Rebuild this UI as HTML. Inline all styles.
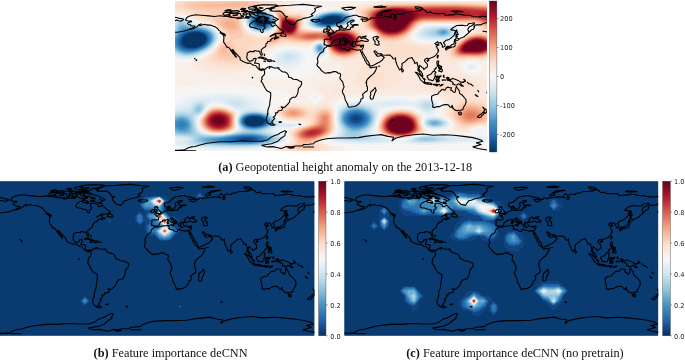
<!DOCTYPE html><html><head><meta charset="utf-8"><title>Figure</title><style>html,body{margin:0;padding:0;background:#fff}svg{display:block}text{font-family:"DejaVu Sans","Liberation Sans",sans-serif;font-size:6.6px;fill:#262626}.cap{font-family:"Liberation Serif","Times New Roman",serif;font-size:12.3px;fill:#111}</style></head><body>
<svg width="685" height="361" viewBox="0 0 685 361">
<defs>
<clipPath id="ca"><rect x="175" y="1" width="312" height="150"/></clipPath>
<clipPath id="cb"><rect x="0" y="181.2" width="314.5" height="154.6"/></clipPath>
<clipPath id="cc"><rect x="344.3" y="181.2" width="314" height="154.6"/></clipPath>
<linearGradient id="rb" x1="0" y1="0" x2="0" y2="1"><stop offset="0" stop-color="#67001f"/><stop offset="0.05" stop-color="#8a0b25"/><stop offset="0.1" stop-color="#b1182b"/><stop offset="0.15" stop-color="#c43b3c"/><stop offset="0.2" stop-color="#d6604d"/><stop offset="0.25" stop-color="#e48066"/><stop offset="0.3" stop-color="#f3a481"/><stop offset="0.35" stop-color="#f8bfa4"/><stop offset="0.4" stop-color="#fddbc7"/><stop offset="0.45" stop-color="#fae9df"/><stop offset="0.5" stop-color="#f7f6f6"/><stop offset="0.55" stop-color="#e4eef4"/><stop offset="0.6" stop-color="#d1e5f0"/><stop offset="0.65" stop-color="#b1d5e7"/><stop offset="0.7" stop-color="#90c4dd"/><stop offset="0.75" stop-color="#6bacd1"/><stop offset="0.8" stop-color="#4393c3"/><stop offset="0.85" stop-color="#327cb7"/><stop offset="0.9" stop-color="#2065ab"/><stop offset="0.95" stop-color="#124984"/><stop offset="1" stop-color="#053061"/></linearGradient>
<filter id="bl" x="-20%" y="-20%" width="140%" height="140%"><feGaussianBlur stdDeviation="1.2"/></filter>
</defs>
<g clip-path="url(#ca)"><rect x="175" y="1" width="312" height="150" fill="#fbe9df"/><rect x="175" y="1" width="312" height="150" fill="#f8f4f2"/><g fill-rule="evenodd"><path fill="#f9efe9" d="M175 1l312 0 0 126.8-1.8-.8-2.2-.4-4-.1-3.1 .5-4.1 2-2.8 3.9-4 .6-10.6-.5-3.4-.8-3.5-1.2 3.9-4 .9-2-.2-2-1.2-2-1.9-1.7-2-1.4-5.3-2.9-.7-1.6-.2-.4 2.4-6 .3-2-.3-2-1.1-2-2.4-2-4.7-2.2-4-1.1-6-.5-14 1.1-18-.4-40 1.6-6 1-6 1.4-4 1.7-1.6 1.4-.8 2-.1 2 .7 14 1.2 8-.3 2-1.2 2-1.9 1.7-7.4 4.3-1.7 2 1.1 1.3 2 1 15.8 3.7 2 2 1.4 2-77.1 0 1.9-.7 2.1-1.3 11.9-4.7 2.4-1.3 1.6-1.3 .6-.7 .3-2-2.7-6-.1-2 1.9-1.8 8.9-2.2 6.1-2-.8-2-2.2-.6-14-.9-4-.8-2-1.2-5-4.5-1.8-2-1.2-2 .2-2 1.8-2 2-1.5 6-3 4.4-1.5 1.6-1 2.8-1 .5-2-2.1-2-3.2-1.8-4-1.6-6-1.9-10-2-18-2.2-20-1-18 0-20 1.1-16 2.1 0-26.3 2 .7 4 .7 4 .2 4-.3 4-1 4-1.6 4-2.1 8-4.8 4-3.2 7-9 .9-2 .5-2-.3-2-.9-2-1.4-2-3.8-3.6-2-1.5-4-2-6-1.6-7.9-1.3-8.1-4.9-4-1.3-4-.3-4 .8zM257 8.7l-4 .9-4 1.7-2.5 1.7-1.7 2-.9 2-.4 4 .9 4 2.4 4 2.2 2.1 2 1.3 4 1.7 4 .6 4 .1 4-.6 4-1.7 2-1.3 2.3-2.2 1.7-3.5 .6-2.5 .1-2-.4-2-2.3-4.4-2-2.8-2-1.8-2-.9-2-.6-4-.4zM297 4.7l-2 1.3-.9 1 1.2 2 3.7 .5 10-.2 1-.3 1.5-2-2.1-2-4.4-1.1-4 0zM325 8.5l-8 1.5-4 1.4-2 1.6-4 4.5-2.1 3.5-.6 2-.1 2 1.3 2 3.5 1.4 6 1.2 8 .5 6-.4 24.9-4.7 3.1-1.7 1.3-2.3 .1-2-.6-2-1.1-2-1.7-2-4-3.2-4-1.8-4-.7-6-.1-6 .3zM371 32.9l-.4 .1-.6 2 1 .5 2-.4 0-.4-1.6-1.7zM423 25l-4 2.5-5.1 5.5-1.4 2-.7 2 .5 2 .7 .6 2 1 4 1.2 10 1.3 12 .8 4-.1 4-.4 4-1.3 2-1 10-6.6 4-2.4 2.5-1.1 2.1-2-.9-2-1.7-.6-8.6-1.4-15.4-.9-10-.2-8 .2zM315 42.8l-3.5 2.2-2 2-.5 .9-2 1-10-1.9-6-.5-4 0-4 .5-4 .9-2.8 1.1-3.2 1.7-3 2.3-1.6 2-3.4 6.4-3.9 5.6-.9 2-.1 2 .9 1.9 2 1.9 2 1.1 6 2.1 8 1.2 6 .5 8-.3 10-1.4 6-1.6 6-2.7 2-1.4 2-2.2 .7-1.1 .8-4 1.2-2 1.3-.7 2-1.7 1.1-1.6 .9-2 .5-4-.4-4-.5-2-.9-2-1.7-2-1-.7-2-.6-2-.1zM469 61l-2 .4-3.4 1.6-1.7 2-.4 2 .5 2 1.6 2 1.4 1 4 1.6 2 .3 4-.3 4-1.5 1.5-1.1 1.6-2 .5-2-.4-2-2-2-5.2-1.7-2-.4zM313 92.3l-2 .9-2.2 1.8-1 2 .2 2 1.8 2 3.2 1.3 2 .1 2-.4 2.1-1 1.8-2 .3-2-.8-2-1.4-1.4-2-1.1-2-.4zM209.5 107l1.5-1 2-.5 4-.3 4 .4 8 2.4 6.3 3 1.7 2 0 2-1.1 6 .8 6-.4 2-2.8 2-2.5 .8-6 1.4-6 .5-6-.1-4-.6-4-1.2-2-1.1-2-1.8-1.2-1.9-.7-2-.5-4 .5-2 1.3-2 3.7-4 2.9-3.7zM391.7 109l7.3-.8 8 0 6 1.3 4 2 5 3.5 .9 2-1 4 0 2 .7 2 2.4 3.2 2.9 2.8-2.8 2-6.5 2-11.6 3.2-6 .7-6-.2-4-.6-8-2.5-5.4-2.6-1.2-2-.1-2 .3-2 1.8-6 2.6-5.9 2-2.7 2-1.5 2-.9z"/><path fill="#fae9df" d="M175 1l119.9 0-1.9 .9-3.5 3.1-.8 2 .5 2 3.8 2.1 2 .2 8-.1 2 .3 2 .8 .8 .7-.3 2-2.5 4.5-1.4 3.5-.2 2 .8 2 2.8 1.4 2.1 .6 7.9 1.1 6 .3 8-.7 14-2.6 10-1.2 2.6-.9 1.6-2 .4-2-.1-2-1.8-4-2.7-3.5-2.6-2.5-.7-2 1.3-.8 2-.7 6-1.1 11.1-1.4 6.9-1.2 11.9-.8 85.6 0 10.5 .3 0 59.4-4 .4-12-1.1-4 .3-3.1 .7-4.2 2-2.1 2-.4 2 .6 2 1.6 2 2.6 2 3 1.5 6 1.5 10 .6 2 .5 4 2.1 0 47.1-6-.5-6 .8-1.5 .4-3.7 2-.8 .9-2 1.5-2 .6-4 .2-6.7-1.2-1.4-2 .8-4-.5-2-2.2-3-6.6-5-.9-2 2.7-8 .2-2-.5-2-2-2-2.9-1.6-4-1.7-4-1.2-4-.9-4-.4-20-.8-24 1.3-18 .2-6 .3-10 1.7-12 2.5-4 1.3-1.8 1.3 3.8 6.5 .9 3.5 .8 10 .9 8-.4 2-1.3 2-.9 .8-2 1.5-6.8 3.7-2.2 2 1 2 11.1 4 .9 2-2 2-54.9 0 .1-2 3-2 7.8-3.9 2-2.1 .1-2-1.8-4-.5-2 .5-2 2.6-2 7.6-2 5.8-2 .5-2-.8-.6-2-.6-15.4-.8-4.6-1.3-3.8-2.7-3.6-4-.6-2 .9-2 2.6-2 2.5-1.3 6-1.8 6-.7 6 0 4 .4 7.2 1.4 2.8 0 4-.9 7-3.1 .8-2-.7-2-3.1-4.4-2-1.6-1.7-2 1.4-2 2.3-1.3 4-1.5 10.7-3.2 3.7-2 1.8-2 1-2 2.1-6 .3-2-1.3-2-5-2-3.3-.9-4-1.9-2-2.4-1.5-8.8-1.5-4-1-1.4-2-1.5-2-.7-2 0-2 .3-3.3 1.3-4.7 3-2 .6-2 0-12-1.3-6 0-6 .6-4 1.3-4.2 1.8-3.6 2-2.4 2-5.8 7.9-6 5.2-6 3.7-6 2-6 1-6 .3-12-.2-12-1.4-6-1.3-3.9-1.2-3.3-2 .1-2 2.1-2 13-8.8 4-3.3 7.8-9.9 1.1-2 .4-2-.3-2-2.3-4-1.8-2-2.9-2.4-4-2.6-6-2.2-6-.9-4-1.2-1.6-.7-4.4-3.1-4-1.8-4-.7-6 .3zM255 8.6l-4 1.1-2.9 1.3-2.7 2-1.5 2-.7 2-.3 4 .9 4 2.1 4 3.1 3 2 1.1 4 1.6 4 .8 4 .1 4-.8 2-.7 4-2.3 2-1.8 1.8-3 1.1-4 0-2-.4-2-.9-2-1.6-3-2-2.8-2-1.9-2-1-2-.5-6-.1zM369 32.5l-1.1 .5-.2 2 1.3 1.3 2 .7 2-.3 1.4-1.7-.9-2-.5-.3-2-.4zM423 24.4l-2 .8-2.5 1.8-3.8 4-3.3 4-1.2 2-.3 2 1.6 2 3.5 1.3 10 1.7 16 1.4 6-.1 4-1.1 2-1 14-9 4-1.8 4.2-1.4 1.7-2-.9-2-1-.8-2-1.2-2-.2-34-1.4-8 .1zM210.6 107l2.4-.9 2-.2 6 .3 8 2.3 4 1.8 2 1.3 1.2 1.4 .3 2-1 6 .7 6-.6 2-3 2-3.6 1.1-4.4 .9-5.6 .5-6-.2-4-.6-4-1.4-2-1.2-2-2.2-1.4-2.9-.5-4 .6-2 1.3-2 6-7.1 2-2zM396.6 109l8.4-.2 6 .8 4 1.6 4 2.5 1.7 1.3 1.2 2-.5 4 .1 2 .7 2 2.7 4 1 2-2.5 2-5.8 2-10.6 2.9-6 .7-6-.2-4-.7-8.5-2.7-3.7-2-1.5-2-.2-2 .1-2 1.8-6.2 3-5.8 1-1.4 2-1.7 2-1 4-1.2z"/><path fill="#fbe4d6" d="M175 1l108.1 0 .9 2-.3 4 .8 2 2.1 2 2.4 .9 4 .9 8-.5 2 .2 2 .8 1 1.7-.5 2-2.5 5.7-.3 2.3 .4 2 1.9 1.4 2 .7 6 .9 10 .6 6-.4 18-3 4-.2 8 .4 .7-.4 .9-2 .4-4-1.2-4-3.5-6-.4-2 1.1-1 4-1.4 14-2.7 12-1.5 8-.4 56-.5 20 .3 16 .7 0 56.3-6 1-12-.7-14 2.4-12-1.6-14 3.6-16 2.3-5.9 1.2-3.5 2-.6 1.2-.3 .8 .1 2 .6 4-.3 2-1.2 2-2.5 2-3.8 2-6.6 2.3-6 1.2-6 .5-8-.2-8-1.1-3.3-.7-2.7-2-.4-4 .5-4 .6-2 2.2-4 6.8-8 .7-2-.6-2-1.8-.5-2 .2-8 1.8-8 .4-6-.5-6-1.9-2-1.2-1.6-2.3-2.2-8-.9-2-1.5-2-1.8-1.2-2-.6-4 .3-8 3.2-2 .4-20-1.2-4 .2-4 .9-10 4-4 2-2.3 2-4.8 6-5.2 4-5.7 2.8-6 1.8-6 .9-8 .3-8-.4-6-.9-6-1.5-2.5-1-2-2 .4-2 1.7-2 8.4-6.9 8.8-11.1 1.1-2 .5-2-.4-2-.8-2-1.5-2-3.7-3.7-4-3-4-2.1-6-1.8-6.5-1.4-7.5-4.7-4-1.5-4-.8-6-.3zM253 8.5l-4 1.3-4 2.4-.8 .8-1.2 1.9-.7 2.1-.1 4 .9 4 1.9 3.9 2 2.4 4 2.8 4 1.5 4 .8 4 .1 2-.2 4-1.6 4-2.4 2-1.7 2.1-3.6 1-4 .1-2-.4-2-.8-2-4-6.7-2-1.9-2-.9-2-.4-8 .2zM367 32l-1.5 1 .3 2 1.2 1.8 2 2 2 .9 1.1-.7 .9-.2 2-2.3 .4-1.5-.4-.8-.6-1.2-1.4-.8-2-.5-2-.1zM431 23l-4 .2-4 .7-2 .6-2 1.3-5.1 5.2-5.2 6-1.1 2-.1 2 1.5 1.3 1.5 .7 4.5 1.2 26 3.7 4 .1 2-.5 4-1.9 14-9.5 4-2.1 9.6-3 .6-2-1.2-2-2.1-2-2.9-.8-26-1.1zM432.1 75l4.9-.8 6-.2 6 .3 6 .9 16 4.3 3.9 1.5 3.2 2 1.9 2 .8 2 0 2-1.4 4-.1 2 1.6 2 6.1 3.9 0 24.1-6 .1-6 .9-3.6 1-6.4 3.1-2 .3-4-.4-2.1-1-1.2-2-1.2-4-1.4-2-6.3-6-.7-2 .5-2 .9-2 4.2-8-.4-2-3.4-2-24.7-8-3.1-2-1.7-2-.6-2 .7-2 2.4-2 6.1-2.7zM336.2 89l2.8-.2 3.8 .2 .3 2-4.1 1.2-4 .5-2-.7-1.2-1zM289.7 105l5.3-.4 4 .4 4 .6 8 2.1 2 0 8-2.5 4-.6 4 1.1 2 1.6 2 3.6 .5 2.1 1.3 14 .1 2-.6 2-1.3 2-2.5 2-7.6 4-2.6 2 0 2 2.7 1.6 5.3 2.4 .4 2-3.6 2-40.3 0-1.8-1.4-.5-.6 1.7-2 6.8-4 1.3-2-.1-2-1.8-4-.2-2 .9-2 2.9-2 12.7-4 1.3-2-1-1.8-2-.6-12 .1-6-.6-4-1.4-2-1.3-2.7-2.4-1.4-2-.1-2 1.5-2 4.7-2.6 4-1zM212.3 107l4.7-.6 6 .7 4 1.2 4 1.6 2.1 1.1 1.9 1.5 .4 .5 .5 2-.7 6 .4 6-.7 2-3.3 2-4.6 1.3-4.2 .7-5.8 .3-4-.2-4-.8-3.8-1.3-2.7-2-1.5-2-1.3-4 0-2 .5-2 1.3-2 5.5-6.5 2-1.9 2-1.2zM388.9 111l6.1-1.3 8-.4 6 .5 6 2.2 4.5 3 1.4 2 .1 6 .7 2 2.4 4 .3 2-2.4 2-5.4 2-9.6 2.5-6 .8-4 0-4-.6-8-2.1-4-1.9-1.2-.7-1.6-2-.5-2 .5-4 1.2-4 1.6-3.4 2-2.8 2-1.9 2-1.2z"/><path fill="#fcdecd" d="M175 3l0-.9 3-1.1 95.6 0 3.6 2 4.7 6 2.1 2 2.9 2 6.1 .9 8-.5 2 .4 1.5 1.2 0 2-2.1 6-.3 2 .2 2 .7 1.1 1.3 .9 2.7 .6 8 .9 10 .3 6-.6 12-2.2 6-.5 4 .3 6 2 2 1.2 1.9 2 3.3 6 .8 4-.2 4-.6 2-1.3 2-1.9 2-4 2.9-6 2.5-6 1-4 .1-6-1-2-.5-4-2.3-2-3.3-1.5-5.4-.9-2-1.6-2.2-2-1.3-2-.6-4 .3-8 2.7-2 .3-18-1.4-6-.2-2 .4-10 3.8-8 1.1-2 .8-2.6 2.3-4.1 6-2.1 2-3.2 2.2-6 2.6-6 1.4-8 .7-8-.4-6-1-4-1.2-2-1.2-1.1-1.1 .3-2 1.4-2 3.4-3.3 6-8.2 5.3-6.5 .4-2-.3-2-1.1-2-3.4-4-2.9-2.7-6-4.3-4-1.9-10-3-6-3.7-4-1.6-12-2.7zM259 6.7l-8 1.7-6 2.6-2.3 2-1.1 2-.3 2 .2 4 .9 4 1.6 4 3 3.6 2 1.6 4 2 2 .6 4 .9 4 .2 4-1.3 2-1.1 6.2-4.5 1.4-2 .8-2 1-4 .1-2-1.2-4-2.3-4.4-2-3.4-2-1.9-2-.9-2-.4-4 .1zM395.8 3l53.2-.8 16 .3 22 .9 0 54.4-6 1-12-.3-12 1.2-2-.2-4-1.2-2.1-1.3-1.7-2-.4-2 .5-2 1.6-2 4.6-4 9.5-7.1 4-2.3 4-1.7 10.9-2.9-.7-2-3.5-4-2.7-1.2-2-.5-4-.3-38-.4-6 .3-4 1.1-2.1 1-1.9 1.7-13.5 14.3-.9 2 2.4 1.7 2 .6 20 3.7 4.3 2 .3 2-2.8 2-5.8 1.8-6 1-6 .5-8 .3-8-.4-4-.7-4-1.5-1.7-1-1.7-2-.4-2 .8-2 1.3-2-.2-2-3.2-2-2.9-1.3-2-1.6-.8-1.1-.1-4-.9-2-2.2-1.3-2-.7-6-.8-1.4-1.2-.7-2-.7-6-.5-2-2.8-6-.6-2 1.2-2 1.5-.7 8-2.2 14-2.4zM372.9 73l4.1-.8 2 .2 2.3 .6 2.6 2 .7 2-.8 2-2.8 1.8-2 .6-4 .2-2-.3-2-.8-1.8-1.5-.4-2 1.1-2zM438.3 81l4.7-1 6-.4 6 .4 6 1 5.9 2 3 2 1.3 2-.2 2-1.5 2-2.5 1.8-2 .9-2 .5-4 .2-4-.3-10-1.6-5.2-1.5-4.5-2-2.3-2-.4-2 1.5-2zM462.6 99l2.4-1 2-.2 6 .7 6 1.7 4 1.6 4 2.3 0 19.7-12 1.5-10 3.1-2 .1-2-.2-2.6-1.3-1.4-1.7-2.6-4.3-3.9-4-1.5-2-.4-2 .5-2 1.1-2 2.8-3.6 4-3.5 4-2.4zM215.4 107l5.6 .2 4 .9 6 2.3 2 1.2 1.7 1.4 .7 2-.5 6 .2 6-.9 2-3.5 2-3.7 1-6 .9-4 .1-4-.2-4-.8-2.9-1-3.1-2.2-1.4-1.8-1.4-4 0-2 .5-2 1.3-2 7-7.8 2-1.3zM284.9 107l6.1-1.2 6 0 6 1.1 8 3 2 .1 8-3 4-.5 2 .3 2 .8 2 1.7 1 1.7 1.2 4 .9 14-.6 2-1.4 2-1.1 .9-2 1.4-7.3 3.7-3 2-.8 2 1.1 1.1 4.6 2.9-.1 2-5.5 2-26.9 0-2.1-.7-2.5-1.3 .7-2 5.5-4 1-2-.4-2-1.8-4 0-2 1.1-2 3.1-2 12.3-4 1.9-2 .4-2-.5-2-.8-.5-2-.1-8 1.4-6 .2-6-.7-4-1.6-3.5-2.7-1.2-2 .2-2 2.5-2.4zM391 111l4-.8 4-.4 8 .3 6 1.6 4 2.2 1.4 1.1 1.7 2 .4 2 .1 4 .6 2 2 4 0 2-2.3 2-5.2 2-8.7 2.2-6 .8-6-.3-6-1.2-4.5-1.5-3.8-2-1.7-2-.6-2 0-2 .8-4 1.7-4 2.1-3.3 2-2 2-1.2z"/><path fill="#fcd7c2" d="M180.1 3l7-2 76.8 0 5.5 2-4.8 2-7.6 1.2-8 2.1-6.4 2.7-1.9 2-.6 2-.1 2 .6 4 1.5 6 1.9 4 3 3.7 2 1.6 4.9 2.7 2.1 2-1.8 2-3.1 2-1.8 2-.4 2 .3 4-.4 2-1.2 2-2.2 2-3.8 2-4.6 1.3-4 .7-6 .3-6-.5-4-.9-2.3-.9-2.1-2 .2-2 6-10 7.4-8 .4-2-.5-2-1.3-2-3.7-4-6.1-5.5-4-3.1-4-2.6-10.6-4.8-12.9-4-4.9-2-1-2zM440.3 3l24.7 .2 22 .8 0 26.4-2-.1-2-1.4-4-4-4-2-4-.3-34-.4-12 .3-4 .9-3 1.6-11 11.2-2 1.7-4 2.5-4 1.4-2 .4-4 .2-4-.4-6-1.7-2-1.1-1.7-2.2-.5-2-1.1-2-.7-.6-2-1.2-6.9-2.2-1.5-2-1.7-8-2.6-6 .1-2 .6-.7 1.9-1.3 2.1-.8 10-2.5 10-1.6 10-.6zM271.7 5l1.3-.2 2 .8 4 2.5 6 4.9 2 .9 4 .9 4 0 4-.6 2 .1 1.7 .7 .9 2-2.1 8 .1 2 1.4 2.2 2 .6 4 .5 14 .9 6-.5 14-2.4 6-.3 4 .6 4 1.6 4 3 1.5 1.8 2 4 .7 4-.2 2-.4 2-.8 2-1.4 2-2 2-1.4 1.1-4 2.3-6 1.8-6 .3-6-.9-4-1.6-2-1.5-2-3.6-2.1-5.9-1.4-2-2.5-1.8-2-.6-4 .3-6 1.8-4 .6-24-2-2 .5-6 2.7-4 1.2-2 0-2.6-.7-2-2-.4-2 1-.9 .5-1.1 7.5-5.6 2.7-2.4 1.3-2 1.7-6 0-2-1.1-4-2.9-6-1.7-5zM479.4 33l3.6-.5 2 .1 2 .7 0 23.5-6 1.4-12-.3-8 .7-4 0-4-1.1-3-2.5-.6-2 .3-2 1.2-2 3.8-4 6.3-5.1 6-3.7 4-1.7 4-1zM447.9 87l1.1-.8 2-.7 2 0 2 .4 2.3 1.1-2.3 1.1-2 .2-2-.2zM460.6 103l2.4-1 4-.8 4-.1 4 .4 6 1.7 3.5 1.8 2.5 1.7 0 15.8-2 .7-10 1.5-10 2.2-2 0-2-.4-2-1.3-6.8-8.2-1.2-2-.1-2 .6-2 1.2-2 1.8-2 2.5-2zM288.8 107l6.2-.4 6 .9 4.3 1.5 3.3 2 .4 .6 2 1.4 2-.3 6-3.5 4-1.2 2-.2 2 .4 2 .9 2 1.9 1 2 .8 4 .6 10-.4 3-.3 1-1.5 2-2.6 2-11.5 6-1.5 2 1.4 2 2.5 2-.8 2-5.7 1.5-5.1 .5-7.4 0-3.5-.3-4-.8-2.5-.9-.4-2 4.5-4 .5-2-2.6-6 .1-2 1.4-2 3.2-2 12.1-4 2.2-2 .9-2 .3-2-.6-2-1.1-1.8-2 .3-6 2.5-6 1.1-4 .2-4-.4-4-1.1-1.6-.8-2.6-2-1.1-2 .4-2 2.9-2.3 2-.8zM210.1 109l2.9-1.2 2-.3 6 .2 6 1.5 4 1.7 2 1.3 .9 .8 1 2-.4 6 .1 6-1.1 2-3.8 2-2.7 .7-6 1-4 .1-4-.3-4-.8-2-.7-3.2-2-1.6-2-1-2-.5-2 0-2 .5-2 1.3-2 4.5-5.4 2-1.9zM393.3 111l3.7-.6 4-.2 6 .4 6 1.8 4 2.3 2.2 2.3 .7 2 .3 4 2.3 6-.2 2-2.4 2-5.1 2-5.8 1.6-8 1.1-6-.3-6-1.2-3.5-1.2-4-2-1.8-2-.6-2-.1-2 .7-4 1.7-4 1.6-2.4 1.5-1.6 2.5-1.8 2-1z"/><path fill="#fbccb4" d="M187 3l6-1.3 6.8-.7 55.8 0 5.5 2-2.8 2-11.3 3-8.3 3-1.5 2 1.8 5.5 4.1 16.5-1 2-1.1 .6-6.4 1.4-1.6 1.1-.3 .9 3.4 8 3 4 .9 2-.7 2-3.2 2-1.1 .4-4 .8-4 .2-6-.7-2-.7-2-1.8-.3-2.2 .3-2 1.6-4 2.4-3.4 4-3.3 7.3-3.3-1.3-.5-.5-1.5-1.8-2-14.4-14-1.4-2-.5-2 .4-2-1.2-2-16.6-2.9-4.6-1.1-5.4-2-1.2-2zM383.3 5l5.7-.7 6-.3 48-.6 24 .3 20 1 0 24.2-2-.2-2-1.1-2.8-2.6-3-2-4.2-.8-40-.3-8 .2-4.4 .9-3.5 2-8.1 8.6-6 4.5-4 1.7-4 .8-6 .1-4-.5-4-1.3-2-1.2-2.7-4.7-1.3-1-2-1.2-5.1-1.8-2-2-1.4-6-2.7-8 .7-2 3.4-2 9.1-2.6zM276.2 9l.8-.4 2 .8 6 4.3 2.8 1.3 5.2 .5 6-.4 2 .3 1.5 1.6-.1 2-1.4 5.2-.1 2.8 .6 2 1.5 1 4 .6 16 .9 6-.5 12-2.2 6-.4 4 .4 4 1.3 4.4 2.9 1.8 2 1.3 2 1.3 4 .2 2-.2 2-.6 2-.9 2-1.5 2-2.1 2-3.7 2.3-2 .9-4 1-6 .5-4-.5-4-1.1-2-1.1-2-1.5-2-3.7-1.8-4.8-1.3-2-2.9-2.1-2-.5-4 .2-6 1.7-4 .3-6-.3-16-2.1-2 0-2 .5-6 2.9-2 .6-2 .3-2-.4-1.4-1.1-.5-2 .6-2 1.7-2 6.8-6 1.2-2 1.1-4 .5-4-.4-2-3-8zM471.4 35l3.6-1 6-.5 4 .3 2 .6 0 21.8-4 1-4 .5-10-.4-10 .6-4-.7-2-1.1-1.2-1.1-.8-2 .2-2 .9-2 1.5-2 4.3-4 5.1-3.9 4-2.4zM467.9 103l5.1 0 6 1.2 4 1.8 3.8 3 .2 12-2 1-3.3 1-14.7 2.7-4-.1-2-.8-2-1.5-5.2-6.3-.9-2 0-2 .8-2 1.4-2 3.9-3.2 4-1.8zM211 109l4-1.1 6 .2 4 .9 4 1.5 4.2 2.5 1.1 2 0 10-.2 2-1.3 2-3.8 1.9-2 .5-6 1-4 .1-4-.3-4-.9-2-.8-2.5-1.5-1.7-2-1-2-.6-2 0-2 .5-2 1.3-2 4-4.9 2-1.9zM284.6 109l2.4-.8 4-.7 4-.1 4 .5 3.7 1.1 2.3 1.4 1 .6 1.1 2-.9 2-3.2 1.9-2 .7-6 .9-6-.4-3.8-1.1-2.2-1.4-.8-.6-1.1-2 .6-2zM318.3 111l2.7-1.3 4-.6 2 .3 2 1 2 2.3 1.2 4.3 .5 10-.2 2-.6 2-1.6 2-2.7 2-12.2 6-2.2 2 .5 2 1.7 2-2.1 2-4.3 .7-4 .3-6-.3-4-.7-1.8-2 3.5-4-.1-2-2.4-4-.7-2 .2-2 1.5-2 3.3-2 12-4 2.5-2 1-2 .6-6 1.2-2zM396.3 111l6.7-.3 6 .8 4 1.5 3.5 2 2 2 .8 2 .5 4 2 6-.4 2-2.4 2-5.1 2-6.9 1.7-6 .7-4-.1-6-.9-4.6-1.4-4.1-2-1.9-2-.7-2-.2-2 .7-4 1.7-4 3.1-3.7 2-1.5 4-1.8z"/><path fill="#f9c4a9" d="M195.7 3l9.3-.8 36-1.1 8 .5 6.2 1.4-1.5 2-6.7 2-8 1.6-8 .7-16 .3-10-.3-8-1-5.1-1.3-1.6-2zM387.5 5l7.5-.5 16 0 36-.6 20 .3 20 1 0 22.8-2-.4-2-1.1-4.4-3.5-3.6-1.1-2-.2-42-.2-6 .2-5.7 1.3-2.3 1.5-8 8.3-4 3.2-4 2.1-4 1.2-4 .6-4-.1-4-.6-4-1.2-2-1.6-2.2-3.4-1.8-1.5-2-1.1-3.6-1.4-2.3-2-.8-2-1.3-5.7-1.5-4.3-.2-2 1.2-2 .5-.3 3.3-1.7 2.7-.9 8-2zM276.5 11l.5-.8 2 .2 6 4 2 .9 6 .8 6-.2 2 .7 .3 .4 .3 2-.9 4-.3 4 .6 2.6 2 1.2 20 1 6-.5 14-2.4 6 .1 4 .9 5.2 3.1 2 2 1.3 2 .8 2 .5 2-.1 4-.5 2-2.6 4-2.4 2-2.2 1.4-4 1.7-2 .5-6 .4-6-.9-4-1.8-2-1.7-1-1.6-2.5-6-1.3-2-2.5-2-2.7-.9-4 .2-6 1.5-4 .3-6-.5-16-2.4-2 0-2 .6-4 2.1-4 1.5-2 0-1-.4-1.3-2 .4-2 1.3-2 4.6-4.1 2-2.3 .7-1.6 1.3-4.9 .2-3.1-.2-1.3-2.4-6.7zM219.4 17l3.6-1.3 4-.5 4 0 2 .3 2 .8 2 1.9 2 4.8 .8 6-.4 2-.4 .8-2 1.3-2 .4-2 0-4-1.3-4-2.7-5-4.5-1.7-2-1.2-2 0-2zM473 35l4-.8 4-.2 2 .2 4 1.1 0 20.3-4 1.1-4 .4-10-.3-8 .5-4-.4-2-.7-1.7-1.2-1.1-2 0-2 .9-2 3.3-4 4.7-4 3.9-2.8 4-2zM223.4 45l1.6-.8 2-.4 2 .7 1.8 2.5 .4 2-.1 4-1.1 2-1 .7-2 .7-2 .2-2-.3-2-.9-1.6-2.4 0-2 .6-2 1.1-2zM465.1 105l3.9-.7 6 .3 4 1.1 4 2.2 2 1.7 1.2 1.4 .8 1.5 0 5.7-.4 .8-2.1 2-1.5 .6-4.9 1.4-7.1 1.3-4 .5-2-.1-2-.4-2-1-2.5-2.3-3.2-4-.6-2 .1-2 1-2 1.7-2 1.5-1.2 2-1.3zM212.4 109l4.6-.7 6 .6 6 2 3.4 2.1 1.4 2 .2 2-.1 8-.4 2-1.5 2-5 2.2-6 .9-4 .1-4-.3-4-.9-4-2.2-1.6-1.8-1.1-2-.6-2 0-2 .5-2 1.2-2 3.6-4.3 2-2 2-1.2zM287 109l2-.5 4-.4 6 .6 2 .7 2.9 1.6 1.1 2-1 2-3 1.6-2 .7-4 .5-6-.4-2-.5-3.4-1.9-1.1-2 .8-2zM320.8 111l2.2-.7 2-.2 2 .4 2 1.1 2 3 .7 4.4 .2 8-.1 2-.7 2-1.6 2-2.8 2-13 6-3.4 2-.5 2 1 2-1.8 .9-2 .5-4 .3-4-.8-1.8-.9 2.1-4-1-2-3.1-4-.8-2 .3-2 1.7-2 3.4-2 12-4 2.5-2 1.1-2 1-6 1.4-2zM389.9 113l5.1-1.4 4-.4 4 0 6 .8 4 1.5 2 1.1 2.7 2.4 1 2 .7 4 1.7 6-.5 2-2.4 2-5.1 2-6.1 1.5-6 .6-6-.3-4-.7-4-1.2-3.9-1.9-2-2-.8-2-.3-2 .7-4 1.8-4 1.5-2 3-2.6z"/><path fill="#f7b99c" d="M228.7 3l10.3-.5 6 .1 3 .4 .5 2-7.5 1.6-6 .4-14-.5-14 .4-4-.8-2.5-1.1 6.5-.6 14-.3zM394.2 5l17 0 37.8-.7 18 .4 20 1 0 21.3-2-.4-6-4-2-.7-4-.7-48 .1-4 .7-2 .7-2 1.2-8 8.3-4 3-4 2.1-4 1.2-4 .5-6-.2-4-.8-2.1-1-1.9-1.7-1.7-2.3-2.3-1.9-4.4-2.1-2.5-2-.9-2-2.6-10 .1-2 1.6-2 .7-.4 3.4-1.6 4.6-1.4 8-1.7zM277.1 13l1.9-1.7 2 .9 4 2.8 2 .8 4 .7 6 .1 2.5 .4 1.4 2-.9 6 .1 4 .9 1.8 2 .6 18 .7 4-.1 14-2.3 6-.6 4 .3 4 1.2 4.1 2.4 2.1 2 1.4 2 .9 2 .6 4-.2 2-.7 2-1 2-1.7 2-3.5 2.7-6 2.3-6 .5-4-.5-2-.5-4-1.9-2.5-2.6-2.7-6-1.2-2-2.3-2-1.3-.7-2-.5-4 .2-6 1.3-4 .2-6-.6-16-2.5-2-.1-2 .6-6 3.1-2 .4-2-.4-.9-1 0-2 1.2-2 5.7-5.6 1.1-2.4 .9-3.6 .5-4.4-.4-2zM222.8 19l2.2-.7 4-.5 4 .5 2 1 1.5 1.7 .9 2 .4 2 0 2-.7 2-2.1 1.2-2 .3-2-.1-3.8-1.4-2.2-1.4-2.9-2.6-1.4-2-.2-2zM475 35l6-.4 6 1.2 0 19.2-4 1.3-4 .4-10-.2-8 .2-4-.5-2.4-1.2-1.3-2-.1-2 .7-2 3.3-4 4.5-4 5.3-3.4 4-1.7zM223.6 47l1.4-.5 2 .5 .6 2-.7 2-1.9 1.2-2-.2-.9-1-.1-2 1-1.6zM463.4 107l3.6-1.1 6-.2 4 .8 4 1.8 3.2 2.7 1.1 2 .5 2-.2 2-1 2-2.5 2-7.5 2-7.6 .8-2-.2-2-.6-2-1.2-2.8-2.8-1.3-2-.5-2 .3-2 1.1-2 2-2zM214.2 109l4.8-.3 4 .6 5.1 1.7 3.6 2 1.5 2 .4 2-.2 8-.4 2-1.7 2-2.3 1.1-4 1.2-6 .7-4-.2-4-.6-2-.6-3-1.6-2-2-1.2-2-.6-2 0-2 .5-2 2.7-4 3.6-3.7 2-1.3zM290.4 109l4.6-.2 4 .8 3 1.4 1.2 2-1.2 2-1 .5-2 .8-4 .8-4-.1-2-.4-3.8-1.6-1.3-2 1-2 2.1-1.1zM319.7 113l3.3-1.6 2-.2 2 .4 2.1 1.4 1.2 2 .8 4 .1 8-.2 2-.8 2-1.6 2-3.6 2.4-6 2.8-10 4-4 .7-2-.2-2-.9-2-1.6-2.9-3.2-.8-2 .4-2 1.8-2 3.5-2 12.1-4 2.5-2 1-2 .7-4 .7-2zM391.2 113l5.8-1.3 6-.2 6 1 4 1.5 1.6 1 2.4 2 1.2 2 2.3 10-.7 2-2.4 2-4.4 1.7-4 1.1-6 1-6 0-4-.5-4.8-1.3-4.3-2-2.1-2-1-2-.3-2 .6-4 1.9-4 2-2.4 4-2.8z"/><path fill="#f6af8e" d="M426.9 5l28.1-.2 32 1.3 0 20.1-2-.4-6-3.7-2-.8-4-.5-44 0-6 .4-4 1-2 1-2.1 1.8-5.9 6.5-6 4.3-6 2.1-6 .6-6-.6-4-1.5-2-1.9-1.2-1.5-2.3-2-3.9-2-2.6-2-1-2-2.3-10 .3-2 1.9-2 5.1-2.3 8-2 8-1.1zM278.1 13l.9-.8 2 .7 4 2.5 4 1.3 8 .6 2 .5 1 1.2 .1 2-.7 8 .8 2 .8 .6 2 .4 20 .5 6-.7 12-2.1 4-.3 4 .4 4 1.3 4 2.6 2.9 3.3 .8 2 .7 4-.9 4-1.2 2-1.7 2-4.6 3-6 1.8-4 .2-4-.5-2-.6-2-.7-2-1.2-2-2-4.1-8-2-2-1.9-1-2-.5-4 .2-6 1.2-4 .1-4-.4-20-3-2 .4-6 3.2-2 .3-1.2-.5-.6-2 1-2 4.1-4 1.4-2 1.6-6 .4-4-.3-2-1.2-4zM226.2 21l2.8-.5 2 0 2 .6 2.1 1.9 .3 2-.4 1.2-.7 .8-1.3 .6-2 .1-2-.3-2-1-1.8-1.4-.9-2 .7-1.1zM469.2 37l3.8-1.3 6-.7 4 .3 4 1.1 0 18.2-4 1.2-4 .5-10-.2-8 .2-4-.8-2-1.4-.8-1.1-.2-2 .7-2 1.3-2 1.8-2 4.5-4 4.7-3zM468.4 107l2.6-.2 4 .4 4 1.5 2 1.3 1.1 1 1.4 2 .5 2-.2 2-1.1 2-3.2 2-8.5 1.8-4 .1-2-.4-3-1.5-2.1-2-1.3-2-.5-2 .4-2 1.3-2 2.6-2 2.6-1.2zM210.1 111l2.9-1.3 2-.4 4-.1 6 1.1 4 1.6 1.9 1.1 1.8 2 .5 2-.2 8-.6 2-1.9 2-1.5 .7-3.8 1.3-4.2 .6-4 .1-4-.4-4-1.1-2.3-1.2-2.1-2-1.2-2-.7-2 0-2 .5-2 1.1-2 2.7-3.3zM286.8 111l4.2-1.3 4-.1 2 .4 3 1 1.4 2-1.5 2-.9 .4-4 .9-4-.1-4.1-1.2-1.5-2zM321.7 113l1.3-.5 2-.3 2 .5 2 1.7 1 2.6 .4 10-.2 2-.8 2-1.6 2-2.9 2-3.9 1.9-10 3.6-4 .9-2 0-4-1.1-2-1.4-1.9-1.9-.9-2 .4-2 .4-.4 1.5-1.6 3.7-2 10.8-3.5 2-1 1.8-1.5 1-2 .8-4 .8-2zM392.6 113l6.4-1.1 6 .2 6 1.5 4 2.2 2 2.1 1.2 3.1 1.5 6 .2 2-.8 2-2.5 2-3.6 1.5-4 1.1-6 .9-6 .1-4-.6-4-1-4.4-2-2.2-2-1-2-.3-2 0-2 1.3-4 2.6-3.7 2-1.7 2-1.3z"/><path fill="#f3a481" d="M381.6 7l5.4-.9 6-.4 20 .1 30-.7 22 .4 22 1.1 0 18.7-2-.4-4-2.3-3.5-1.6-4.5-.7-20 .3-24-.2-6 .4-4 1-2.5 1.2-2.2 2-5.4 6-3.9 3-4 2.1-6 1.6-4 .2-4-.3-4-.9-2-1-5-4.7-3.5-2-2.7-2-1-2-1.8-8-.3-2 .6-2 2.1-2 5.6-2.4zM278.6 15l.4-1.9 2 .5 4 2.2 2 .8 2 .5 8 .8 2 1 .5 2.1-.5 6 0 3.3 .2 .7 1.8 1.4 24 .3 14-2.5 4-.4 4 .1 4 .9 4.3 2.2 2.3 2 1.5 2 1 2 .5 2-.1 4-.7 2-1.3 2-1.5 1.7-4 2.7-4 1.4-6 .7-6-1.1-4-2-2-2.1-4-7.7-2-1.9-2-1-4-.5-8 1.2-4 .1-24-3.7-2 .4-4 2.4-2 .8-2-.2-.7-1.2 .7-2 4-4 1.2-2 .8-3.1 .9-6.9-.2-2zM470.2 37l4.8-1.3 4-.3 4 .3 4 1.3 0 17.1-4 1.3-4 .5-18-.1-2-.3-2-.7-1.9-1.8-.4-2 .6-2 3.1-4 2.6-2.4 4-3zM465.5 109l3.5-.9 2-.1 4 .5 2 .7 2.9 1.8 1.7 2 .6 2-.2 2-1.4 2-4 2-3.6 .7-4 .3-2-.2-2.7-.8-2.7-2-1.3-2-.4-2 .5-2 1.6-2zM210.8 111l2.2-.9 2-.4 6 .1 4.9 1.2 4.2 2 2 2 .6 2-.2 8-.6 2-2.9 2.4-4 1.3-4 .6-4 .1-4-.4-4-1.2-2-1.2-1.8-1.6-1.3-2-.6-2-.1-2 .5-2 1.1-2 3.4-4zM289 111l4-.6 4 .4 .5 .2 2.1 2-2.6 2.1-2 .4-4-.1-2-.5-1.9-1.9zM394.2 113l4.8-.7 6 .2 6 1.6 4 2.3 2.1 2.6 2.1 8 .1 2-.8 2-2.6 2-2.9 1.2-4 1.2-6 .9-6 0-4-.5-4-1.1-3.7-1.7-2.3-2-1.1-2-.4-2 .1-2 1.3-4 2.1-3.1 2-1.8 4-2.2zM321 115l2-1.3 2-.4 2 .6 1.2 1.1 1 2 .3 2-.1 10-.8 2-1.6 2-3 2-5 2.3-6 2.1-4 .9-4 .2-2-.4-2-.8-2-1.4-.9-.9-1-2 .4-2 2-2 3.9-2 12.3-4 2.4-2 .9-2 .9-4z"/><path fill="#ee9677" d="M383.7 7l5.3-.7 6-.4 18 .2 32-.6 20 .4 22 1.2 0 17.5-2-.4-6-3.2-2-.6-4-.5-20 .3-24-.1-6 .3-4 .9-3.2 1.7-7.5 8-3.3 2.5-4 2.1-4 1.2-4 .5-6-.3-4-.9-2-1.1-4.5-4-5.9-4-1.1-2-1.7-8-.1-2 .7-2 2.3-2 6.3-2.6zM279.1 15l1.9-.8 5.8 2.8 8.2 1.1 2.9 .9 1.1 2-.5 10 .5 1.4 2 .9 10-.4 12 .2 4-.3 10-2 6-.7 4 .1 4 1.1 4 2.1 1.9 1.6 1.6 2 1 2 .5 2-.2 4-.7 2-1.3 2-2 2-2.8 1.9-4 1.5-6 .6-4-.5-2-.6-4-2.1-2-2.2-2.2-4.6-1.8-2.8-2-1.9-2-1-4-.4-8 1.1-4 0-6-.9-6-1.5-6-.5-6-.9-2 .2-4 2.3-2 .7-1.1-.4 .2-2 3.6-4 1.3-3.5 1.2-8.5zM471.2 37l3.8-1 4-.3 4 .4 4 1.3 0 16.3-4 1.2-4 .6-16-.1-4-.4-2-.9-1.1-1.1-.5-2 .5-2 3.1-4 6-5.1 4-2.1zM211.9 111l3.1-.9 6 .1 4 .9 4.3 1.9 2.2 2 .7 2 .1 6-.2 2-.8 2-2.3 2-2 .8-4 1-4 .4-6-.5-4-1.4-2-1.2-2-2.2-1.2-2.9-.2-2 .6-2 2.8-4.3 2-2zM464.6 111l2.4-1.1 2-.4 4 0 2 .4 2.4 1.1 2.2 2 .7 2-.3 2-1.7 2-3.3 1.4-4 .7-4-.4-3.3-1.7-1.6-2-.4-2 .7-2zM289.3 113l1.7-1.1 2-.5 2 .3 2.3 1.3-2.3 1.3-2 .2-2-.5zM396.2 113l4.8-.4 6 .7 4 1.3 3.9 2.4 1.6 2 .5 1.2 1.8 6.8 0 2-1 2-2.6 2-4.2 1.6-4 1-6 .6-6-.3-4-.9-4-1.5-2-1.2-1.4-1.3-.6-1-.5-1-.5-2 .1-2 1.2-4 1.7-2.5 2-1.9 2-1.3 4-1.6zM323 115l2-.4 2 .8 1 1.6 .5 2 0 10-.7 2-1.7 2-3 2-4.1 1.8-4 1.5-6 1.4-4 0-2-.4-2-.9-1.9-1.4-1.1-2 .5-2 2-2 4.1-2 12.5-4 2.4-2 .8-2 1-4z"/><path fill="#e8896c" d="M385.9 7l9.1-.8 20 .3 32-.6 20 .4 20 1.2 0 16.3-2-.3-6-3-4-.9-24 .3-22-.2-6 .3-4 .9-4 2.1-6 6.7-2 1.8-4 2.6-4 1.7-4 .8-4 .3-4-.3-4-1-2-1.1-4-3.5-5.7-4-1.1-2-1.6-8 0-2 .9-2 2.4-2 3.1-1.4 4-1.3zM280.7 15l.3-.1 6 2.4 8 1.3 2 .6 1.4 1.8 .1 4-.6 6 .4 2 .7 1 2 .2 10-.9 12 .3 6-.9 8.3-1.7 5.7-.6 4 .2 4 1.1 2.6 1.3 2.6 2 1.7 2 1 2 .5 2 .1 2-.3 2-.7 2-1.4 2-2.1 2-4 2.3-4 1.1-6 0-4-.9-4-2.3-2-2.3-3-5.9-1-1.3-2-1.8-4-1.5-2 0-8 1.2-4-.1-3.4-.5-6.6-2-8-.4-6-1-2 0-2 .6-2 1.2-1.4-.4 2.9-4 .5-1.6 1.3-8.4 .1-2-.4-4zM472.3 37l4.7-.9 4 .1 2 .3 4 1.4 0 15.3-4 1.4-6 .6-16-.3-2-.4-2.3-1.5-.7-2 .5-2 1.2-2 1.8-2 5.5-4.7 4-2.2zM213 111l4-.7 6 .6 5.5 2.1 2.4 2 .8 2 .2 4-.3 4-.9 2-1.7 1.4-2 1-4 1.1-4 .4-4-.2-4-1-2-.8-2.5-1.9-1.5-2-.7-2-.2-2 .5-2 2.4-3.7 2-2.1 2-1.4zM468.5 111l2.5-.3 2 .2 2 .7 2 1.2 1.2 2.2-.4 2-2.5 2-2.3 .6-4 .1-2.5-.7-2.2-2-.4-2 1.1-2.2 2-1.2zM400.5 113l4.5 .3 4 .9 4 1.9 2 1.6 1 1.3 .8 2 1.5 6 0 2-1.1 2-2.7 2-3.5 1.3-4 1-6 .7-6-.4-4-.9-4.4-1.7-2.4-2-1.2-2-.5-2 0-2 1.3-4 1.4-2 2-2 3.8-2.2 4-1.2zM323.2 117l1.8-.7 1.2 .7 .8 1.1 .2 .9-.1 4 .5 6-.7 2-1.7 2-3 2-3.2 1.4-4 1.4-4 1-4 .4-2-.2-2-.5-2.8-1.5-1.3-2 .5-2 1.6-1.5 4.9-2.5 7.1-2 5.6-2 2.4-2 1-2 .3-2z"/><path fill="#e27b62" d="M388.6 7l8.4-.5 18 .4 20-.5 16-.1 18 .5 18 1.2 0 15.1-2-.3-6-2.8-4-.8-24 .3-22-.1-6 .2-4 .9-4 2-2 1.9-3.8 4.6-2.2 2-4 2.6-2 1-6 1.6-4 .2-4-.3-4-1.1-2-1-3.5-3-5.5-4-1.1-2-1.6-8 .1-2 1-2 2.7-2 3.9-1.7 4-1.1zM280.5 17l.5-1.2 2 .4 4 1.4 8 1.4 2 .9 .8 1.1 .4 2 0 2-1.6 10-3.6 1.1-4 .1-8-1.4-1.7-1.8 1.2-10zM339 31l6-.3 4 .7 4 1.7 2.6 1.9 1.4 1.6 1.3 2.4 .6 2 .1 2-.3 2-.8 2-1.4 2-1.5 1.4-4 2.4-4 1.2-4 .2-4-.5-4-1.6-2-1.4-2-2.5-2.6-5.2-1.4-1.8-2-1.7-2-1-2-.5-2-.1-6 1.1-4 .1-4-.6-4.5-1.5 1.1-2 3.4-.6 6-.6 12 .3zM473.7 37l3.3-.5 4 0 4 1 2 .8 0 14.5-4 1.4-6 .7-16-.4-2-.6-1.5-.9-.9-2 .5-2 1.1-2 1.7-2 3.1-2.8 4-2.7 4-1.8zM214.8 111l4.2-.3 4 .6 4.6 1.7 2.6 2 1.1 2 .2 4-.4 4-1.1 2-3 2-4 1.1-4 .4-4-.2-4-1-2-.9-1.9-1.4-1.5-2-.8-2-.2-2 .5-2 1.1-2 2.8-3.2 2-1.5zM468.5 113l2.5-.4 2.4 .4 2 2-.6 2-1.8 .8-2 .4-2-.3-1.8-.9-.6-2zM391.5 115l5.5-1.4 6-.2 6 1.2 4 2 2.5 2.4 .9 2 1.1 4 .4 2-.2 2-1.1 2-2.8 2-2.8 1-4 1.1-4 .6-4 .1-4-.4-4-.9-3.7-1.5-2.5-2-1.3-2-.5-2 0-2 .4-2 1.6-3.1 2-2.2 2-1.5zM320.7 125l2.3-1.4 2 .1 1.4 3.3 .2 2-.6 2-1.7 2-3.1 2-4.2 1.7-4 1.2-6 .7-4-.8-1.6-.8-1.6-2 .5-2 2.7-2.2 4.2-1.8 7.5-2z"/><path fill="#dc6e57" d="M392.4 7l6.6-.1 16 .4 22-.6 16 0 12 .4 22 1.4 0 14-2-.3-6-2.6-6-1-18 .5-26-.1-6 .3-4 .8-4 1.9-2 1.7-4 4.8-2 1.9-2 1.5-4 2.2-4 1.3-4 .6-4-.1-4-.6-2-.7-2-1.1-8.3-6.5-1.2-2-.5-2-1-6 .2-2 1.2-2 1.6-1.3 4-1.9 8-2.1zM280.9 17l2.1-.3 4 1.2 8 1.6 2 1.2 .8 2.3-.2 4-1.4 6-1.2 1.6-2 .8-4 .3-6-1.2-2-.7-.8-.8-.2-4 .8-6zM342.4 31l4.6 .3 2 .5 3 1.2 3 2.1 1.7 1.9 1.1 2 .6 2 .1 2-.4 2-.8 2-1.5 2-2.3 2-4.5 2.1-4 .7-4-.2-4-1-2-1-3-2.6-3.3-6-1.7-2.3-4-2.8-2-.4-2-.1-6 .9-4 .1-5.8-1.4 2-2 1.8-.3 6-.4 10 .3 14-3zM475.4 37l5.6-.1 4 .9 2 .9 0 13.6-4 1.6-6 .7-14-.3-2-.2-2.6-1.1-1.2-2 .4-2 1.1-2 2.3-2.5 2-1.9 4-2.8 4-1.8zM210.7 113l2.3-1.1 2-.5 4-.2 6 1.2 2 .8 2 1.3 1.7 2.5 .4 2-.1 4-.5 2-1.2 2-2.3 1.5-2 .8-6 .9-6-.6-2-.6-3.1-2-1.7-2-.8-2-.2-2 .4-2 1.1-2 2.3-2.7zM392.6 115l4.4-1.1 6-.2 6 1.3 3.9 2 2.1 2.1 .9 1.9 1.2 4 .3 2-.2 2-1.2 2-2.9 2-4.1 1.4-4 .8-4 .3-4-.1-4-.7-4-1.3-2-1.1-1.7-1.3-1.3-2-.6-2 0-2 .5-2 .9-2 2.2-2.8 2-1.5zM316.8 127l4.2-1.1 2-.1 2 1.4 .5 1.8-.5 2-1.6 2-3.2 2-5.2 1.9-4 .9-4 .2-2-.3-2.2-.7-2-2 .4-2 2.5-2 4.9-2z"/><path fill="#d6604d" d="M380.6 9l6.4-1.3 8-.5 22 .6 28-.8 18 .5 24 1.5 0 12.8-2-.2-8-3.1-4-.4-20 .6-24-.2-6 .3-4 .9-4 1.8-2 1.6-6 6.8-2 1.5-4 2.3-6 1.6-6 .2-4-.7-2-.7-2-1.2-7.7-5.9-1.2-2-1.2-6-.2-2 .3-2 1.2-2 2.8-1.9zM281.2 19l1.8-1.9 10 2.2 2 .6 1.7 1.1 .7 2-.1 4-1 4-1.3 2.5-2 1.3-4 .5-6-1.3-1.9-1-.8-2 0-2zM331.8 33l7.2-1.5 6-.1 4 .7 4 1.9 3.2 3 1.1 2 .6 2 .1 2-.4 2-.9 2-1.5 2-2.2 1.8-2 1.1-4 1.2-2 .3-4-.2-4-1-2-1-2.5-2.2-3.5-6.1-2-2.7-2-1.8-2-1.1-1.8-.3 2.2-2zM309.3 35l7.5 0 1.8 2-7.6 .7-4.9-.7zM469.4 39l3.6-1.3 6-.6 4 .5 4 1.6 0 12.7-4 1.6-6 .8-14-.3-2-.3-1.7-.7-1.5-2 .3-2 1.1-2 3.9-4 3.9-2.8zM211.5 113l3.5-1.2 2-.2 4 .2 4.6 1.2 3.3 2 1.3 2 .5 4-.7 4-1 1.6-2 1.4-2 1-6 .8-6-.6-2-.8-2.4-1.4-1.8-2-.9-2-.2-2 .4-2 1.1-2 1.8-2.2zM393.7 115l5.3-1 4 .1 4.8 .9 4.4 2 2.2 2 .6 1 1.6 5 .4 2-.3 2-1.3 2-3 2-3.4 1.1-4 .9-4 .3-4-.1-4-.7-4-1.4-2-1.2-1.1-.9-1.4-2-.6-2 0-2 .4-2 .9-2 1.8-2.2 2.2-1.8zM310.2 129l10.8-2 2 .5 1.2 1.5-.2 2-1.6 2-3.2 2-6.2 2-4 .5-4-.4-2-1-1.1-1.1 .3-2 2.6-2z"/><path fill="#cf5246" d="M382 9l5-1 8-.6 22 .8 30-.6 18 .5 22 1.5 0 11.6-2-.3-6-2.4-4-.8-22 .5-24-.2-6 .3-4 .9-4 1.8-2.5 2-5.5 6.3-2.1 1.7-3.9 2.2-2 .8-4 .9-6 .2-4-.7-2-.7-2-1.2-7-5.5-1.3-2-.6-2-.8-6 .4-2 1.3-1.9 3.1-2.1zM281.7 19l1.3-1.3 10 1.9 2 .7 1.1 .7 1 2-.1 4-1.1 4-1.3 2-1.6 1.2-2 .6-2 .1-4-.7-3-1.2-1-1.3-.4-2.7zM333 33l6-1.2 6-.1 4 .8 4 2 2.6 2.5 1.2 2 .6 2 .1 2-.4 2-.9 2-1.6 2-1.6 1.3-2 1.2-4 1.2-4 .3-2-.1-4-1.1-2-1.1-2-1.7-1.4-2-2.6-4.7-2-2.6-2-2.1-1.3-.6 2.2-2zM470.2 39l4.8-1.4 4-.2 4 .5 4 1.7 0 11.9-4 1.7-4 .7-14-.1-4.6-.8-2-2 .2-2 1.1-2 1.7-2 3.6-3.1zM212.5 113l4.5-1 4 .2 4 1 3.1 1.8 1.5 2 .5 2-.1 4-1 2.7-1.2 1.3-2.8 1.5-4 .9-4 .1-3.2-.5-4.4-2-1.9-2-1-2-.2-2 .4-2 2.3-3.5 2-1.7zM395 115l4-.6 6 .3 4 1.1 2 .9 2 1.5 2 2.8 1.2 4 .3 2-.3 2-1.4 2-3.2 2-2.6 .9-4 .9-4 .3-4-.2-4-.7-3.6-1.2-2.9-2-1.5-2-.6-2-.1-2 .5-2 .9-2 1.6-2 2.7-2zM312.2 129l4.8-.8 4-.1 1.6 .9 .3 2-1.5 2-3.5 2-4.9 1.5-4 .5-2-.1-2-.6-2-1.3 .3-2 2.7-2z"/><path fill="#c84440" d="M383.3 9l5.7-.9 6-.4 22 1 32-.6 18 .6 20 1.5 0 10.3-2-.2-6-2.4-4-.7-22 .5-24-.1-6 .2-4 1-4 1.8-3.1 2.4-5.1 6-2.6 2-3.2 1.8-2 .8-4 .9-6 .2-4-.7-4-1.9-6.4-5.1-1.3-2-.6-2-.7-6 .4-2 .6-.8 .9-1.2 3.2-2zM282.2 19l.8-.8 2 .1 8 1.6 2.4 1.1 1.3 2 0 4-1.2 4-1.6 2-.9 .7-2 .7-4-.1-4.1-1.3-1.7-2-.3-4zM334.2 33l6.8-1.1 4 .1 4 .9 4 2 2.1 2.1 1.2 2 .6 2 .1 2-.4 2-1 2-1.7 2-2.9 2-4 1.4-2 .2-4-.1-4-1.2-2-1.1-2-1.8-4-6.7-3.8-4.7 2.3-2zM471 39l4-1.1 4-.2 4 .6 4 1.8 0 10.9-4 1.8-4 .8-14-.1-4-.7-2-1.8 .1-2 1-2 1.7-2 3.2-2.8 2-1.3zM213.8 113l3.2-.6 4 .2 4 1.2 2.3 1.2 1.7 2 .6 2 .1 2-.2 2-.7 2-1.8 2-4 1.6-2 .4-4 .1-4-.8-2.7-1.3-1.3-1.1-.8-.9-1.1-2-.3-2 .4-2 1.1-2 1.9-2zM396.7 115l4.3-.4 4 .4 4 1.2 2 1 2 1.5 2 3.4 1 4.9-.3 2-1.5 2-3.2 2-2 .6-4 .9-4 .4-4-.2-4-.8-2.8-.9-3.2-2-1.5-2-.7-2 .2-3.1 1.2-2.9 1.7-2 2.8-2 2.3-1zM315 129l4.9 0 1.1 .7 .6 1.3-1.4 2-3.6 2-1.6 .5-6 .8-2-.2-2.6-1.1 .1-2 2.9-2z"/><path fill="#c13639" d="M384.8 9l6.2-.8 6-.2 22 1.3 18-.6 16 0 10.3 .3 11.7 1.1 12 .7 0 9-2-.1-6-2.4-4-1-20 .9-26-.1-6 .2-4 .9-5.4 2.8-2.3 2-5.2 6-2.6 2-2.5 1.4-2 .8-4 .9-6 .2-4-.7-2-.8-5.5-3.8-2.3-2-1.3-2-1-4-.3-4 .5-2 1.6-2 4.3-2.4zM282.7 19l.3-.3 2-.1 8 1.6 2 .9 1.3 1.9 .3 2-.2 2-.5 2-.9 2-2 2.2-2 .8-4 0-4-1.5-1.4-1.5-.4-2 0-2 .8-6zM335.4 33l5.6-.8 4 .1 4 .9 3.4 1.8 2.2 2 1.2 2 .6 2 .1 2-.4 2-1 2-1.8 2-2.3 1.6-2 .9-4 .8-4-.2-2-.4-4-2-2.6-2.7-2.2-4-3.9-6 2.5-2zM471.9 39l5.1-1 4 .2 3 .8 3 1.5 0 10-4 2-2.2 .5-3.8 .4-14-.5-2-.7-1.4-1.2 0-2 1-2 1.7-2 4.7-3.7zM215.8 113l3.2-.2 4 .7 3.4 1.5 1.9 2 .8 2-.1 3.7-.9 2.3-1.1 1.2-2 1.3-2 .7-4 .5-2 0-2-.3-3.8-1.4-2.3-2-1.1-2-.4-2 .4-2 1.1-2 2.1-2.1 2-1.1zM400.1 115l2.9 .1 4 .8 2.9 1.1 3.1 2.4 1.1 1.6 .8 2 .7 4-.4 2-1.6 2-3.5 2-3.1 .9-4 .6-4 .1-4-.5-4-1.1-2-1.1-2-1.6-1-1.3-.7-2-.1-2 .5-2 1.3-2.4 2-2 4-2.3 4-1zM309 131l4-.9 4-.4 2 .5 1 .8-1 2-4.2 2-5.8 .6-2.8-.6-.4-2z"/><path fill="#ba2832" d="M386.4 9l6.6-.7 6 0 22 1.8 18-.7 12 0 12 .6 14 1.2 8 .2 2 .3 0 7.5-2-.1-6-2.8-2-.7-2-.3-24 1.2-22-.4-6 .5-4 1-2 .9-4 2.5-2.3 2-5.2 6-4.5 2.9-2.8 1.1-3.2 .8-6 .1-4-.7-2-.8-5-3.4-2.2-2-1.3-2-1.3-6 0-2 .6-2 1.7-2 3.5-2 4-1.3zM284.1 19l2.9 .2 6 1.3 2 1.2 .9 1.3 .4 2-.7 4-1 2-1.6 1.7-2 .9-2 .2-2-.2-2-.5-2-1.1-.9-1-.6-2-.1-2 .5-4 .4-2 .7-1.8zM336.8 33l4.2-.6 4 .2 4 1 2.8 1.4 2.3 2 1.2 2 .6 2 .1 2-.4 2-1 2-1.9 2-1.7 1.1-2 1-4 .8-4-.1-2-.5-4-2-2.2-2.3-4.7-8-.7-2 2.5-2zM472.9 39l4.1-.7 4 .2 2 .5 4 2 0 9-2 1.3-2 .8-6 1-12-.3-2-.3-2-.8-.7-.7-.3-2 1-2 1.7-2 4.3-3.4 2-1.1zM211.8 115l3.2-1.3 4-.4 4 .7 2.4 1 2.2 2 .9 2 .1 2-.3 2-.9 2-2.4 2-2 .7-4 .6-4-.4-2-.6-2-1.2-2-2.1-.6-1-.3-2 .3-2 .6-1.1 .6-.9zM392.3 117l4.7-1.4 4-.3 4 .4 4.1 1.3 3 2 1.5 2 1.4 4 .1 2-.5 2-1.6 2-2 1.2-2 .9-4 .9-4 .4-4-.2-4-.8-2-.7-2.8-1.7-1.7-2-.7-2-.1-2 .5-2 1-2 1.9-2zM311.5 131l3.5-.4 2.7 .4-.4 2-4.3 1.6-2 .4-2-.3-1.5-1.7z"/><path fill="#b41c2d" d="M388.2 9l6.8-.5 6 .1 16 2 6 .4 20-.5 16 .3 3.5 .2 7.8 2-9.3 2.1-14 .3-20-.3-4 .4-2 .5-4 1.8-4 2.6-2.9 2.6-3.2 4-1.9 1.9-3.1 2.1-4.9 2-6 .7-4-.4-2-.5-3.6-1.8-2.8-2-2.2-2-1.3-2-1.3-6 0-2 .6-2 1.8-2 4.8-2.4zM479 13l4-.6 4 .2 0 5.6-2-.1-2.9-1.1-1.1-1-1.9-1zM282.5 21l.5-1.1 2-.7 8 1.6 2 1.4 .6 .8 .4 2-.2 2-.8 2.6-2 2.6-2 1-2 .3-4-.8-2-1.1-1.2-2.6-.2-2zM338.4 33l4.6-.3 4 .6 4 1.6 2.5 2.1 1.3 2 .7 2 .1 2-.6 2.2-2 2.9-2 1.6-2 .9-4 1-4-.2-2-.5-4-2.1-1.7-1.8-1.2-2-3.4-6-.5-2 2.8-2zM474.3 39l2.7-.4 4 .3 2 .5 3.3 1.6 .7 .6 0 7.9-2 1.4-2 .9-2 .5-4 .5-12-.3-2-.4-2.1-1.1-.4-2 1-2 1.7-2 2.3-2 3.5-2.2zM212.7 115l2.3-.8 4-.4 4 .7 2 .9 1.9 1.6 .9 2 .2 2-.4 2-1 2-3 2-4.6 .8-2-.1-3.3-.7-2.7-1.6-1.9-2.4-.4-2 .3-1.8 1.3-2.2zM393.2 117l3.8-1 4-.4 4 .5 4 1.3 2.5 1.6 1.6 2 1.4 4 .2 2-.6 2-1.7 2-1.4 .8-2.6 1.2-3.4 .8-4 .3-4-.2-4-.8-2-.8-2.2-1.3-1.7-2-.8-2-.1-2 .4-2 1.1-2 2-2zM310.4 133l2.6-.5 1.4 .5-1.4 .3z"/><path fill="#a81529" d="M390.6 9l4.4-.2 6.9 .2 13.1 2 5.8 2-.3 2-1.5 .7-7.3 5.3-2.1 2-4.6 5.3-3.9 2.7-2.1 .9-4 1.1-4 .3-4-.4-4-1.4-3.8-2.5-2.2-2-1.3-2-.7-2-.6-4 0-2 .7-2 1.9-2 2-1.2 2-.8 4-1.2zM482.3 15l.7-.6 2-.6 2 .4 0 3-2.5-.2zM282.8 21l.2-.5 2-1 2 .2 5.7 1.3 2.3 1.7 .7 2.3-.1 2-.6 2-2 2.8-2 1-2 .4-2-.2-2-.6-2-1.3-.9-2.1-.2-2zM342.4 33l4.6 .6 3.4 1.4 2.6 2 1.3 2 .7 2 .1 2-.5 2-1.1 2-2.5 2.2-4 1.7-2 .3-4-.2-2-.5-3-1.5-3-3.1-3.7-6.9-.2-2 2.9-2 5-1.4zM476.4 39l3.1 0 3.5 .8 2.6 1.2 1.4 1.2 0 6.8-3 2-5 1.3-12 0-4-.6-1.3-.7-.7-2 .9-2 3.1-3.2 2-1.5 4-2zM214.1 115l2.9-.6 4 .1 2 .5 3 2 1.2 2 .1 2-.3 2-1.4 2-2.6 1.5-2 .6-2 .2-4-.5-3.5-1.8-1.5-2-.6-2 .4-2 1.2-2zM394.3 117l2.7-.7 4-.3 4 .4 4 1.4 2 1.3 1.6 1.9 1 2 .5 2 .1 2-.6 2-1.8 2-2.8 1.4-2 .7-4 .7-4 0-4-.5-2-.5-3.5-1.8-1.9-2-.8-2-.2-2 .5-2 1.2-2 2.1-2z"/><path fill="#991027" d="M381.9 11l5.1-1.3 4-.5 6-.2 6 .4 10 1.9 4.1 1.7 .9 2-1.8 2-5.2 4-5.3 6-2.7 2.4-2.8 1.6-3.2 1.1-4 .7-4 0-4-.9-2-.8-3.2-2.1-2.2-2-1.3-2-.7-2-.7-4 .1-2 .7-2 2-2zM283.1 21l1.9-1.1 4 .4 4 1.2 1.8 1.5 .6 2-.1 2-.7 2-1.6 2.3-2 1.2-2 .3-2-.1-2-.7-1.5-1-1.1-2-.3-2 .5-4zM332.9 35l4.1-1.1 4-.6 4 .2 4 1.2 3.4 2.3 1.5 2 .6 2 .1 2-.5 2-1.2 2-1.9 1.7-4 1.8-2 .3-4-.2-4-1.4-2-1.5-2-2.6-3.2-6.1 .1-2zM470 41l3-1.1 4-.6 4 .3 2 .5 2 1 2 1.8 0 5.2-.7 .9-3.2 2-4.1 1-12 0-2-.2-2.6-.8-.9-2 .8-2 1.8-2 2.4-2zM216.3 115l2.7-.2 2 .3 2 .7 2.1 1.2 1.2 2 .3 2-.5 2-1.6 2-3.5 1.4-4 .2-4-1.4-2-2-.7-2.2 .3-2 .4-.6 2-2.1zM395.5 117l3.5-.6 4 0 4 1 3.2 1.6 1.9 2 1 2 .5 2 .1 2-.7 2-1.9 2-2.1 1-2.7 1-3.3 .5-4 .1-4-.5-4.9-2.1-1.9-2-.9-2-.2-2 .5-2 1.2-2 2.2-2z"/><path fill="#8a0b25" d="M382.9 11l4.1-1 6-.6 4-.1 6 .4 7 1.3 3 1.1 1.9 .9 1.3 2-1.2 2-6 5.4-3.9 4.6-2.3 2-3.6 2-2.2 .7-4 .7-4 0-4-.9-4.5-2.5-2.3-2-1.4-2-.6-2-.7-4 .1-2 .8-2 2.1-2zM283.7 21l1.3-.8 4 .3 4 1.3 1.4 1.2 .7 2-.1 2-.7 2-1.3 1.9-2 1.2-2 .4-2-.1-2-.7-1-.7-1.3-2-.3-2 .4-4zM333.9 35l5.1-1.2 4-.2 4 .7 2 .7 2.9 2 1.5 2 .7 2 0 2-.5 2-1.3 2-1.3 1.2-2 1.2-2 .7-4 .4-2-.3-3.5-1.2-2.5-1.9-1.6-2.1-3-6 .3-2zM470.8 41l2.2-.7 4-.7 4 .4 2 .5 2 1.1 1.5 1.4 .5 1.1 0 3.1-1.3 1.8-2.7 1.6-4 1-10 .2-4-.3-1.7-.5-1.2-2 .7-2 1.7-2 2.5-2zM213.2 117l1.8-.9 2-.5 2-.1 4 1 .8 .5 1.6 2 .3 2-.6 2-2 2-2.1 .7-4 .1-2.7-.8-2.3-2-.8-2 .4-2zM396.9 117l2.1-.3 4 .1 4 1 2.4 1.2 2.1 2 1.1 2 .6 2 0 2-.7 2-2.1 2-1.4 .7-4 1.3-2 .3-4 0-2.9-.3-5.3-2-2.1-2-.9-2-.2-2 .6-2 1.2-2 2.4-2z"/><path fill="#7c0722" d="M384 11l5-1 4-.4 4 0 6 .5 5.2 .9 2.8 1 2.2 1 1.5 2-.6 2-6.3 6-3.4 4-2.4 2-5 2.3-4 .7-4 0-4-.9-3.9-2.1-2.3-2-1.3-2-.7-2-.8-4 .1-2 .9-2 2.2-2zM284.2 21l.8-.5 4 .3 2 .5 2 .9 1 .8 .8 2-.1 2-.7 2-1 1.4-2 1.4-2 .4-2-.1-2.5-1.1-1.5-1.9-.4-2.1 .4-4zM334.9 35l4.1-.9 4-.2 4 .7 2 .9 2.3 1.5 1.6 2 .7 2 0 2-.5 2-2.1 2.6-2 1.4-2 .7-4 .4-2-.2-2.6-.9-3.4-2.5-2-3-2-4.5 .4-2zM471.7 41l5.3-1 4 .3 2 .6 2.8 2.1 1 2-.3 2-1.5 2-4 1.9-2 .4-4 .3-8-.2-2.5-.4-1.5-1.2-.4-.8 .7-2 1.7-2 2.6-2zM214.8 117l2.2-.6 2-.1 3.2 .7 2.1 2 .4 2-.9 2-.8 .7-2.9 1.3-3.1 0-2-.8-1.8-1.2-.9-2 .4-2zM400.8 117l2.2 .1 4 1.1 2 1 2 1.8 1.1 2 .6 2 0 2-.8 2-2.9 2.3-6 1.7-6-.2-5.4-1.8-2.3-2-1-2-.1-2 .8-2.5 1-1.5 3-2.2 4-1.4z"/><path fill="#6d0220" d="M385.1 11l7.9-1.1 4 0 6 .5 4 .8 4 1.5 .7 .3 1.8 2-.4 2-1.7 2-4.2 4-3.5 4-2.5 2-4.2 1.9-2 .5-6 .2-2.8-.6-3.2-1.4-3.5-2.6-1.4-2-1.2-4-.2-4 1-2 2.3-2zM284.7 21l2.3-.3 2 .3 2 .6 2.6 1.4 .9 2-.1 2-.8 2-1.9 2-2.7 .9-2-.2-2-.7-1.7-2-.4-2 .1-2.4 .3-1.6zM336.1 35l2.9-.6 4-.2 4 .8 2 .9 2 1.4 1.3 1.7 .7 1.8 .1 2.2-.6 2-1.4 2-2.1 1.4-2 .9-2 .3-4-.1-2-.7-2-1.1-2.6-2.7-2.1-4-.7-2 .6-2zM472.7 41l4.3-.7 2 .1 3 .6 3.2 2 .9 2-.2 2-1.7 2-1.2 .7-4 1.3-2 .2-10.9-.2-1.1-.3-1.9-1.7 .7-2 1.7-2 3.5-2.4zM214.3 119l2.7-1.6 2-.2 2 .6 1.9 1.2 .3 2-1.4 2-.8 .4-2 .4-2-.2-2-.9-1.1-1.7zM393.4 119l3.6-1.2 4-.4 4 .6 2.8 1 2.5 2 1.3 2 .5 2 0 2-.8 2-2.4 2-5.9 1.6-4 .1-2-.2-4.6-1.5-2.4-2-1.1-2-.2-2 .5-2 1.4-2z"/><path fill="#f3f5f6" d="M258.2 9l4.8-.3 6 .9 2 1.1 2 1.8 3 4.5 1 2 .4 2-.6 4-2 4-1.8 1.7-2 1.3-4 1.7-2 .4-4 .2-4-.4-6-2.1-3.5-2.8-1.5-2-1.6-4-.3-2 0-2 .5-2 1-2 1.9-2 3.3-2 4.2-1.5zM330.1 9l4.9-.7 4-.1 4 .4 6 1.3 4 2.3 2.8 2.8 1.1 2 .5 2-.4 2-2 2.4-3.7 1.6-16.3 3.5-8 1.2-6 .1-8-.9-6-1.8-1.9-2.1-.1-2 .6-2 1.4-2.4 2-2.4 2-1.6 2-1.3 4-1.7 6-1.6zM175 17l0-.4 4-1.1 4 .2 4 1.5 5.9 3.8 2.1 .8 10 1.6 2 .5 4 1.6 5 3.5 2 2 1.4 2 .9 2 .2 2-.3 2-.9 2-4.3 5.8-4 4.1-4 2.7-10 5.1-6 1.9-6 .5-6-.7-4-1.5zM425.4 25l5.6-.5 8-.1 13.9 .6 12.9 2 3 2-.8 2-8 6-5 3-2 .9-4 1.2-8 .5-12-.5-10-1.6-4-1.5-1.5-2 .3-2 1.1-2 3.5-4 2.3-2 2.3-1.2zM315.2 43l3.8-1.1 2 0 2 .7 2 1.8 1.3 2.6 .5 2 .2 4-.5 2-1.5 2.6-2 1.2-2 .7-2 .2-2-.3-6-1.8-.7 1.4-1.1 6-.9 2-1.8 2-1.5 1.1-4 1.8-6 1.5-4 .5-6 .2-6-.5-4-.8-4.6-1.8-2.3-2-.7-2 .3-2 2.5-8 1-2 1.6-2 2.6-2 3.6-1.7 4-1 4-.5 4-.1 4 .4 4.5 .9 5 2 2.5 1.5 2 .3 1-3.8 1-2 1.4-2zM466.5 63l2.5-.8 2-.2 2 .1 3.2 .9 2.3 2 .5 2-.5 2-2.1 2-3.4 1.2-4-.2-2-.8-2.5-2.2-.7-2 .6-2zM197.9 91l7.1-.8 10-.6 18 .2 8 .6 10 1.3 12 2.9 6.1 2.4 3.2 2 .7 .9 .7 1.1-.3 2-2.9 4-.6 2 1 2 10.1 9.7 2 .8 2 .4 15 1.1 1 .4 1.5 1.6-7.5 2.2-9.6 1.8-1.3 2 3.9 6 .8 2-.6 2-2.6 2-8.6 3.3-6 1.8-8 1.8-11.2 1.1-57 0-9.8-.7-10-1.5 0-52.3 10-3.2 6-1.3zM213 104.8l-2 .5-2 1.1-2 2.1-4 5.3-3.2 3.2-1.3 2-.5 2 .6 4 .7 2 1.7 2.7 2 1.6 4 1.6 4 .7 6 .4 6-.3 6-1 5.5-1.7 2.5-2 .2-2-.9-4-.1-2 1.6-8-1.3-2-5.5-2.8-8-2.8-6-.9zM311.6 95l1.4-1 2-.4 2 .3 1.6 1.1 1.1 2-.6 2-2.1 1.5-2 .3-2-.4-1.8-1.4-.7-2zM421.3 97l5.7-.4 6 .9 4 1.7 2.4 1.8 1.4 2 .5 2-.2 2-.6 2-2.3 4 .6 2 6.2 2.7 4 2.5 .9 .8 1.1 2 0 2-2 2.5-2 1.2-4 1.7-3.9 .6 4.1 2 15.8 1.4 8 .3 4-.6 2.6-1.1-.5-2 .7-2 1.2-.6 4-1.1 2 0 2 .5 2.6 1.2 .3 2-.7 2 1.8 .9 0 10.1-24.3 1-11.3 2 3.8 2-6.2 .7-18 1-18 .1-14-.6-17.9-1.2-2.1-1.3-2.1-.7-19.9-.8-18-1.8-8.7-1.4-3.3-1.2-1.1-.8 1.2-2 5.9-3.5 2-1.6 .9-.9 1.1-2 .2-2-1.2-6-.4-4 .2-10 .4-2 .9-2 1.9-1.8 2-1.1 6-1.8 8-1.1 16-.3 22-1.3 20 .6zM389 108.7l-4 1-2.2 1.3-1.8 2.3-2 4.6-3 9.1-.6 4 1 2 2.6 1.5 4 1.6 8 2.3 6 1.2 4 0 8-1.6 14-4 5.2-1 3.9-2-3.1-.7-4-3-1.9-2.3-.7-2 0-2 1.7-4-.5-2-8.6-5.6-4-1.5-4-.4-10 .2z"/><path fill="#ecf2f5" d="M252 11l5-1.4 6-.4 4 .4 2 .5 2 1.2 2 1.8 2 2.6 1.7 3.3 .3 1.4 0 2.8-.5 1.8-1.5 3.1-2 2.1-2 1.3-4 1.6-4 .7-4-.1-4-.9-2-.6-4-2.5-2.4-2.7-1.1-2-.9-4 .1-2 .6-2 1.7-2.7 2-1.7zM322.8 11l4.2-1.1 8-.7 6 0 6 .9 4 1.7 2 1.4 1.9 1.8 1.2 2 .3 2-.5 2-.9 1.1-1 .9-3 1.5-4 1.2-8 1.8-10 1.8-6 .3-8-.7-4-.8-2.9-1.1-2.1-2-.3-2 .6-2 1.2-2 3.5-3.5 2-1.2 4-1.8zM176.8 17l2.2-.6 4 .2 4 1.5 4.2 2.9 3.8 1.6 10 1.4 6 2.1 4.2 2.9 2 2 1.4 2 .9 2 .3 2-.3 2-.9 2-3.6 5-4 4.2-6 3.8-8 3.8-6 1.7-6 .5-4-.5-6-2 0-39.8zM430.7 25l14.3 0 8 .9 6.1 1.1 1.9 .7 2.6 1.3 1 2-1.2 2-2.2 2-4.2 2.8-4 2.1-6 1.3-10 .4-12-1-6.8-1.6-2.9-2-.3-2 1-2 1.5-2 3.5-3.2 2-1.2 2-.7zM316 43l3-.9 2 .1 2 .7 2.1 2.1 1 2 .4 2-.1 4-1.4 3.1-2 1.4-2 .7-2 0-2-.5-2-1-1.9-1.7-1.4-2-.4-2 0-2 .5-2 1.4-2zM286.4 49l4.6-.1 6 .9 3.2 1.2 3.1 2 1.5 2 .6 2 0 2-1.4 4-1.3 2-1.7 1.7-2 1.3-4 1.6-4 .8-4 .3-4-.1-4-.7-2.6-.9-2.7-2-1-2-.4-4 .5-4 .9-2 1.6-2 3.2-2 4.5-1.5zM466.6 65l2.4-1.5 2-.4 2 .3 3 1.6 .7 2-.8 2-.9 .7-2 .9-2 .2-2-.4-2.3-1.4-.8-2zM209.3 93l13.7-.6 12 .4 10 1.2 10 2.6 5.5 2.4 2.6 2 1.3 2 .1 4 1.4 2 1.1 .5 6 4.6 6.9 6.9 3.1 1.2 14 1 2 .6 2 1.2-8 2.1-13.2 1.9 .3 2 4.9 3.9 1.7 2.1 .8 2-.7 2-3.1 2-2.7 1.1-6 1.9-10 2.2-12 1.3-8 .5-26 .3-14-.5-16-1.3-14-2 0-43.8 6.9-3.7 9.1-3.2 8-1.8zM211 104.4l-2 1.1-2 2.2-3.7 5.3-4.1 4-1.3 2-.4 2 .5 4 1.7 4 1.3 1.4 2 1.4 4 1.4 4 .7 6 .4 6-.4 5.9-.9 6.6-2 1.5-1.2 .7-.8 0-2-1.1-4-.1-2 .5-3 1.6-5-.8-2-2.8-1.6-4-1.8-4-1.6-6-1.8-6-.6zM314.2 95l.8-.2 2 .5 1.2 1.7-1 2-2.2 .5-2-.9-.8-1.6 .8-1.2zM390.8 99l8.2 0 10 .8 4 .1 10-2 4-.2 4 .5 2.6 .8 3.5 2 1.7 2 .7 2-.1 2-.7 2-1.7 2.5-1.4 1.5-.2 2 7.6 2.6 4 2 1.8 1.4 1.2 2-.2 2-2.8 2.6-2 .8-4 1.1-6 .7-4-.4-4-1.6-2-1.6-1.3-1.6-.9-2 .2-2.1 2-3.5 .6-.4 .3-2-10.9-6.7-4-1.3-4-.5-18 1.2-4 .8-2 .7-2 1.6-1 2.2-4.7 14-1.1 4 .8 2 3.5 2 8.5 2.8 5 1.2 3 1.2 4 .4 4-.4 2.9-1.2 13.1-3.5 6-1.4 4-.6 10 .1 24 2 18-.1 6 .6 0 5.9-48 2.7-16 .5-12-.7-12-1.9-10 1.3-6 .5-18 .1-14-.3-16-1.4-4-.8-2.6-1 .3-2 6.3-4.1 1.9-1.9 1-2 .1-2-1.7-8-.2-4 .4-6 1.3-4 1.2-1.6 2-1.5 6-2.2 8-1.2 18 0zM476.4 129l2.6-.5 3.3 .5-.3 2-1 .6-2 .4-2-.4-.7-.6z"/><path fill="#e4eef4" d="M253.2 11l3.8-1 6-.5 4 .5 4 1.8 3.1 3.2 2.3 4 .4 2-.1 2-1.7 4.5-2 2.2-4 2.3-2 .6-4 .7-6-.4-4-1.3-2-1-2-1.6-1.8-2-1.1-2-.7-2-.1-4 .6-2 1.2-2 2.2-2zM325.3 11l3.7-.8 6-.6 6 .1 4 .5 4 1.3 2 1 2 1.5 1 1 1.2 2 .4 2-.8 2-1.8 1.7-4 2-12 3-8 1.3-6 .3-8-.7-5.6-1.6-2.5-2-.5-2 .6-2 1.3-2 2.7-2.7 4-2.3 4-1.5zM175 19l2-1.2 2-.5 4 .1 2 .6 6 3.7 2.9 1.3 11.1 1.6 4 1.2 2 1 4 2.8 2.9 3.4 .9 2 .2 2-.2 2-.9 2-4.4 6-2.5 2.5-2 1.4-6 3.4-8 3.4-4 .9-6 .3-6-.9-4-1.7zM424.2 27l2.8-.8 6-.6 10-.2 6 .5 5.2 1.1 5 2 2 2-.2 2-1.8 2-2.7 2-3.5 1.8-4 1.1-6 .7-6 0-6-.3-6-.7-2.9-.6-3.1-1.1-1.6-.9-.9-2 .6-2 1.5-2 2.4-2.2zM316.7 43l2.3-.6 2 .1 2 .7 2 2.1 .8 1.7 .5 4-.4 2-.9 1.8-2 1.7-2 .6-2 0-2-.5-2.4-1.6-1.5-2-.8-2-.2-2 .5-2 1.2-2zM282.1 51l2.9-.7 4-.3 4 .3 4 1.1 3 1.6 1.8 2 .5 2-.3 2-1.1 2-1.9 2.2-2 1.6-4 1.8-6 .9-4-.3-2-.6-2.8-1.6-1.7-2-.9-2-.4-2 .1-2 .8-2 1.8-2zM469.7 65l1.3-.3 1.9 .3 1.4 2-1.3 1.8-2 .4-.9-.2-1.1-.7-.9-1.3 .9-1.5zM218.4 95l8.6-.3 8 .3 8 1.1 6 1.8 2.7 1.1 3.1 2 1.7 2 1.2 4 3.5 2 3.8 1.2 6 3.3 4.3 3.5 3.7 4.4 2 1.1 2 .4 12 .7 2 .4 2.3 1-8.3 1.9-10 .7-5.3 1.4 0 2 5.3 2.5 2 1.2 2.4 2.3 .8 2-.9 2-3.5 2-4.8 1.6-6 1.6-8 1.4-10 1-16 .6-12 0-14-.3-10-.5-10-1-10-1.5-6-1.5 0-37.6 8.6-3.8 7.5-4 3.9-1.5 6-1.2zM213 102.7l-2 .5-2 1-2 2.4-4 6.2-4.5 4.2-1.3 2-.3 2 .2 2 .9 4 1 2 2 2.2 3.9 1.8 4.1 .9 6 .6 6-.1 6-.8 6-1.4 4-1.6 1.5-1.6-1.5-6-.2-2 .9-4 1.7-4-.1-2-3.3-2-13-5.2-6-1.2zM314.4 97l.6-.4 1 .4-1 .5zM423.5 99l3.5-.3 4 .5 4 1.8 2 1.9 .9 2.1-.1 2-.8 2-2 2.4-4 2.7-2 .2-2-.5-4-1.7-10-6.3-4-.6-24 1.9-4 1-1.1 .9-.8 2-.6 4-1.1 4-4.3 12 .2 2 3.5 2 13 4 1.2 .9 3.1 1.1-5.1 1.5-6 .6-22 .3-10-.3-12-.7-6-1-1.6-.4-.4-.6-.5-1.4 5.7-4 1.9-2 .7-2 0-2-2-8-.2-4 .3-4 1.1-4 1-1.6 2-1.9 2-1.2 6-1.8 6-.9 6-.1 14 .6 10-1.4 6-.5 10 .2 10 1.5 2-.2zM427.5 117l1.5-1.3 2-.2 4 .6 8 2.1 4.8 2.8 1.2 2-.4 2-1.6 1.5-2 1.1-4 1.1-6 .5-6-.8-2-.9-2-1.5-.8-1-.9-2 .3-2 1.4-2.3zM422.9 135l4.1-.7 6-.2 28 2.3 16 .7 10 1.4 0 1.1-8.9 1.4-43.1 3-8 .3-8-.1-6-.5-6-1.2-3.6-1.5 1.6-.4 2.7-1.6 6.8-2z"/><path fill="#ddebf2" d="M254.5 11l4.5-.9 6 0 4 1.1 2 1 2 1.9 2.1 2.9 .9 2 .5 2-.1 2-.6 2-.9 2-1.7 2-2.2 1.6-4 1.6-6 .7-4-.4-2-.5-4-2-2-1.6-2-2.7-1.1-2.7-.3-2 .2-2 .6-2 1.4-2 1.2-1.2 2-1.4zM327.6 11l5.4-.8 6-.2 4 .4 4 .9 3.7 1.7 2.5 2 1.3 2 .2 2-.8 2-.9 .9-1.4 1.1-2.6 1.2-6 1.9-12 2.4-8 .6-6-.5-6.4-1.6-2.8-2-.6-2 .5-2 1.3-2 2.1-2 1.9-1.3 4-2 6-1.9zM176.4 19l2.6-.9 4 .1 2.3 .8 5.7 3.5 2 .9 12 1.7 4 1.2 2 1 4 3 2.2 2.7 .9 2 .3 2-.3 2-.8 2-1.2 2-3.1 3.9-4 3.4-6 3.4-6 2.6-6 1.6-6 .3-4-.6-4-1.3-2-1 0-35.4zM427 27l4-.5 10-.6 4 .1 4 .6 4 1.1 2.9 1.3 2.3 2 .3 2-1.3 2-2.9 2-3.3 1.4-6 1.2-6 .2-8-.3-6-.9-5.1-1.6-1.7-2 .3-2 .5-.7 .9-1.3 2.4-2zM317.6 43l1.4-.3 2 0 2 .8 1.5 1.5 1 2 .4 2 0 2-.5 2-.4 .8-2 1.9-2 .7-2 0-2-.7-2-1.5-1-1.2-.9-2-.2-2 .3-2 1.1-2zM280.8 53l2.2-.9 4-.8 4 0 2 .3 4 1.6 1.9 1.8 .5 2-.6 2-1.7 2-2.1 1.4-4 1.6-4 .4-2-.2-2-.5-2-1-1.9-1.7-1.1-2-.2-2 .7-2zM224.3 97l4.7-.3 6 .1 6 1 4 1.2 3.7 2 1.8 2 .9 4 4.1 2 5.5 .9 6 2 4 2.3 3.5 2.8 4.5 5.5 2 .9 2 .3 10 .4 4.4 .9-6.4 1.2-12 .5-2 .6-4 1.7-.9 2 8.9 3.8 2.9 2.2 .9 2-1.1 2-4 2-8.7 2.4-6 1.1-10 1.2-12 .6-16 .2-14-.3-10-.6-14-1.6-5.8-1-5.4-2 7.7-4-4.5-.8-6-.1 0-29 10-2.9 2-.9 6-4.6 2-1 4-1.1 4-.3 7 .7 .5 2-1.5 .8-2 3.3-1.8 3.9-2.2 3.2-2 2.1-3.4 2.7-1.1 2-.2 2 .2 2 .9 4 .9 2 1.6 2 3.1 1.8 4 1.1 4 .6 6 .3 6-.4 6-.9 4-1 4.6-1.5 1.6-2-1.9-6-.1-2 .2-2 .7-2 2.2-4 .6-2-2.5-2-5.6-2-11.8-5.4-2.7-.6-1.3-1-3.2-1zM419.8 101l5.2-1.2 4 0 2 .5 2 .7 2.5 2 .9 2 0 2-1.4 2.4-2 1.7-2 1-2 .3-4-.6-2-.8-3.2-2-4.4-4 .4-2zM351.7 103l5.3-.5 6 .2 6 .7 9 1.6-.7 2-.2 2 .6 4-.4 4-2.3 7.3-3.3 6.7-.2 2 3 2 13.1 4 1.9 2-4.5 1-6 .4-26 .1-8-.4-8-.9-2-.4-2-1.4-.3-.4 4.9-4 1.4-1.7 .8-2.3-.1-2-2-6-.6-4 .5-6 1.4-3.9 1.8-2.1 2.2-1.5 4-1.6zM382.6 103l6.4-1.1 4-.3 6 .4 4.7 1-5.5 2-9.2 .4-7.8-.4zM425.8 119l1.2-1 2-.7 2-.3 4 .1 4 .6 2 .5 4 1.6 1.8 1.2 1.3 2-.6 2-.5 .5-2 1.2-2 .9-6 1-6-.3-2-.4-2-1-2.3-1.9-.8-2 .3-2zM426 135l5-.3 10 .7 15.9 1.6 14.4 2-10.8 2-31.5 2.6-12-.3-6-.9-4.2-1.4 2.5-2 6.3-2 5.4-1.3z"/><path fill="#d5e7f1" d="M256 11l5-.7 4 .2 4 1.1 2 1.1 2 1.9 2 2.8 1.2 3.6-.2 2-.6 2-1 2-1.4 1.6-2 1.5-4 1.7-2 .4-4 .3-4-.4-2-.6-4-2-2-1.7-1.9-2.8-.7-2-.3-2 .2-2 .7-2 1.4-2 2.5-2 2.1-1.1zM330.2 11l4.8-.5 4 0 4 .4 4 .9 2.7 1.2 2.7 2 1.3 2 .3 2-1 2-2.4 2-1.6 .8-6 2-12 2.5-8 .5-6-.5-5.3-1.3-3-2-.8-2 .5-2 1.3-2 3.3-2.8 4-2 6-2zM178.5 19l2.5-.3 2 .2 2 .7 5.6 3.4 2.4 .9 12 1.7 2 .5 4 1.8 4 3.1 1.5 2 1 2 .3 2-.3 2-2 4-3.2 4-3.3 2.8-4 2.4-4 1.9-6 2.2-6 1.2-4 0-6-1.2-4-1.9 0-33.4 2-1.4zM433.3 27l9.7-.6 6 .8 4.5 1.8 2.3 2 .5 2-1.2 2-3.1 2-5 1.5-4 .4-8 0-8-.9-4.1-1-2.8-2-.1-2 1-1.4 3.3-2.6 4.7-1.4zM318.6 43l2.4 0 2 .9 1.1 1.1 .9 1.5 .6 2.5 0 2-.7 2-1.9 2-2 .8-2-.1-2-.8-2.2-1.9-1.1-2-.3-2 .3-2 1.2-2 2.1-1.4zM284.7 53l4.3-.5 3.5 .5 3.3 2 .6 2-1.4 2.3-3.1 1.7-2.9 .6-4-.3-2-.8-1.8-1.5-.7-2 .8-2zM227.5 99l3.5-.5 4 .1 4 .6 4 1.4 3 2.4 .6 2-.7 2-.9 1.5-2 .1-7.6-1.6-5-2-3.4-2-2-2zM196.3 101l2.7-.8 4 .1 2 .8 1.2 1.9-.8 4-1.9 4-2.5 2.8-4.2 3.2-1 2-.1 2 1.1 6 .7 2 1.5 2 2 1.4 4 1.5 8 1 8-.1 10-1.5 7.7-2.3 1.3-2-2.4-6-.1-2 .3-2 1.2-3.1 2-2.8 4-3.9 12 .8 8 1.8 2 .9 4 2.1 2.7 2.2 1.8 2 1.5 2.8 2 2.1 2 .6 10 0 3.9 .5-5.9 .6-8-.1-2 .2-4 1.3-4 2-1.8 2 4 2 3.8 1.1 4 1.9 1.3 1 1.1 2-1.4 2-3 1.5-4 1.3-8 1.8-6 .9-12 .9-20 .5-12-.3-14-.9-8-.8-6-.9-5.9-2 5-4-3.1-1.1-2-.4-8-.5 0-26.3 4-1.1 8-1.3 2-1.1 3.9-4.2zM423.6 101l3.4-.4 2 .2 2 .5 2.8 1.7 1.2 2-.1 2-1.2 2-2.7 1.7-2 .5-2 0-2-.5-3.4-1.7-2.3-2-1.2-2 1-2zM346.7 105l6.3-1.4 8-.2 4 .5 4 .9 2 .6 2.5 1.6 2.4 4 .6 2 .1 4-1 4-1.5 4-1.1 2.2-2.7 3.8-.7 2 2.3 2 13.3 4-.3 2-9.9 .7-24 0-10-.8-4-1-1.8-.9 1.5-2 2.3-2 1.4-2 .5-2-.3-2-1.7-4-1.1-4-.1-4 .5-4 .8-2.1 2-2.8 2-1.5zM426.9 119l2.1-1 2-.4 4 0 4 .6 4 1.3 2 1 .8 .5 1.4 2-.8 2-1.4 1-4 1.5-6 .7-4-.4-4-1.5-2-1.9-.6-1.4 .4-2zM416.8 137l8.2-1.5 8-.2 16 1.7 9.5 2-8.4 2-19.1 1.8-8 .2-6-.3-4-.6-3.6-1.1 1.3-2z"/><path fill="#cce2ef" d="M257.9 11l5.1-.3 4 .6 2 .7 2 1.2 2 1.9 2.4 3.9 .4 2-.1 2-.6 2-1.2 2-2 2-2.9 1.7-4 1.2-6 .1-2-.3-4-1.4-2-1.3-2.2-2-1.3-2-.7-2-.3-2 .3-2 .7-2 1.6-2 2.6-2 3.3-1.4zM333.6 11l7.4 .1 6 1.1 2 1 2.7 1.8 1.3 2 .2 2-1 2-1.2 1-1.3 1-2.7 1.2-6 1.9-10 2-6 .5-6-.3-6.1-1.3-3.4-2-.9-2 .4-2 2-2.6 4-2.8 4-1.8 6-1.7zM176.2 21l2.8-1.4 2-.2 2 .2 2 .7 6 3.6 2 .6 10 1.2 6 1.7 4 2.5 2.9 3.1 .9 2 .4 2-.3 2-.7 2-3.2 4.6-3.8 3.4-4.2 2.6-6 2.8-6 1.9-6 .6-6-.7-4-1.5-2-1.1 0-31.3zM440.6 27l6.4 .3 4 1.3 3.1 2.4 .5 2-1.2 2-2.4 1.5-4 1.3-4 .5-6-.1-8-.8-4-1-2.6-1.4-.6-2 1.2-1.6 2-1.4 2-.9 4-.9zM315.4 45l1.6-1.1 2-.7 2 .1 2 .9 .8 .8 1.1 2 .4 2-.1 2-.9 2-1.3 1.4-2 .7-2-.1-2-.7-1.4-1.3-1.3-2-.4-2 .3-2zM285.4 55l3.6-.6 2 .4 .5 .2 1 2-1.5 1.2-2 .8-2-.1-2-1.1-.8-.8zM230.8 101l4.2-.5 3.1 .5 3.7 2 .4 2-1.2 .8-2 .4-2-.2-3.6-1-3-2zM195.1 103l1.9-1 2-.5 2 0 2 .5 1.2 1 .7 2-.2 2-1.7 4-2 2.3-5.4 3.7-.6 2 .3 4 1.5 6 1.2 2 3 2.1 4 1.2 4 .6 4 .3 6 0 6-.6 6-1 4-.9 4.9-1.7 .9-2-2.2-4-.6-2-.2-2 .3-2 .9-2.2 2-2.9 2-1.8 4-1.4 6-.3 8 1 4 1 4 1.7 4 2.9 1.7 2 2.3 4.9 .9 1.1-8.6 4-2.5 2 3.4 2 4.8 1.4 4 1.6 1.6 1 1.2 2-1.5 2-3.3 1.5-4 1.2-10 2-12 1.1-20 .5-22-.8-14.8-1.5-3.2-.7-3.8-1.3 1.2-2 1.7-2-1.1-.7-3.7-1.3-10.3-.7 0-24.3 6-1.4 6-.3 2-.5 2-2.2 1.8-2.6zM421.7 103l3.3-1.2 2-.2 2 .2 2 .7 .9 .5 1.5 2 0 2-2.4 2.4-2 .6-2 0-2-.4-2-1.1-1.8-1.5-.9-2zM349.5 105l3.5-.7 4-.2 6 .4 6 1.6 2 1.1 2 1.7 1.5 2.1 1 2 .4 2-.3 4-1.3 4-1.3 2.8-5.4 7.2 1.4 2 13.3 4-1.3 .9-4 .9-18 .4-12-.5-6-.9-2.7-.8 .4-2 1.9-2 1.1-2 .3-2-.5-2-2.5-5.5-.6-2.5-.2-4 .7-4 .9-2 1.2-1.7 2-1.7 4-1.9zM428.3 119l2.7-.8 2-.1 6 .6 4 1.3 1.8 1 1.4 2-.9 2-2.3 1.3-2 .6-6 .8-4-.4-4-1.5-1-.8-1.1-2 .5-2 1.6-1.4zM418.2 137l6.8-1.1 8-.1 10.6 1.2 7.1 2-6.7 2-13 1.4-12-.1-4-.5-3.3-.8 .5-2z"/><path fill="#c2ddec" d="M252.6 13l4.4-1.5 4-.5 4 .3 4 1.2 2 1.2 2 1.9 2.1 3.4 .4 2-.1 2-.7 2-1.7 2.6-2 1.6-2 1.1-4 1.2-2 .2-4 0-4-1-2-.9-2-1.3-2-2-1-1.5-.7-2-.3-2 .2-2 .8-2 1.7-2zM323.1 13l3.9-1 6-.7 6-.1 4 .4 4 1.1 3.9 2.3 1.5 2 .2 2-1.1 2-2.7 2-1.8 .9-6 1.9-10 2.1-6 .5-6-.3-5-1.1-3.6-2-1.1-2 .4-2 1.4-2 3.9-2.9 4-1.9zM177.6 21l1.4-.6 2-.3 2 .2 2 .8 4 2.4 3.6 1.5 10.4 1.1 6 1.8 4 2.6 2.2 2.5 1 2 .4 2-.2 2-.8 2-2.7 4-3.9 3.7-6 3.4-6 2.5-6 1.5-4 .3-6-.8-4-1.6-2-1.2 0-28.8 .5-1zM431.8 29l9.2-1.6 6 .4 2 .6 2 1.1 1.8 1.5 .4 2-1.3 2-2.9 1.5-6 1.2-4-.1-6-.6-4-.8-3.7-1.2-1.2-2 1.8-2zM316 45l3-1.5 2 .1 2.5 1.4 1.1 2 .4 2-.2 2-1.8 2.8-2 .8-2-.1-2.7-1.5-1.4-2-.5-2 .3-2zM197.8 103l1.2-.3 2 0 2 1 .8 1.3 .2 2-1 3.1-2 2.6-6 3.5-.6 .8-.2 2 .2 2 1.6 8 1 2 2 1.7 2 1 4 1 4 .5 10 .3 6-.6 6-1 4.1-.9 6.1-2 .4-2-2.6-4-.7-2-.2-2 .9-3.4 2-3 4-2.7 2-.5 4-.3 6 .2 6 1 4 1.4 4 2.3 3.1 3 1.7 4-.1 2-7.9 4-3.3 2 2.9 2 5.6 1.5 4 1.6 1.8 .9 1.4 2-1.6 2-5.1 2-4.5 1.2-8 1.3-6 .6-10 .5-24 0-16-1-10-1.3-4.4-1.3 0-2 1.2-2-2.8-2-14-1.3 0-22.5 6-1.4 8 .1 2-1.2 1.8-3.7 1.6-2 2.6-1.8zM424.9 103l2.1-.3 2.2 .3 2.5 2-.2 2-2.5 1.6-2 .2-2-.7-1.8-1.1-.7-2zM353.8 105l5.2-.1 6 .8 4 1.6 2 1.3 2.3 2.4 1.2 2 .6 2 .1 2-.8 4-1.4 3.5-2 3.1-5.4 5.4 .5 2 .9 .6 6 2.2 4.8 1.2-6.8 .8-14 .6-8-.3-7-1.1-1.1-2 1.4-2 .8-2 0-2-.7-2-2.2-4-1.3-4-.2-4 .9-4 1.4-2.6 2-1.9 2-1.2 4-1.5zM430.2 119l4.8-.4 4 .6 4.8 1.8 1.5 2-1.1 2-3.2 1.4-6 .8-4-.3-2-.6-2-1.1-1.5-2.2 .7-2 .8-.7zM419.7 137l7.3-.9 6 .2 6.1 .7 6.5 2-6.3 2-8.3 .9-10 .1-6.8-1-.6-2z"/><path fill="#b6d7e8" d="M253.4 13l3.6-1.2 6-.4 4 .7 4 2 2.7 2.9 1 2 .5 2-.2 2.1-.7 1.9-1.3 2-2 1.7-2 1.2-2 .7-4 .8-4-.1-2-.4-2-.6-2.7-1.3-2.4-2-1.4-2-.8-2-.3-2 .3-2 .9-2 1.7-2zM324.4 13l4.6-1 4-.4 6-.1 4 .5 4 1.1 3.2 1.9 1.5 2 .2 2-1.1 2-3.8 2.5-6 2.1-10 2.1-6 .5-6-.4-4-.8-3.8-2-1.2-2 .3-2 1.4-2 2.5-2 2.8-1.5 4-1.6zM179.7 21l1.3-.2 2 .2 8 4.1 14 1.9 4 1.4 2 1.2 1.9 1.4 1.7 2 1 2 .4 2-.2 2-1.9 4-2.9 3.4-4 3.1-6 3-6 2.2-6 1.1-4-.1-4-.7-4.5-2-1.5-1 0-25.2 .4-1.8 1.1-2 2.5-1.8zM435.5 29l5.5-1.1 4 0 2 .4 2 .7 2.7 2 .4 2-1.6 2-1.5 .9-4 1-4 .2-4-.4-7.6-1.7-2.2-2 2.3-2zM316.5 45l2.5-1.2 2 .1 2.1 1.1 1.2 2 .4 2-.3 2-1.4 2.2-2 .9-2-.1-2-1-1.5-2-.6-2 .3-2zM195.9 105l1.1-.7 2-.6 2 .2 1.6 1.1 .7 2-.3 2-2 3-2 1.5-2 .7-4 .6-.1 .2 .4 4 1.9 10 .7 2 1.1 1.3 2 1.3 2 .8 6 1 6 .4 6-.1 12-1.6 5.6-1.1 6.2-2-.3-2-1.5-1.6-1.6-2.4-.8-2-.2-2 .4-2 .9-2 1.3-1.7 2-1.7 2-1 4-1 6-.1 6 .7 6 1.9 4 2.4 2.4 2.5 1 2 .4 2-.5 2-5.3 3-6.8 3 2.6 2 6.2 1.6 6 2.4 1.6 2-1.7 2-5.3 2-4.6 1.1-8 1.2-16 1-22-.2-16-1.1-6-.7-4-.9-1.4-.4-.6-.9-.5-1.1 .9-2-1.8-2-4.6-.9-12-1 0-20.9 4-1.1 4-.3 8 1.1 1.3-.9 .8-4 .9-2zM425.6 105l1.4-.4 2.1 .4-1.5 2-.6 .1zM347.5 107l3.5-1 4-.5 4 0 4 .5 4 1.3 2 1.1 3.1 2.6 1.4 2 .7 2 .3 2-.2 2-1.3 4.1-2.5 3.9-7 6-.2 2 2.8 2 .7 2-9.8 .6-8-.3-2.1-.3-1.9-.8-1.4-1.2 1.1-4-.3-2-4.4-8-.6-2-.2-4 1-4 1.2-2 2.1-2zM426.9 121l2.1-1.2 2-.5 6 0 4 1 1.7 .7 1.7 2-1.3 2-2.1 .9-4 .8-4 0-4-.9-1.5-.8-1.3-2zM421.8 137l5.2-.4 6 .2 4 .7 4.6 1.5-6.5 2-10.1 .6-8.1-.6-1.8-2z"/><path fill="#a9d1e5" d="M254.3 13l4.7-1.2 4-.1 4 .8 4 2 2.3 2.5 1.1 2 .4 2-.2 2-1.6 3.4-2 1.9-2 1.2-2 .8-4 .7-2 .1-4-.5-4-1.6-2.6-2-1.5-2-.8-2-.3-2 .3-2 1-2 1.9-2.1zM325.6 13l3.4-.7 6-.6 4 .1 4 .5 4 1.3 2.5 1.4 1.6 2 .2 2-1.2 2-2.8 2-2.3 1-6 1.9-8 1.6-6 .5-6-.5-4-.9-3.1-1.6-1.2-2 .2-2 1.4-2 2.6-2 2.1-1.2 4-1.6zM177.6 23l1.4-.9 2-.5 2 .2 2 .8 4 2.3 2 .7 12 1.4 4 1 2 .9 3.1 2.1 1.9 2 1 2 .4 2-.1 2-.8 2-2.7 4-2.8 2.6-4 2.6-8 3.4-4 1.1-6 .6-4-.4-4-1.2-4-2.4 0-21.3 1.3-5zM437.9 29l5.1-.8 4 .6 2 .9 1.7 1.3 .4 2-2.1 2.2-2 .8-4 .6-4-.3-5.2-1.3-2.6-2 1.9-2zM317 45l2-.9 2 .1 2 1.1 1 1.7 .4 2-.4 2-1 1.5-2 1.1-2-.1-2-1.2-1-1.3-.6-2 .2-2zM198 105l1-.3 2 .3 1.5 2-.2 2-1 2-2.3 1.8-2 .5-1.6-.3-1.4-2 .2-2 1-2 1.8-1.6zM349.6 107l3.4-.7 4-.3 4 .4 4 1 3.4 1.6 2.5 2 1.6 2 .9 2 .4 2-.1 2-.7 2.5-1.7 3.5-2.3 2.6-7.7 5.4-1 2 .8 2-2.1 1-2 .3-4 .1-4-.6-2.1-.8-.3-4-.8-2-4.2-6-1-2-.6-2-.2-4 .4-2 .8-2.1 1.3-1.9 2.4-2 2.3-1.2zM245.5 113l1.5-.6 4-.5 4 0 4 .4 6 1.4 4 1.9 2 1.4 1.8 2 .9 2 .3 2-.9 2-6.1 3.3-4 1.7-3.2 1 2.5 2 6.7 1.7 6.2 2.3 1.8 2-1.8 2-2.2 .9-6 1.7-6 1.1-8 .8-8 .3-12 .2-12-.4-16-1.1-8-1.4-2-1.3-.6-.8 .6-2-.9-2-1.1-.6-4-.7-10-.6-4-.8 0-19.2 2-.7 4-.7 4 .2 4 1.1 2 1.3 1.4 2.7 .6 2 1.9 10 2.1 2.7 2 .9 6 1 6 .5 6 0 6-.4 8-1.3 7.2-1.4 6.5-2-1.3-2-2.4-2.3-1.2-1.7-.8-2-.3-2 .4-2 1.9-3.2 2-1.7zM427.9 121l3.1-1.2 2-.2 4 .1 4.5 1.3 1.9 2-1.6 2-.8 .4-4 .8-4 .1-2-.3-2.6-1-1.6-2zM426.3 137l4.7 .2 7.2 1.8-7.2 1.9-6 .3-4.2-.2-1.8-.5-2.2-1.5 6.2-1.6z"/><path fill="#9dcbe1" d="M255.3 13l3.7-.9 4-.1 4 .9 2 .8 2 1.3 2 2.2 1 1.8 .4 2-.1 2-1.3 2.7-2 2.1-1.8 1.2-4.2 1.4-2 .3-4-.1-4-1-2-1-2.1-1.6-1.5-2-.9-2-.2-2 .3-2 1-2 1.9-2zM326.8 13l4.2-.7 4-.3 4 .1 4 .5 4 1.4 1.7 1 1.7 2 .2 2-1.2 2-2.8 2-1.6 .7-6 2-8 1.6-6 .4-4-.2-4-.6-4.3-1.9-1.4-2 .2-2 1.5-2 2.6-2 3.4-1.7 4-1.4zM178.9 23l2.1-.6 2 .2 4.9 2.4 3.1 1.1 12 1.3 4 1.1 2 .9 2.4 1.6 1.6 1.6 1.4 2.4 .5 2-.2 2-.7 2-2.7 4-2.3 2.1-4 2.7-6 2.7-6 1.8-4 .5-6-.4-4.2-1.4-3.8-2.5 0-18.6 2.2-6.9zM440 29l3-.4 4 .7 2.8 1.7 .4 2-1.2 1.3-2 1.1-4 .7-4-.4-2.4-.7-2.6-2 1.2-2zM317.7 45l1.3-.6 2 .1 2 1.4 .7 1.1 .3 2-.4 2-.6 .9-2 1.2-2-.1-2.5-2-.7-2 .2-2zM196.5 107l2.5-1.3 2 .6 .5 .7 .1 2-1.2 2-1.4 1-2 .3-1.6-1.3-.1-2zM352.4 107l2.6-.3 4 .1 4 .6 3.9 1.6 2.9 2 1.8 2 1 2 .5 2-.1 2-1.3 4-2.7 3.7-4 2.9-6.3 3.4-3.7 2.9-2 .3-2-.7-8-9.4-1.8-3.1-.9-4 .5-4 .8-2 1.6-2 1.8-1.4 2-1.1zM246.9 113l2.1-.5 4-.3 6 .5 6 1.4 4 1.9 2 1.6 1.2 1.4 .9 2 .1 2-1 2-5.2 2.8-6 2.3-4.2 .9 2.8 2 7.4 1.7 6.5 2.3 1.9 2-1.8 2-5.8 2-6.8 1.3-12 1-12 .3-14-.3-16-1.2-7.4-1.1-3.3-2 .7-4.7 2-.5 14 .6 10-.5 17-2.9 7.3-2-2.3-1.2-.5-.8-1.5-.8-2-2.1-1.7-3.1-.2-2 .3-2 1.6-2.7 2-1.7 2-1.1zM178.3 115l2.7-.4 4 .3 4 1.4 2 1.9 1.8 4.8 .9 8 1.4 4-12.1-.1-4-.4-4-1 0-17.5zM428.9 121l2.1-.7 2-.3 4 .2 3.2 .8 2.2 2-1.9 2-3.5 .8-4 .1-2-.4-2-.8-1.4-1.7zM418.7 139l4.3-.9 4-.3 4 .3 3.9 .9-5.9 1.2-4 .2-4-.4z"/><path fill="#90c4dd" d="M256.4 13l4.6-.7 4 .4 4 1.4 2 1.4 2 2.4 .6 1.1 .5 2-.2 2-.8 2-1.7 2-2.4 1.7-2 .9-2 .5-4 .4-4-.6-2-.7-3.5-2.2-1.7-2-.9-2-.2-2 .3-2 1-2 2.1-2zM328.2 13l4.8-.6 4-.2 6.1 .8 1.9 .5 3 1.5 1.8 2 .3 2-1.3 2-2.9 2-2.9 1.2-6 1.8-8 1.3-6 .2-6-1-3.5-1.5-1.6-2 .2-2 1.4-2 2.7-2 2.8-1.4 4-1.5zM178.4 25l.6-.8 2-.9 2 .1 6 2.7 2 .5 12 1.2 4.2 1.2 3.8 2.3 1.7 1.7 1.2 2 .4 2-.1 2-.7 2-2.8 4-3.7 3.1-4 2.3-6 2.3-6 1.4-4 .3-4-.5-4-1.4-2-1.1-2-1.7 0-16.4 1.2-2.3zM436.8 31l4.2-1.7 4-.1 2 .6 1.9 1.2 .4 2-2.7 2-3.6 .6-2-.1-2.2-.5-2.9-2zM318.4 45l2.6-.2 2.4 2.2 .3 2-.5 2-2.2 1.6-2-.1-2-1.5-.8-2 .3-2zM198.6 107l.9 0 1.3 2-1.8 2.2-2-.1-.5-2.1 .5-.8zM347.3 109l3.7-1.2 6-.6 6 .9 4 1.7 2 1.5 1.7 1.7 1.1 2 .6 2 0 2-1.4 4.1-1.3 1.9-2.1 2-4.6 2.8-6 2.5-2 .4-2 0-2-.4-4-3-2-1.9-2.1-2.4-1.1-2-.7-2-.2-4 .5-2 .9-2 1.8-2zM248.7 113l4.3-.5 4 .2 4 .6 4 1.1 4 2.1 2.7 2.5 .8 2 .1 2-1.3 2-2.3 1.4-4 1.8-6 1.9-6 .7-4-.2-2-.6-4-2.4-2-2-1.3-2.6-.3-2 .4-2 1.1-2 2.1-2 2-1.1zM175 117l4-1.4 4-.2 4 .9 2 1.2 2 2.5 1.1 3 .5 4-.3 6-1.3 .8-2 .4-4 .1-6-.5-4-1.1zM430.2 121l2.8-.6 4 .2 2 .5 2.4 1.9-2.4 2-4 .5-4-.4-2.6-2.1zM242.5 133l6.5-1.3 4-.1 3.4 1.4 6.6 1.2 6 1.7 2.9 1.1 2 2-1.9 2-7 2.2-8 1.2-12 .7-16 0-16-.9-10.1-1.2-1.9-.6-2.8-1.4 .1-2 .7-1.3 1-.7 1-.2 14-.1 6-.3 6-.7zM421.5 139l5.5-.4 4 .4-6 .5z"/><path fill="#81bad8" d="M257.8 13l3.2-.4 4 .4 4 1.5 2 1.5 2.2 3 .5 2-.2 2-.5 1.2-2 2.7-2 1.4-2 .9-2 .6-4 .3-4-.5-2-.7-2-1.1-2-1.9-1.6-2.9-.3-2 .3-2 1.1-2 2.2-2 2.3-1.2zM329.8 13l7.2-.5 6 .8 4.3 1.7 1.9 2 .3 2-1.3 2-3 2-2.2 .9-6 1.9-8 1.3-6 .1-4-.5-4.7-1.7-1.7-2 .1-2 1.4-2 2.8-2 6.1-2.6zM179.9 25l1.1-.6 2 0 7.3 2.6 10.7 .8 4 .8 2 .8 2 1 2 1.5 1.1 1.1 1.2 2 .5 2-.1 2-.7 2-1.2 2-1.6 2-3.2 2.7-4 2.3-6 2.3-6 1.4-4 .2-4-.5-4-1.5-2-1.2-2-1.8 0-14.4 1.9-3.5 2.1-5.1zM438 31l3-1.2 2-.3 2 .2 3 1.3 .5 2-1.5 1.2-2 .8-4 0-2-.8-1.7-1.2zM316.9 47l2.1-1.9 2 0 2 1.9 .4 2-.8 2-1.6 1.1-2-.1-1.3-1-.7-1.1-.3-.9zM348.9 109l4.1-1 6-.1 4 .8 4.6 2.3 2.2 2 1.3 2 .6 2 0 2-.4 2-.9 2-1.4 1.9-2.4 2.1-3.6 2-4 1.6-4 .7-2-.1-2-.5-4-2.4-3.3-3.3-1.3-2-.7-2-.4-2 .2-2 .5-2 1.1-2 1.9-2zM251.6 113l3.4-.1 6 .7 2 .5 4 1.6 2.1 1.3 2 2 .9 2-.1 2-1.3 2-3.6 1.9-4 1.6-6 1.4-6 .3-2-.3-4-1.5-2-1.4-2-2-1-2-.3-2 .4-2 1.2-2 1.7-1.6 2-1.1 2-.7zM176.9 117l2.1-.6 4-.2 4 1.1 2.3 1.7 1.3 2 .7 2 .4 4-.6 4-1.5 2-4.6 .7-4-.2-2.9-.5-3.1-1.3 0-13.9zM432.3 121l2.7-.2 2 .3 3.2 1.9-1.2 1-2 .9-4.2 .1-1.8-.7-1.7-1.3 1.7-1.5zM247.1 133l7.9 .3 8 1.4 7.3 2.3 2.1 2-1.9 2-6.5 2-7 1.1-10 .6-16 0-16-.8-8.4-.9-3.6-.9-2.8-1.1-.1-2 .9-.8 2-.7 20-1 18-3z"/><path fill="#71b0d3" d="M260.1 13l4.9 .3 4 1.6 2.5 2.1 1.3 2 .5 2-.3 2.2-.8 1.8-1.2 1.4-2 1.5-4 1.5-2 .4-4-.1-4-1.2-2.5-1.5-1.8-2-.9-2-.3-2 .4-2 1.1-2 2-1.8 2-1 2-.7zM331.9 13l7.1-.1 4 .7 2 .7 1.5 .7 2.1 2 .3 2-1.3 2-3 2-1.6 .7-6 1.9-8 1.3-6 .1-4-.6-4-1.4-1.8-2 .1-2 1.4-2 2.8-2 3.5-1.6 4-1.3zM179.7 27l1.3-1.3 2-.3 6 1.8 12 1 3.8 .8 2.2 .8 2.2 1.2 1.8 1.6 1.7 2.4 .5 2-.1 2-.6 2-1.2 2-1.7 2-2.3 2-4.3 2.6-4 1.6-4 1.3-6 .9-4-.1-4-1-4-2.3-2-2 0-12.3zM439.3 31l1.7-.7 2-.3 2 .2 2.2 .8 .4 2-2.6 1.4-2 .2-2-.3-2.5-1.3zM317.4 47l1.6-1.4 2 0 1.5 1.4 .5 1.8-1.1 2.2-.9 .6-2-.1-.6-.5-1.3-2zM350.7 109l4.3-.7 6 .5 4 1.4 2 1.2 1.9 1.6 1.4 2 .6 2 .1 2-.4 2-1 2-1.6 2-2.5 2-2.5 1.3-4 1.5-4 .5-2-.1-2-.6-4-2.2-2-1.8-2-2.6-.8-2-.3-2 .1-2 .6-2 1.3-2 2.2-2zM244.4 115l2.6-1.1 6-.7 6 .3 4 .9 4 1.7 1.5 .9 2.1 2 .8 2-.1 2-1.5 2-.8 .5-4 1.9-4 1.2-4 .8-4 .4-2-.2-4-.9-2-.8-2-1.3-1.6-1.6-1.1-2-.3-2 .5-2 1.3-2zM180.6 117l2.4 0 2 .4 2 .9 2 1.7 1.5 3 .4 2 0 2-.5 2-1.4 2.5-2 1.1-2 .4-4-.2-4-1.1-2-1.1 0-11.8 2-1zM430.5 123l2.5-1.3 2-.1 2 .4 1.9 1-1.9 1-2 .4-2-.2zM234 135l11-1.5 6-.1 4 .3 6 1 6 1.6 1.8 .7 2.2 2-2 2-6 1.8-8 1.2-8 .4-14 0-14-.7-8.2-.7-5.8-1.2-2.5-.8-.3-2 2.8-.9 18-1.4z"/><path fill="#62a7ce" d="M254.1 15l2.9-1.2 4-.6 4 .5 3.5 1.3 2.5 1.9 1.4 2.1 .5 2-.2 2-1 2-2.7 2.5-4 1.6-2 .4-4-.1-4-1.3-2-1.2-1.8-1.9-1-2-.3-2 .4-2 1.2-2zM322.9 15l4.1-1.1 6-.8 4 0 4 .4 4.8 1.5 2.2 2 .3 2-1.3 2-3.1 2-5.6 2-5.3 1.2-6 .6-4 0-4-.7-3.2-1.1-2-2 0-2 1.5-2 1.7-1.3 2-1.1zM181.5 27l1.5-.4 8 1.4 10 .6 4 .9 2 .8 2 1.2 1.8 1.5 1.3 2 .6 2-.1 2-.6 2-1.2 2-1.7 2-2.1 1.8-4 2.4-4 1.7-6 1.6-4 .5-4-.2-4-1.1-4-2.4-2-2.2 0-10.2 4-6.9 2-2.8zM440.6 31l2.4-.5 2 .2 .9 .3 .7 2-1.6 .8-2 .2-2-.4-1.2-.6zM318 47l1-.8 2-.1 1 .9 .5 2-1.3 2-2.2-.1-1.3-1.9zM353.5 109l3.5-.2 4 .6 4 1.5 2.9 2.1 1.6 2 .7 2 .1 2-.4 2-.9 1.8-2 2.4-2.8 1.8-3.2 1.4-4 1-2 .1-2-.2-4-1.5-4-3.1-1.3-1.7-.9-2-.3-2 .1-2 .7-2 1.3-2 2.4-1.9 4-1.6zM245.1 115l3.9-1.2 4-.4 6 .4 4 .9 4 1.7 3.1 2.6 .8 2-.2 2-1.6 2-2.1 1.2-6 2.1-8 .9-6-.9-2-.8-3.1-2.5-1.2-2-.3-2 .4-2 1.4-2zM176.3 119l2.7-1 2-.3 4 .6 2 1 1.7 1.7 1 2 .4 2-.2 2-.9 2.5-2 1.8-2 .6-2 .2-4-.6-2-.8-2-1.3 0-9.6zM432.3 123l2.7-.5 2 .5-2 .5zM235.7 135l9.3-1.1 6-.1 4 .3 10 2.1 2.4 .8 2.2 2-2 2-4.6 1.4-6 1-10 .7-14 0-12-.6-8-.9-7.9-1.6-.2-2 2.1-.4 12-1z"/><path fill="#529dc8" d="M254.8 15l4.2-1.3 4-.1 4 1 2 1.1 2 1.9 .9 1.4 .6 2-.3 2-1 2-2 2-2.2 1.1-4 1-4.2-.1-1.8-.4-3.3-1.6-2.1-2-1-2-.3-2 .4-2 1.3-2zM323.8 15l5.2-1.2 4-.4 4-.1 4 .5 4 1.2 2.4 2 .4 2-1.4 2-3.1 2-5.8 2-6.5 1.3-6 .3-4-.4-4.4-1.2-1.6-1.4-.6-.6 0-2 1.4-2 3.2-2.1zM180.9 29l2.1-1.3 2 0 6 .7 10 .5 4 1 2 .8 2 1.4 1.1 .9 1.4 2 .6 2 0 2-.6 2-1.2 2-3.3 3.3-4 2.5-4 1.7-6 1.6-4 .5-4-.3-4-1.1-3.6-2.2-1.7-2-.7-1.2 0-7.5 2-3.7zM442.7 31l.9 0 1.4 1 .3 1-2.3 .4-1.7-.4zM318.6 47l.4-.3 2-.1 .4 .4 .5 2-.9 1.3-2-.3-.7-1zM348.4 111l4.6-1.4 4-.3 4 .6 2.9 1.1 3.1 2 1.7 2 .8 2 .1 2-.6 2.4-.9 1.6-1.9 2-3.2 2-2 .8-4 .8-2 .1-4-.7-2-1-2-1.3-2.6-2.7-.9-2-.4-2 .2-2 .7-2 1.5-2zM245.9 115l3.1-.9 4-.4 6 .4 4 .9 4 1.8 2.5 2.2 .9 2-.3 2-1.7 2-1.4 .8-6 2.2-4 .7-4 .1-4-.3-2-.5-2-.9-2.7-2.1-1.3-2-.3-2 .5-2 1.4-2zM178.5 119l2.5-.5 2 .1 2 .6 2.6 1.8 1.2 2 .4 2-.2 2-1.2 2-.8 .8-2 1-4 .2-4-1.4-2-1.6 0-7zM237.8 135l9.2-.8 8 .4 6 1 4 1.1 1 .3 2.3 2-2.1 2-3.2 1-6 1.1-8 .6-12 .1-12-.5-6-.5-10.7-1.8 .4-2 12.3-1.3z"/><path fill="#4393c3" d="M255.6 15l3.4-1 4 0 4 1 2 1.2 1 .8 1.5 2 .5 2-.2 2-1 2-1.8 1.7-2 1.1-4 1-4-.1-2-.5-2.7-1.2-2.2-2-1.1-2-.3-2 .5-2 1.4-2zM324.6 15l4.4-1 4-.4 4 0 4 .4 4 1.5 1.8 1.5 .4 2-1.3 2-3.3 2-5.9 2-5.7 1.1-6 .3-4-.4-3.5-1-2.5-2-.1-2 1.5-2 3-2zM182.8 29l2.2-.5 14 .6 6 1.2 2 .9 2 1.4 1.9 2.4 .7 2 0 2-.6 2-1.2 2-1.8 2-2.6 2-4.4 2.3-4 1.5-4 .9-4 .4-4-.2-4-1.2-2.7-1.7-1.9-2-1.4-3 0-3.8 1.2-3.2 2.8-4.3 2-2.5zM318.9 49l.1-.7 2-.7 .3 1.4-.3 .4zM349.8 111l3.2-.9 4-.2 4 .6 4 1.8 2.8 2.7 .9 2 .2 2-.4 2-1.2 2-2.1 2-2.2 1.3-2 .8-4 .9-4-.2-2-.6-4-2.2-1.8-2-1.1-2-.4-2 .2-2 .8-2 1.7-2zM246.7 115l4.3-.9 4-.2 4 .4 4 1 3.7 1.7 2.3 2 .9 2-.3 2-2.6 2.4-4 1.7-4 1-6 .5-4-.4-2-.6-2-.9-2.3-1.7-1.3-2-.4-2 .5-2 1.5-1.9 2-1.4zM176.5 121l2.5-1.2 2-.4 2 .1 2 .7 1.2 .8 1.5 2 .4 2-.4 2-1.7 2-1 .6-2 .5-2-.1-3.1-1-2.4-2-.5-1 0-3.2zM240.3 135l8.7-.5 8 .7 7.5 1.8 2.6 2-2.2 2-3.9 1-5.9 1-6.1 .4-10 .1-12-.4-14.9-2.1 1.5-2 7.4-.8z"/><path fill="#3c8abe" d="M256.4 15l2.6-.7 4 0 3.1 .7 2.9 1.6 2.1 2.4 .5 2-.2 2-1.1 2-3.3 2.4-4 1.1-4-.1-4.1-1.4-2.3-2-1.1-2-.3-2 .5-2 1.3-1.9zM325.6 15l7.4-1.2 4 0 4 .5 2.3 .7 2.9 2 .4 2-1.3 2-3.3 2-6.2 2-4.8 .9-6 .2-4-.4-2.6-.7-2.7-2-.2-2 1.5-2 3-2zM181.5 31l1.5-1.1 2-.6 2-.1 12 .2 4 .7 2 .6 3.7 2.3 1.6 2 .7 2 .1 2-.7 2-1.1 2-2.3 2.4-4 2.6-4 1.8-4 1.1-4 .7-4 .1-4-.8-3.8-1.9-2.1-2-1.2-2-.5-2 0-2 1.5-4 2.1-3.2zM351.5 111l3.5-.6 4 .2 4 1.3 2 1.1 2 2 1 2 .2 2-.5 2-1.2 2-3.5 2.6-2 .9-4 .8-4-.2-2-.6-2.9-1.5-2.1-2-1.2-2-.4-2 .2-2 .9-2 1.5-1.7 2-1.3zM247.6 115l3.4-.7 4-.1 4 .4 4 1 3.1 1.4 2.4 2 .9 2-.4 2-1.9 2-2.1 1-6 1.8-6 .5-4-.5-2-.5-2-1-1.8-1.3-1.4-2-.4-2 .5-2 1.7-2 1.4-1zM178.5 121l2.5-.6 2 .1 2 .9 1.5 1.6 .5 1.8-.7 2.2-1.3 1.2-2 .7-2 0-2-.6-2-1.2-1.1-2.1 .4-2zM244.6 135l8.4 .1 6 .9 4.1 1 2.7 2-2.3 2-2.5 .7-6 1-6 .4-18-.2-6-.6-8.8-1.3 1.8-2 19-3.2z"/><path fill="#3681ba" d="M257.5 15l3.5-.5 2 .1 2.1 .4 3.9 2 1.6 2 .6 2-.3 2-1.2 2-2.7 2.1-4 1.1-4-.1-2-.5-2-1-2-1.7-1.1-1.9-.3-2 .5-2 1.6-2zM326.5 15l4.5-.8 4-.2 6 .6 2 .7 2.6 1.7 .5 2-1.4 2-3.4 2-6.3 2-4 .6-6 .3-4-.5-2-.5-2.7-1.9-.2-2 1.4-2 3.5-2.1zM182.8 31l2.2-1 2-.2 8-.2 6 .4 3.6 1 3.4 2 1.7 2 .8 2 0 2-.6 2-1.1 2-1.9 2-3.9 2.6-4 1.8-4 1.1-4 .7-4 0-4-.8-2.9-1.4-2.2-2-1.3-2-.5-2 0-2 .5-2 1-2 3.4-4.6zM354.6 111l3 0 3.4 .7 2.8 1.3 2.3 2 1.1 2 .2 2-.5 2-1.3 2-2.6 2-4 1.4-4 .3-2-.2-4-1.6-2.2-1.9-1.3-2-.5-2 .3-2 1.7-2.8 2-1.6 2-.8zM248.7 115l2.3-.4 4-.2 4 .4 4 1.1 2.5 1.1 2.5 2 .9 2-.4 2-2.1 2-1.4 .7-6 1.9-6 .4-4-.5-2-.6-3.4-1.9-1.5-2-.4-2 .6-2 1.8-2 2.9-1.5zM178 123l1-.8 2-.6 2 .2 2 1.2 .5 2-1.3 2-1.2 .5-2 .1-2-.6-1.5-2zM231.2 137l11.8-1.6 8 0 6 .6 4 .8 3.5 2.2-2.5 2-1 .3-6 1-6 .5-16-.2-12.9-1.6 1.3-2z"/><path fill="#2f79b5" d="M258.9 15l4.1-.1 2 .4 2 .9 2 1.5 1.1 1.3 .6 2-.3 2-1.2 2-2.2 1.6-2 .9-4 .5-4-.8-3.4-2.2-1.2-2-.3-2 .5-2 2.4-2.5zM327.6 15l7.4-.8 6 .7 2 .9 1.9 1.2 .6 2-1.4 2-3.4 2-5.7 1.7-4 .7-6 .3-4-.5-2-.8-2-1.4-.3-2 1.4-2 3.2-2zM184.5 31l2.5-.6 8-.5 4 .2 4.4 .9 3.6 1.8 2.1 2.2 .8 2 .1 2-.6 2-1.2 2-1.9 2-3.3 2.3-4 1.7-4 1.2-4 .6-4-.1-4-.9-2-.9-2.4-1.9-1.3-2-.6-2 0-2 .6-2 2.4-4 3.3-3.3zM349.6 113l3.4-1.2 4-.3 2 .3 3.6 1.2 2.6 2 1.1 2 .3 2-.5 2-1.5 2-1.6 1.2-2 1-2 .6-4 .3-2-.3-2.4-.8-2.9-2-1.4-2-.5-2 .3-2 .9-1.8zM250 115l3-.3 4 .1 4 .7 3.9 1.5 2.6 2 .9 2-.5 2-2.9 2.4-6 1.9-6 .4-4-.5-2-.6-2-1-2-1.9-.5-.7-.4-2 .6-2 1.9-2 2.4-1.2zM180.2 125l.8-1.4 2 1 .2 .4-2.2 .5zM233.3 137l9.7-1.2 8-.1 4 .4 5 .9 3.3 2-2.8 2-3.5 .7-6 .6-14 0-13.3-1.3 .5-2z"/><path fill="#2a71b2" d="M328.8 15l6.2-.5 5 .5 4.2 2 .7 2-1.4 2-3.5 2-7.4 2-5.6 .5-4-.3-2-.4-3.3-1.8-.5-2 1.5-2 3.3-2zM254.9 17l2.1-1.1 2-.6 4-.1 2 .5 2.7 1.3 1.9 2 .6 2-.2 2-1.4 2-3.6 2.1-4 .5-4-.8-2.8-1.8-1.4-2-.3-2 .6-2zM186.7 31l4.3-.5 6-.2 4 .4 4 1.5 2 1.3 1.4 1.5 .6 1.3 .4 2.7-.5 2-1.2 2-2.7 2.6-4 2.3-4 1.4-4 .8-4 .3-4-.5-2.6-.9-2.9-2-1.4-2-.7-2 0-2 .6-2 1-2 2-2.6 2-1.9 2-1zM351.1 113l1.9-.6 4-.3 4.1 .9 3 2 1.4 2 .3 2-.6 2-2.2 2.4-4 1.7-4 .3-2-.3-2-.7-2.3-1.4-1.6-2-.5-2 .2-2 1.3-2zM252.1 115l2.9-.1 4 .5 5.2 1.6 2.8 2 .9 2-.5 2-2.3 2-2.1 .9-6 1.4-6 0-4-1-2-1-2.1-2.3-.4-2 .6-2 1.9-2 2-.9zM235.5 137l9.5-1 8 .2 5.3 .8 3.6 2-3 2-7.9 1-12 0-11.7-1-.4-2z"/><path fill="#2369ad" d="M330.5 15l4.5-.3 4 .4 2 .6 2.5 1.3 .8 2-1.4 2-3.6 2-8.1 2-4.2 .3-3.9-.3-2.1-.6-2.6-1.4-.5-2 1.4-2 3.7-2.1zM255.6 17l3.4-1.3 2-.2 4 .6 2 .9 2.1 2 .7 2-.3 2-1.5 2-1 .7-3 1.3-3 .3-2-.2-2-.7-2.3-1.4-1.4-2-.4-2 .7-2zM189.8 31l5.2-.4 4 .2 4 .9 2.6 1.3 2.1 2 1 2 .2 2-.5 2-1.2 2-2 2-3.2 2-3 1.3-4 1.1-4 .5-4-.1-3.2-.8-2.8-1.6-2.2-2.4-.6-2-.1-2 .9-2.7 2-3 2.5-2.3 3.5-1.5zM353.4 113l3.6-.2 2 .2 4 2 1.5 2 .4 2-.7 2-1.9 2-1.3 .7-4 1.1-4-.4-3-1.4-1.9-2-.6-2 .3-2 1.4-2 1.8-1.1zM245.7 117l3.3-1.3 2-.3 4-.2 4 .4 4 1.2 2 1.1 1.4 1.1 1 2-.6 2-2.4 2-1.4 .6-6 1.4-6 0-4-1-1.9-1-1.8-2-.5-2 .7-2zM238 137l7-.6 8 .2 3.3 .4 4.2 2-3.5 2-6 .7-6 .1-13.9-.8-1.7-2z"/><path fill="#1d5fa2" d="M333.3 15l3.7 .1 4 1 1.8 .9 .9 2-1.4 2-3.8 2-7.5 1.7-6 .2-4-.9-1.9-1-.6-2 1.4-2 1.1-.6 4-1.9 4-1zM256.4 17l2.6-.9 2-.2 2 .1 3.2 1 2.3 2 .8 2-.3 2-2 2.3-2 1-2 .5-2 .2-2-.3-2-.7-1.6-1-1.6-2-.3-2 .7-2zM194.3 31l3 0 3.7 .5 3.8 1.5 2.2 2 1.1 2 .2 2-.5 2-1.2 2-2 2-3.3 2-6.3 2-4 .5-4-.2-2-.5-3.6-1.8-1.7-2-.8-2 0-2 .5-2 1.6-2.6 2-2.2 2-1.4 4-1.2zM350.5 115l2.5-1.1 2-.4 2 0 4 1.2 2.4 2.3 .4 2-.7 2-2.4 2-3.7 1-2 0-3.5-1-2.4-2-.7-2 .4-2zM246.3 117l2.7-1 4-.6 6 .5 3.9 1.1 2.1 1.3 .9 .7 .9 2-.5 2-3.3 2.3-6 1.5-6-.1-4-1-2-1.3-1.3-1.4-.5-2 .7-2zM241.3 137l5.7-.3 6 .2 2 .4 4.1 1.7-4.4 2-7.7 .5-11.5-.5-3.4-2z"/><path fill="#185493" d="M257.2 17l3.8-.8 2 .2 2.3 .6 2.6 2 .8 2-.3 2-1.7 2-3.7 1.4-2 .1-2-.2-2-.8-.9-.5-1.7-2-.4-2 .7-2zM324.3 17l6.7-1.5 6 0 2 .4 3 1.1 1 2-1.4 2-3.9 2-6.7 1.5-6 .1-2-.4-3.1-1.2-.8-2 1.5-2zM186 33l3-1 6-.7 4 .2 4 1.1 3.3 2.4 1.2 2 .3 2-.5 2-1.2 2-2.1 2-5 2.6-4 1-4 .5-4-.4-2-.5-2.4-1.2-2-2-.9-2 0-2 .5-2 1.1-2 1.8-2zM352.4 115l2.6-.6 2 0 2.7 .6 2.4 2 .5 2-.9 2-2.7 1.8-2 .4-3-.2-3-1.5-.5-.5-.9-2 .5-2zM246.9 117l2.1-.7 4-.6 6 .4 3.1 .9 2.9 1.7 1.3 2.3-.6 2-2.7 2-2 .7-6 1-4-.2-2-.5-2.7-1-1.3-1.1-.8-.9-.5-2 .7-2zM234.9 139l8.1-1.6 4-.3 6 .5 4.4 1.4-4.4 1.6-1.8 .4-4.2 .1-6-.1-4-1z"/><path fill="#124984" d="M258.5 17l2.5-.4 2 .1 2 .7 2.3 1.6 .8 2-.3 2-2 2-2.8 1-2 .1-2-.3-2.1-.8-2-2-.3-2 .8-2zM325.2 17l5.8-1.2 6 0 4.1 1.2 1.2 2-1.4 2-4.1 2-3.8 .9-6 .5-4-.6-2.2-.8-1-2 1.2-1.6zM187.4 33l3.6-.9 4-.4 4 .2 3.9 1.1 2.7 2 1.2 2 .4 2-.4 2-1.3 2-2.2 2-2.3 1.3-4 1.5-6 .8-4-.5-2-.6-2-1.2-1.4-1.3-1-2-.1-2 .5-2 2-2.9 2-1.8zM247.7 117l5.3-1 6 .4 2.3 .6 3.4 2 1.1 2-.7 2-2.1 1.5-2 .9-6 1-4-.2-2-.4-2.1-.8-1.9-1.6-.4-.4-.5-2 .7-2zM351.7 117l1.3-.9 2-.7 2 0 2 .7 1.4 .9 .8 2-1.3 2-.9 .5-2 .5-2 0-2.7-1-1.3-1.9zM238.2 139l8.8-1.2 4 .2 4.3 1-4.3 1.2-4 .3-4-.3z"/><path fill="#0d3f76" d="M260.8 17l2.2 .2 2 .8 1.5 1 .5 .7 .5 1.3-.3 2-2.2 2-2 .5-2 .2-2-.3-2-1-1.3-1.4-.6-2 1-2 2.9-1.7zM326.2 17l4.8-.9 6 .1 3.1 .8 1.5 2-1.4 2-5.2 2.2-4 .7-4 .1-2-.1-3.2-.9-1.2-2 .4-.6 1-1.4zM188.9 33l6.1-1 4 .3 2.8 .7 3.1 2 1.3 2 .4 2-.4 2-1.2 2-2.3 2-3.7 1.8-2 .6-6 .7-2-.2-3.5-.9-2.8-2-1.1-2-.2-2 .5-2 1.2-2 1.9-2zM248.5 117l4.5-.8 6 .5 2 .6 3.1 1.7 1.1 2-.7 2-3.5 2.1-6 1-4-.2-2-.4-2-.9-1.9-1.6-.6-2 .8-2zM353.6 119l1.4-1.8 2-.1 1.6 1.9-1.6 1.1-2-.1zM242.3 139l4.7-.4 5.4 .4-5.4 .5z"/><path fill="#073467" d="M327.4 17l5.6-.7 4 .2 2 .5 1.8 2-1.4 2-4.7 2-5.7 .7-4-.2-2.1-.5-1.5-2 1.4-2zM256.9 19l2.1-1.1 2-.3 2 .2 2 .7 .7 .5 1.2 2-.5 2-1.4 1.2-2 .9-2 .1-2-.3-2.6-1.9-.5-2zM190.6 33l2.4-.4 4-.2 3.5 .6 2.5 1.2 1.1 .8 1.4 2 .5 2-.3 2-1.3 2-2.4 2-4.8 2-2.2 .5-4 .1-4-.7-3-1.9-1.3-2-.3-2 .4-2 1.2-2 2.1-2zM249.5 117l5.5-.6 4.3 .6 4.2 2 1.2 2-.8 2-3.6 2-5.3 .8-4-.2-2-.4-2-1.1-1.4-1.1-.7-2 1-2z"/></g><path d="M185.5 20.0L186.8 17.5L189.8 16.0L195.5 14.7L201.2 15.2L209.0 15.9L214.3 16.5L220.4 15.7L223.0 16.2L227.4 16.4L231.7 17.5L236.1 17.7L237.8 18.8L243.1 18.0L246.6 18.0L248.3 18.4L250.1 17.1L249.6 14.7L251.8 16.7L253.5 17.5L255.3 18.4L257.0 18.0L260.5 16.7L261.0 17.5L258.8 18.8L257.0 19.4L256.2 20.6L253.5 21.4L250.9 23.2L249.6 24.9L249.6 26.0L251.4 27.5L253.5 27.5L257.9 29.0L260.3 29.3L260.5 31.0L261.4 32.3L262.7 32.5L263.3 31.4L262.7 29.7L264.9 28.4L265.3 27.1L263.6 26.0L264.5 24.5L264.0 22.9L267.5 22.9L271.0 24.0L271.4 25.8L272.7 26.4L274.9 25.3L275.8 24.7L278.0 27.1L279.7 28.8L281.9 30.1L283.4 31.4L282.3 32.3L279.7 33.4L275.4 33.4L273.6 34.2L271.0 35.8L270.1 36.4L273.6 34.7L275.8 34.5L275.8 35.3L275.4 36.2L276.2 36.9L278.9 37.5L276.7 38.3L274.5 39.3L274.5 38.1L275.8 37.5L273.6 38.0L271.9 38.8L270.6 39.7L270.6 40.7L271.0 40.8L269.3 41.3L267.5 41.8L267.5 42.7L266.2 43.6L265.8 44.9L265.9 46.2L264.9 47.1L263.1 48.1L261.4 49.7L261.1 51.0L262.1 53.6L262.1 55.1L261.2 55.2L259.9 53.0L259.9 51.9L258.8 51.0L257.5 51.3L255.7 50.7L254.0 50.8L254.2 51.8L252.7 51.6L250.1 51.4L248.7 52.1L247.2 53.2L247.2 54.9L246.7 57.5L247.4 59.3L248.3 60.6L249.6 61.3L251.8 60.9L252.9 60.1L253.3 58.8L255.3 58.4L256.2 58.6L255.7 60.1L255.1 61.6L254.6 63.3L257.0 63.3L259.4 64.0L259.2 66.2L259.0 67.5L260.1 69.0L261.4 69.4L262.7 68.8L264.5 69.5L265.8 68.8L266.6 67.7L268.4 67.1L269.7 66.3L269.7 67.5L269.3 68.4L271.0 66.5L272.7 67.5L274.5 67.9L276.2 68.0L278.0 67.8L278.9 68.8L279.7 69.7L281.5 71.2L283.2 72.0L285.0 72.0L286.7 72.9L287.6 74.0L288.5 75.5L288.5 77.1L289.8 77.5L291.1 77.7L293.3 79.3L295.4 79.5L297.2 79.6L299.4 81.0L301.4 81.7L301.7 83.6L301.1 85.3L299.8 87.1L298.5 88.4L298.1 90.6L297.9 92.7L297.2 94.5L296.3 96.2L295.4 97.1L293.3 97.3L291.5 98.1L289.8 99.7L289.6 101.9L288.0 104.0L286.5 105.3L285.4 106.7L284.1 107.5L282.3 107.1L281.1 106.7L282.2 108.0L282.6 108.8L281.6 110.3L278.0 111.0L277.7 112.6L275.4 112.7L276.0 114.0L275.1 115.8L273.2 117.1L274.7 118.4L272.7 120.6L271.9 121.9L272.4 122.7L272.3 123.2L273.6 124.5L275.2 124.7L273.6 125.3L271.0 125.1L269.3 124.0L267.5 122.7L266.4 120.6L266.2 118.0L267.1 116.2L267.9 113.6L267.7 111.4L268.1 109.3L268.8 107.5L269.7 104.9L269.8 102.3L270.3 99.7L270.7 96.2L270.7 93.0L269.3 91.9L266.6 90.4L265.5 88.8L264.5 87.1L263.3 84.5L262.3 82.7L261.1 81.4L261.4 80.1L262.3 79.3L261.6 78.0L262.3 76.7L263.1 75.8L264.0 74.9L264.7 73.6L264.5 71.9L264.5 70.8L263.8 70.1L262.7 69.3L261.8 70.0L262.0 70.7L261.0 70.3L259.7 69.9L259.0 69.3L257.9 68.4L257.2 67.6L256.2 66.2L255.6 65.5L254.0 65.3L252.7 64.9L250.9 63.6L249.6 63.0L248.3 63.4L246.6 62.9L244.8 62.3L243.1 61.4L241.3 60.6L240.0 59.4L240.2 58.2L239.6 57.1L237.8 55.3L236.5 54.0L235.2 52.7L233.9 51.4L233.5 50.1L231.9 49.5L232.2 51.0L233.5 52.3L234.3 53.6L235.2 54.9L235.8 56.2L236.5 57.1L236.1 57.2L234.8 55.8L234.2 54.5L232.6 53.2L232.3 52.3L231.3 51.2L230.4 49.7L229.8 48.7L228.7 47.5L226.9 47.1L225.8 45.3L225.2 44.2L224.0 42.7L223.6 41.9L223.7 40.1L223.9 38.4L223.9 36.8L223.3 35.0L224.7 35.1L225.2 36.0L225.2 34.5L223.9 33.6L221.3 32.7L220.4 31.4L218.6 30.1L217.8 28.8L215.6 27.1L213.4 26.2L211.7 25.5L209.9 25.1L206.4 24.9L204.7 24.2L202.9 24.7L201.2 25.3L199.7 25.6L200.3 24.5L201.2 23.9L199.4 24.5L198.1 25.5L197.3 26.7L195.5 27.5L193.8 28.4L191.6 29.1L189.8 29.5L188.3 29.7L190.3 28.8L192.0 28.4L193.8 27.1L194.8 26.0L193.8 26.0L192.5 26.0L190.7 25.8L190.7 24.9L188.5 24.5L187.7 23.6L188.1 22.5L189.8 22.1L191.6 21.7L191.6 21.0L189.8 21.0L187.2 20.8L185.5 20.0ZM268.8 9.0L271.9 10.1L270.1 10.8L274.1 11.2L279.7 11.0L281.5 11.9L283.7 14.0L284.5 15.8L287.6 16.7L285.4 17.5L285.8 19.3L286.7 21.0L288.5 22.7L289.8 24.0L291.9 24.5L294.1 25.0L295.0 23.6L296.3 21.9L297.2 20.6L299.8 19.9L303.3 18.4L308.5 17.5L311.6 16.2L312.9 15.8L311.1 14.5L312.9 13.2L314.6 11.9L315.5 10.1L314.6 8.4L317.3 7.5L321.6 6.2L314.6 5.8L309.4 5.1L303.3 4.4L297.2 4.7L290.2 5.3L284.1 5.5L278.9 6.0L275.4 6.8L272.7 7.5L274.5 8.0L268.8 9.0ZM278.4 19.3L276.2 20.6L273.6 22.3L275.4 23.2L274.1 23.3L272.3 22.7L269.7 21.9L267.9 21.0L264.5 21.2L264.0 20.6L267.5 20.1L267.9 18.8L268.8 18.0L265.8 17.1L263.1 16.2L258.8 16.2L255.3 15.3L253.5 14.0L254.4 13.0L257.9 13.0L261.4 13.2L264.0 13.7L267.1 14.5L270.1 15.3L272.7 16.0L273.6 17.1L276.2 18.2L278.4 19.3ZM230.9 16.7L233.5 17.5L237.8 17.3L240.5 17.1L243.5 16.4L240.9 15.3L240.5 13.6L237.4 13.3L234.3 13.9L231.7 13.2L228.7 14.0L230.0 14.9L228.2 14.9L230.0 15.8L230.9 16.7ZM223.0 14.5L224.7 15.2L227.4 14.9L229.5 13.6L231.3 12.7L229.5 12.5L226.1 12.3L223.4 13.0L223.0 14.5ZM262.3 10.7L264.0 10.1L266.2 8.6L270.1 8.0L274.5 6.8L278.0 5.8L276.2 5.1L269.3 4.8L262.3 4.9L256.2 5.6L252.7 6.2L257.0 7.1L256.2 8.0L257.9 8.8L255.3 9.4L254.4 10.6L258.8 10.7L262.3 10.7ZM262.3 11.3L260.5 12.2L255.3 12.3L251.8 12.0L251.8 10.7L254.4 10.8L257.9 11.3L262.3 11.3ZM230.9 11.9L234.3 12.3L238.7 12.0L239.6 11.2L237.0 10.6L233.5 10.8L230.0 11.0L230.9 11.9ZM248.7 14.3L253.1 13.9L253.5 12.8L249.2 12.7L248.7 14.3ZM243.1 14.9L246.6 14.9L247.4 13.6L244.8 12.7L243.1 13.6L243.1 14.9ZM249.2 9.1L255.3 9.0L256.2 8.0L251.8 6.5L248.3 7.5L249.2 9.1ZM256.2 21.7L258.8 22.3L261.4 21.9L261.4 21.0L257.9 19.9L256.2 20.3L256.2 21.7ZM280.3 35.6L283.2 36.3L285.8 36.5L286.1 35.6L285.4 34.5L283.4 33.8L283.7 32.3L282.3 32.7L281.5 34.0L280.3 35.6ZM258.0 58.0L259.7 57.1L261.8 57.0L264.9 58.1L267.3 59.5L264.3 59.8L263.6 58.8L261.0 57.9L258.0 58.0ZM267.2 61.0L268.8 59.8L271.0 59.9L272.4 60.9L270.6 61.3L269.5 61.7L267.2 61.0ZM263.8 61.2L265.5 61.3L264.9 61.6L263.8 61.2ZM273.4 61.1L274.8 61.2L274.5 61.5L273.4 61.1ZM220.1 32.9L222.7 33.4L224.3 34.9L223.0 34.7L220.1 32.9ZM310.9 20.1L312.9 19.3L316.4 19.7L319.3 19.4L320.2 20.6L319.0 21.2L315.9 22.0L312.5 21.5L312.9 21.0L311.1 20.7L312.5 20.2L310.9 20.1ZM326.9 46.0L330.3 46.5L332.1 46.0L334.7 45.1L339.1 44.9L340.8 44.7L341.7 44.9L341.0 45.8L341.5 47.1L340.8 47.5L341.7 48.2L343.0 48.6L345.2 49.0L346.1 50.0L347.8 50.6L349.1 50.6L349.5 49.7L350.0 48.7L351.3 48.5L352.6 49.1L353.9 49.5L355.7 49.9L357.4 50.2L359.1 49.7L360.3 50.0L360.5 51.2L361.1 52.3L361.8 54.0L362.6 55.8L363.2 57.1L364.3 58.4L364.6 60.1L365.7 61.4L366.6 63.6L367.9 64.5L369.2 65.8L369.9 66.2L369.9 67.1L370.9 68.0L373.1 67.3L374.9 67.3L376.8 66.8L376.4 68.4L375.6 70.6L374.0 73.2L372.2 74.9L370.5 76.2L368.7 78.0L367.4 79.3L366.6 81.0L366.0 82.7L366.6 84.0L366.6 85.8L367.4 86.7L367.5 89.7L367.0 91.0L364.8 92.3L363.5 93.6L362.5 94.5L363.1 96.2L363.1 98.0L360.9 99.3L360.7 101.0L359.6 102.6L358.3 104.3L356.5 105.6L354.8 106.5L352.2 106.7L349.5 107.3L348.1 106.8L348.0 105.3L347.1 103.2L346.1 101.4L345.2 99.7L344.7 97.1L343.9 94.9L342.6 92.7L342.4 91.0L343.4 88.4L344.1 86.7L343.4 84.9L342.8 82.3L341.7 80.6L340.4 79.3L339.9 77.5L340.4 76.2L340.6 74.5L339.9 73.3L338.2 73.3L336.9 72.3L336.0 71.6L333.8 71.6L332.1 72.1L330.3 72.9L328.6 72.6L325.5 73.3L324.2 72.7L322.5 71.3L321.2 70.6L320.3 68.8L319.0 67.5L317.5 66.2L316.8 64.3L317.7 63.2L317.9 60.6L317.3 58.8L318.1 56.7L319.4 54.5L320.7 52.9L322.5 52.0L323.5 51.2L323.5 49.7L324.7 48.1L326.2 47.4L326.9 46.0ZM375.1 87.5L376.2 90.6L375.3 91.9L374.4 94.5L373.5 97.1L373.1 98.8L371.6 99.3L370.5 98.8L370.1 96.7L370.8 94.5L370.5 92.3L371.8 91.0L373.5 89.7L375.1 87.5ZM327.2 45.8L328.2 45.2L330.3 45.1L331.7 44.0L332.1 43.2L331.8 42.7L332.8 41.4L334.9 40.7L334.9 39.5L336.0 39.3L337.8 39.6L338.6 39.0L339.9 38.6L341.1 39.3L341.7 40.2L343.0 41.1L344.3 41.6L345.6 42.3L346.1 43.3L345.8 44.0L346.5 43.8L346.9 43.2L346.6 42.1L348.1 42.3L348.1 41.9L346.6 41.3L346.1 40.7L345.2 40.6L344.3 40.0L343.9 39.2L342.9 38.6L342.8 37.7L344.0 37.3L344.0 38.0L344.7 37.8L345.4 38.7L346.5 39.3L347.8 40.0L349.0 40.7L349.0 42.0L350.0 43.2L350.7 44.2L351.0 45.1L352.0 45.3L352.2 44.5L353.0 44.3L352.4 43.8L352.0 42.7L351.9 42.0L352.9 42.3L353.3 41.7L354.8 41.6L356.1 41.4L357.3 41.3L356.5 40.7L356.4 39.9L357.0 39.1L357.1 38.4L358.0 37.7L358.7 36.9L359.6 36.5L360.5 37.0L361.3 37.1L360.5 37.6L361.3 38.4L362.9 38.0L363.9 37.7L362.6 37.3L362.6 36.8L364.6 36.2L366.3 36.0L365.3 36.9L364.8 37.7L364.4 38.0L365.7 38.6L367.0 39.3L368.3 40.1L368.3 41.0L367.0 41.4L365.3 41.4L363.9 41.2L362.6 40.6L360.9 40.6L359.6 41.3L357.6 41.3L357.4 41.7L355.7 42.0L355.0 42.3L355.5 43.3L355.9 44.9L356.7 45.2L357.8 45.6L358.9 45.1L360.5 45.7L361.8 45.4L363.5 45.1L363.5 46.2L363.3 47.1L362.8 48.4L362.4 49.4L361.9 49.9L360.9 50.0L360.4 50.0L360.5 51.1L361.2 52.3L361.9 52.9L362.5 51.4L362.6 52.7L363.9 54.5L364.8 56.0L366.1 58.0L366.3 59.3L367.4 60.6L368.7 62.3L369.4 64.0L369.9 66.0L371.4 66.0L374.0 64.9L375.7 64.0L377.6 62.9L379.2 62.3L380.4 61.7L381.4 60.7L382.5 60.1L382.5 59.3L383.4 58.8L384.3 57.5L383.1 56.5L381.7 55.8L381.3 54.3L381.0 54.9L379.7 56.0L377.5 56.2L376.6 55.7L377.1 54.7L376.6 54.5L376.3 55.3L375.9 54.5L375.7 53.9L374.7 52.7L374.0 51.4L374.4 51.0L375.3 50.9L376.4 51.9L377.5 53.2L379.2 54.0L381.2 53.5L382.0 54.7L383.6 55.0L385.8 55.3L387.9 55.1L390.1 55.0L390.8 55.8L391.6 56.6L392.7 57.5L392.2 57.7L393.4 59.0L394.9 58.8L395.5 57.8L395.6 58.8L395.6 60.6L396.1 62.3L396.7 64.0L397.4 65.8L398.2 67.3L398.9 68.8L399.7 70.0L400.3 69.3L401.0 69.0L401.7 68.1L401.8 66.7L402.2 65.3L401.9 63.6L402.8 63.0L403.9 62.6L405.0 61.6L406.3 60.3L407.6 59.5L408.0 58.6L409.3 58.2L410.6 58.0L411.5 57.5L412.2 57.7L412.6 58.8L413.1 59.7L414.1 61.0L414.6 62.3L414.4 63.2L415.4 63.3L416.7 62.5L417.4 63.2L417.4 64.5L418.1 66.2L418.2 68.0L417.9 69.3L417.9 70.1L418.9 71.2L419.6 72.0L420.1 73.6L420.7 74.7L422.2 75.9L423.0 75.9L422.4 74.7L422.3 73.6L421.5 72.3L421.1 71.6L420.2 71.1L419.5 69.7L418.8 69.0L419.2 67.5L419.4 66.2L419.8 65.3L420.2 66.0L421.4 66.5L422.0 67.5L423.3 68.0L423.7 69.3L423.9 69.5L425.2 68.1L425.7 68.0L427.2 67.1L427.5 65.8L427.2 64.0L426.3 62.9L425.3 61.9L424.4 60.6L425.1 59.3L426.3 58.4L427.7 58.4L428.1 59.3L428.5 58.7L429.4 58.4L430.7 58.0L431.8 57.6L433.3 57.1L434.6 56.2L435.9 55.1L436.6 54.0L437.7 52.5L438.6 51.0L437.9 50.6L438.5 49.7L437.5 48.8L437.1 47.3L436.2 46.7L437.1 45.7L439.0 45.0L437.7 44.3L435.9 44.7L434.9 43.5L435.8 43.0L437.7 41.6L438.4 43.2L440.5 42.4L441.4 43.4L441.0 44.0L442.3 44.9L442.5 46.2L442.3 47.1L443.4 46.9L444.8 46.5L445.1 44.9L444.2 43.6L443.4 42.6L445.3 41.0L446.2 40.2L448.2 39.9L450.3 38.6L452.1 37.1L454.3 35.1L454.7 33.2L455.4 31.2L454.7 30.6L453.4 30.1L452.1 30.1L450.8 29.7L452.5 28.0L454.7 26.7L456.9 25.5L460.4 25.4L463.0 25.3L464.7 25.8L467.4 25.5L468.8 23.6L471.7 23.3L474.3 22.7L474.3 24.0L471.7 25.8L469.1 27.1L467.8 29.3L468.7 31.9L468.8 32.7L470.4 31.0L471.7 29.7L473.5 29.3L473.9 28.2L474.6 26.8L473.9 26.7L475.2 25.1L477.0 24.7L480.5 24.9L482.2 24.0L484.4 23.3L486.6 22.7L488.7 22.7L488.3 21.2L487.4 20.8L489.2 20.6M489.2 17.2L485.7 16.5L481.3 16.2L480.5 17.1L477.8 16.7L473.5 16.6L471.7 16.0L469.1 15.3L464.7 15.3L463.0 14.9L459.5 14.2L455.1 13.8L453.8 14.9L450.8 14.9L448.2 15.1L445.5 15.5L444.7 14.0L442.9 13.3L439.4 13.6L435.9 13.6L431.6 13.0L431.1 11.9L427.2 12.7L425.5 10.6L422.9 9.5L419.4 10.7L415.0 11.2L408.9 11.6L407.6 12.7L402.8 13.2L402.3 14.5L398.4 13.8L397.1 13.8L395.8 14.9L396.2 17.1L395.4 19.3L394.1 19.3L394.9 17.5L393.2 13.3L390.6 15.3L390.6 17.1L392.3 17.7L388.8 16.9L384.9 16.4L383.6 17.3L379.7 17.7L378.8 17.3L374.0 18.3L372.2 17.7L370.8 17.5L370.5 19.3L368.7 19.3L367.0 20.8L365.3 21.3L362.6 21.2L362.5 19.9L360.9 19.1L362.6 19.0L367.4 19.3L367.9 18.4L365.3 17.7L360.9 16.7L358.3 16.4L356.5 15.3L353.9 15.3L351.3 16.0L348.7 16.4L346.1 17.3L344.7 18.4L343.4 19.7L342.1 20.7L340.4 21.9L338.2 22.5L336.6 23.2L336.5 24.5L336.9 25.8L338.2 26.7L339.5 26.4L341.3 25.6L341.7 25.8L342.1 26.7L343.0 28.0L343.3 28.8L344.6 28.8L346.1 28.2L346.7 27.1L348.2 25.5L347.8 24.5L347.2 23.6L347.8 22.5L350.0 21.6L350.9 20.6L353.0 19.9L354.2 20.6L353.5 21.4L351.3 22.3L350.7 23.6L351.3 24.7L352.2 25.0L354.8 24.6L357.0 24.5L358.3 25.0L356.5 25.3L353.5 25.4L352.6 26.0L353.3 26.5L353.3 27.3L351.3 27.0L350.4 27.7L350.4 29.0L349.4 29.8L348.2 29.5L346.5 29.7L344.5 30.2L342.6 30.0L341.7 30.1L340.8 29.7L340.8 28.8L341.5 28.0L341.3 27.0L339.3 27.5L339.2 28.4L339.5 29.0L339.7 30.1L338.2 30.6L336.5 30.7L335.8 31.9L335.1 32.4L333.7 32.7L333.4 33.4L332.3 34.0L331.0 34.0L330.6 34.7L328.1 34.9L328.3 35.5L330.1 36.0L331.0 37.1L331.0 38.4L330.5 39.3L328.6 39.3L325.1 39.1L324.1 39.7L324.4 40.6L324.4 41.9L323.8 43.4L324.4 43.7L324.3 44.9L325.5 44.8L326.5 45.2L327.2 45.8M175.0 20.6L176.7 20.1L178.5 20.7L181.1 21.2L181.7 20.4L183.7 19.7L182.9 18.8L179.4 18.4L176.7 17.5L175.0 17.2M373.1 37.5L374.9 36.7L376.6 36.4L378.3 36.7L378.3 38.0L376.6 38.4L376.2 39.3L377.3 40.1L378.1 41.0L379.2 41.4L378.3 42.3L379.0 43.6L379.0 44.9L377.5 45.1L376.2 44.7L374.9 44.3L374.9 43.2L375.3 41.9L374.4 40.7L373.5 39.7L373.1 38.4L373.1 37.5ZM327.1 33.5L329.0 33.3L331.2 33.0L333.2 32.7L333.0 32.2L333.6 31.3L332.4 31.0L332.2 30.5L331.9 29.9L330.8 29.1L330.2 28.4L329.6 28.0L330.3 27.0L329.0 26.9L328.6 27.0L329.3 26.1L327.7 26.1L326.9 27.1L327.3 28.0L327.1 28.8L327.9 29.3L329.0 29.3L329.5 30.2L329.3 30.7L328.2 30.7L328.3 31.4L327.6 32.0L329.2 32.4L329.5 32.6L328.3 32.7L327.1 33.5ZM323.4 32.1L325.1 32.1L326.6 31.7L326.9 30.6L327.1 29.7L326.4 29.1L324.9 29.1L324.6 29.8L323.4 30.0L323.8 30.8L323.4 31.7L323.4 32.1ZM341.7 8.0L346.1 10.3L351.3 9.3L355.7 7.5L349.5 7.1L341.7 8.0ZM377.0 15.3L380.1 15.6L382.3 14.9L380.5 13.3L382.7 12.3L387.1 11.2L391.9 10.3L389.7 10.1L382.7 11.0L379.7 12.7L377.5 14.2L377.0 15.3ZM415.9 8.4L419.4 9.3L422.9 8.4L419.4 7.1L415.0 6.7L415.9 8.4ZM451.7 11.4L456.0 11.9L459.5 11.6L463.0 11.7L458.6 11.0L452.5 11.0L451.7 11.4ZM374.0 7.3L379.2 7.5L384.5 7.1L386.2 6.7L381.0 6.0L374.0 6.9L374.0 7.3ZM487.9 15.3L489.2 15.4L489.2 14.9L487.9 15.3ZM456.0 37.1L457.3 36.4L456.9 34.5L458.2 34.5L457.2 32.3L456.9 30.6L456.6 29.9L456.0 30.6L455.8 32.3L456.0 34.5L456.0 37.1ZM454.3 41.0L455.6 40.1L457.2 40.6L459.1 39.4L458.6 38.7L456.0 37.5L455.6 39.3L454.5 39.5L454.3 41.0ZM455.1 41.1L456.0 42.7L455.1 44.0L455.1 45.8L454.3 46.7L453.2 46.9L451.7 47.0L450.6 48.0L449.9 47.0L448.2 47.3L446.4 47.5L446.4 46.9L447.7 46.2L450.3 46.1L451.5 45.0L451.9 44.5L453.0 44.5L454.1 43.2L454.3 41.9L455.1 41.1ZM445.5 48.0L447.1 47.9L446.9 49.7L446.0 50.1L445.5 48.8L445.4 48.2L445.5 48.0ZM447.7 47.7L449.5 47.3L449.3 48.0L448.2 48.6L447.7 47.7ZM438.1 55.2L438.4 55.8L437.5 58.0L437.0 57.1L437.7 55.3L438.1 55.2ZM427.0 60.4L428.5 59.7L429.0 60.0L427.7 61.3L427.0 60.4ZM401.9 68.6L403.0 69.7L403.5 70.7L402.8 71.7L402.1 71.9L401.6 70.1L401.9 68.6ZM437.3 61.0L438.7 61.0L438.6 62.7L438.1 63.6L438.6 64.9L440.3 65.8L440.1 66.0L439.0 65.3L437.7 65.2L437.0 64.2L436.8 63.0L437.3 61.0ZM438.6 71.0L439.9 69.7L441.6 68.7L442.5 70.6L441.6 71.9L440.3 71.4L438.6 71.0ZM440.6 66.2L441.6 66.4L441.6 67.5L441.0 68.2L440.6 67.3L440.6 66.2ZM438.6 66.8L439.4 67.1L439.7 68.4L439.0 68.8L438.6 68.0L438.6 66.8ZM434.4 69.7L436.4 67.3L436.1 68.1L434.6 69.9L434.4 69.7ZM427.2 75.8L428.1 75.6L429.2 74.9L430.7 74.3L432.0 72.9L433.3 71.2L434.4 71.0L435.9 72.5L435.1 73.3L434.8 74.0L435.1 75.2L435.9 76.2L434.6 76.7L434.6 77.8L433.8 79.1L433.3 80.4L432.0 80.6L430.7 79.9L429.4 80.0L428.3 79.5L428.1 78.2L427.2 77.3L427.2 75.8ZM415.3 72.2L417.2 72.6L419.4 74.5L420.7 75.3L422.4 77.1L423.3 78.8L424.6 79.7L424.4 82.1L423.3 82.1L421.4 80.6L420.2 79.3L419.6 77.8L418.3 75.6L416.9 74.0L415.3 72.2ZM423.9 83.0L425.3 82.3L426.8 82.9L428.8 82.7L430.4 83.1L432.0 83.9L431.9 84.7L429.0 84.3L426.8 83.9L424.9 83.5L423.9 83.0ZM436.6 76.4L437.5 76.0L439.4 76.3L441.2 75.7L440.6 76.7L437.7 76.7L437.0 77.9L438.1 78.0L439.7 77.8L438.4 78.7L439.3 80.6L438.8 81.7L438.1 81.2L437.7 79.5L437.1 79.7L437.2 82.0L436.4 81.9L436.4 80.1L435.8 79.5L436.6 76.4ZM446.4 77.8L447.7 77.4L449.0 77.8L449.3 79.3L450.3 80.0L452.4 78.4L455.1 79.3L458.2 80.4L459.5 81.4L461.1 82.3L460.6 83.2L461.7 84.9L463.4 86.2L461.3 86.0L459.5 84.3L458.2 83.8L457.2 84.9L455.1 85.0L453.4 84.0L452.5 84.3L453.2 83.2L452.5 81.9L450.3 81.0L448.6 80.4L448.0 80.6L447.3 79.5L448.9 79.1L447.3 78.8L446.4 77.8ZM433.2 84.3L434.2 84.3L435.9 84.4L435.5 84.8L433.8 84.9L433.2 84.3ZM436.6 84.4L438.1 84.5L439.4 84.2L439.3 84.7L437.3 84.8L436.6 84.4ZM439.9 86.0L441.2 84.9L443.1 84.4L442.5 85.1L440.7 86.0L439.9 86.0ZM443.4 75.3L444.2 75.8L443.8 76.7L444.2 77.5L443.5 77.1L443.4 75.3ZM443.8 79.7L446.2 80.0L445.5 80.2L443.8 80.0L443.8 79.7ZM461.7 82.0L463.4 81.9L464.9 80.7L464.7 81.7L463.0 82.6L461.7 82.0ZM431.6 96.2L431.6 99.7L432.5 103.2L433.1 104.9L432.5 106.9L434.9 107.6L436.8 106.6L439.9 106.6L442.1 105.2L444.7 104.6L446.6 104.5L448.6 105.1L450.1 107.3L450.7 107.3L452.3 105.4L452.1 107.7L452.8 107.1L452.7 108.0L454.0 109.2L455.0 110.1L457.3 110.8L458.6 110.3L459.8 111.1L461.3 110.0L463.0 109.5L463.3 108.0L464.1 106.2L465.4 104.5L466.1 101.9L465.8 99.3L464.6 98.0L463.6 96.7L462.4 95.3L461.3 94.5L459.8 93.6L459.5 92.3L459.0 90.1L458.2 89.4L457.3 88.0L456.5 86.4L455.8 88.0L455.6 90.1L455.0 92.3L453.7 92.3L452.3 90.8L450.6 90.1L451.5 87.7L449.9 87.7L447.7 87.1L446.2 88.0L445.1 90.1L443.8 90.0L442.9 89.3L441.6 89.7L440.3 91.4L438.8 92.3L438.6 93.2L437.7 94.2L435.9 94.5L433.9 95.0L432.5 95.8L431.6 96.2ZM458.4 112.5L459.9 112.8L461.5 112.7L461.3 114.5L459.9 115.0L458.9 114.0L458.4 112.5ZM482.8 107.1L484.4 108.7L485.5 109.1L486.1 110.0L487.9 109.9L487.3 111.3L486.6 111.4L486.1 112.7L485.1 113.3L484.6 112.3L483.8 111.3L484.6 110.1L484.4 109.3L482.8 107.1ZM482.9 112.3L484.1 113.2L483.1 114.7L481.6 115.6L481.2 116.9L479.6 117.6L478.3 117.3L477.4 116.9L479.0 115.3L480.9 114.3L481.8 113.3L482.9 112.3ZM475.2 94.7L476.5 95.3L477.8 96.5L477.0 96.2L475.7 95.3L475.2 94.7ZM195.9 59.9L196.8 59.9L196.4 60.6L195.9 59.9ZM278.9 121.9L281.5 121.8L281.0 122.5L279.3 122.5L278.9 121.9ZM298.9 124.0L300.7 124.5L300.2 124.7L298.9 124.0ZM392.1 119.7L393.4 119.9L393.2 120.3L392.3 120.2L392.1 119.7ZM175.0 150.9L184.6 149.8L188.0 148.0L191.0 146.9L195.0 146.5L199.0 145.3L207.0 143.3L220.0 141.7L231.0 141.7L242.4 140.8L250.5 141.3L261.7 141.3L268.0 139.7L271.0 137.2L274.6 135.6L278.0 134.5L281.0 132.4L285.0 130.8L286.5 131.8L285.0 133.5L285.0 135.6L281.0 138.2L277.8 141.3L271.4 143.7L261.7 145.3L265.0 146.5L268.0 146.9L273.0 146.6L277.8 147.7L281.4 148.5L286.2 146.6L291.0 146.9L295.9 146.0L301.5 146.0L304.0 144.5L309.0 144.2L313.5 143.7L315.0 142.0L321.6 139.7L328.0 138.5L339.2 138.0L347.3 138.0L358.5 137.6L365.0 136.4L374.6 135.3L381.0 134.6L388.0 136.4L393.7 137.2L392.0 140.8L396.0 138.0L404.0 136.0L413.7 134.8L423.4 134.0L433.0 135.3L444.2 134.8L453.9 135.3L463.5 136.4L473.0 137.6L480.4 139.7L482.8 141.3L476.4 142.9L481.2 144.5L473.0 146.9L478.0 148.5L487.0 150.0M188.3 29.7L186.8 30.2L185.0 30.8L182.9 31.3L180.2 31.8L177.6 32.1L175.0 32.3M482.6 31.1L484.8 31.5L487.4 32.0L489.2 32.3M468.7 32.9L467.4 34.0L465.6 35.3L464.3 36.7L462.6 37.5L460.8 38.1L459.5 38.8M241.3 11.4L246.6 11.9L247.4 10.6L243.9 10.4L241.3 11.4ZM247.9 11.9L250.5 12.1L250.5 11.4L248.3 11.3L247.9 11.9ZM224.7 11.0L230.0 10.8L230.9 9.9L227.4 9.8L224.7 11.0ZM240.5 9.4L244.8 9.4L245.7 8.6L242.2 8.2L240.5 9.4ZM245.3 17.1L248.3 17.4L248.7 16.7L246.6 16.2L245.3 17.1ZM261.4 13.6L264.9 14.0L265.8 13.4L262.7 12.9L261.4 13.6ZM264.9 18.6L266.6 18.6L266.2 17.7L264.5 18.0L264.9 18.6ZM259.7 22.7L262.3 22.9L262.3 22.3L260.1 22.3L259.7 22.7ZM275.8 20.3L272.7 19.3L274.9 19.7M274.9 22.7L272.3 21.7L274.1 22.0M257.0 13.2L258.3 14.9L257.5 14.0M260.5 10.3L257.0 9.7L259.7 8.8L263.1 8.0L258.8 7.3M236.1 13.8L237.8 14.9L234.3 15.8L232.6 14.9M467.0 81.9L468.1 83.0L468.7 83.7L470.0 84.0L471.3 84.4L472.2 85.4L473.5 86.3M463.7 79.3L465.2 80.4L465.6 81.2L464.9 80.0L463.7 79.3ZM477.5 90.0L478.1 90.8L479.0 92.3M486.8 92.3L488.0 92.4L487.7 92.9L486.9 92.8L486.8 92.3ZM437.1 65.4L438.0 65.6L438.0 66.4L437.5 66.3L437.1 65.4ZM440.7 67.2L441.3 67.3L441.4 68.3L440.9 68.2L440.7 67.2ZM442.1 79.8L443.1 80.0L442.8 80.4L442.1 80.1L442.1 79.8ZM424.0 78.5L425.0 79.2L425.1 79.7L424.3 79.0L424.0 78.5ZM435.9 85.3L437.5 85.6L436.8 86.0L435.9 85.6L435.9 85.3ZM360.3 46.7L362.2 46.1L361.6 46.9L360.5 46.9L360.3 46.7ZM352.7 46.2L355.0 46.5L353.5 46.7L352.7 46.2ZM343.0 44.0L345.7 43.9L345.4 45.2L343.1 44.4L343.0 44.0ZM339.3 41.5L340.6 41.4L340.5 43.0L339.5 43.2L339.3 41.5ZM339.7 40.0L340.4 39.8L340.3 41.0L339.8 40.8L339.7 40.0ZM378.7 66.1L379.7 66.2L379.0 66.4L378.7 66.1ZM366.3 82.1L366.6 82.6L366.4 82.7L366.3 82.1ZM272.2 122.8L270.6 123.6L269.7 124.0M267.5 113.4L267.9 114.0L267.5 114.8L267.2 114.0L267.5 113.4ZM252.2 77.3L252.8 77.5L252.5 78.0L252.2 77.3ZM278.1 67.8L278.9 67.7L278.9 68.3L278.1 68.3L278.1 67.8ZM263.6 54.0L264.5 54.2L264.7 55.3L264.0 55.8M194.0 58.4L194.5 58.6L195.5 59.0M175.0 150.3L185.0 150.6L196.0 150.9M288.0 147.6L291.0 148.3L294.0 147.6L291.0 147.2L288.0 147.6ZM303.0 147.0L314.0 147.0" fill="none" stroke="#000" stroke-width="1.1" stroke-linejoin="round"/></g>
<g clip-path="url(#cb)"><rect x="0" y="181.2" width="314.5" height="154.6" fill="#12447f"/><g fill-rule="evenodd"><path fill="#2065ab" d="M197 196.2l2.7-2.7 2.6 2.7-2.6 2.6zM141.5 201.1l3.3-3.2 5-.8 5-.5 4.9-.2 5 2.8 2 1.9-2 2-.9 3-.3 5 1.2 .8 4.2 4.2 .8 1.2 4.3 3.8-.3 5 1 1.1 3.2 3.9-3.2 3.1-1.2 1.9-3.8 3.7-5 .5-5-.5-3.7-3.7-1.2-1.9-5-.2-2.9-2.9 0-5 2.9-3.7 1-1.3-1-.7-3.8-4.3 3.8-4.3 5-.2 .6-.5-.6-.5-5-.2-5-.5-3.8-3.8zM136.5 216.1l3.3-3.2 3.2 3.2 0 5-3.2 3.2-3.3-3.2zM81 300.9l3.9-3.9 3.9 3.9-3.9 3.9z"/><path fill="#2e77b5" d="M199.4 196.2l.3-.3 .3 .3-.3 .3zM143.3 201.1l1.5-1.5 5-1.6 5-1.1 4.9-.3 5 4.5-1.8 5-.6 5 2.4 1.7 3.4 3.3 1.6 2.4 3 2.6-1.1 5 3.1 3.3 1.4 1.7-1.4 1.3-2.5 3.7-2.5 2.5-5 .9-5-.9-2.5-2.5-2.4-3.7-5-.5-.8-.8 0-5 .8-1 2.5 1 2.5 1.6 4.9-1.3 .3-.3-.3-.4-4.9-1.1-1.9-3.5-3.1-2.1-2.6-2.9 2.6-2.9 5-.5 2-1.6-2-1.5-5-.5-5-.4-2.6-2.6zM138.3 216.1l1.5-1.5 1.5 1.5 0 5-1.5 1.5-1.5-1.5zM82 300.9l2.9-2.8 2.8 2.8-2.8 2.8z"/><path fill="#3c8abe" d="M145 201.1l4.8-2.2 5-1.6 4.9-.5 4.7 4.3-2.4 5-.9 5 3.6 2.5 2.6 2.5 2.4 3.6 1.6 1.4-1.6 4.5-.1 .5 .1 .1 4.8 4.9-3.5 5-1.3 1.2-5 1.4-5-1.4-1.2-1.2-3.5-5 4.7-4 1-1-1-1.5-4.8-3.5-.1-.3-5-3.1-1.4-1.6 1.4-1.5 5-.9 3.4-2.6-3.4-2.5-5-.9-5-.2-1.4-1.4 1.4-4.5zM83.1 300.9l1.8-1.8 1.7 1.8-1.7 1.7z"/><path fill="#529dc8" d="M147 201.1l2.8-1.2 5-2.2 4.9-.7 4.5 4.1-3.2 5-1.1 5 4.8 3.3 1.8 1.7 3.2 4.8 .2 .2-.2 .5-1 4.5 1 1 3.9 4-3.9 5-5 1.9-5-1.9-3.9-5 3.9-3.3 1.8-1.7-1.8-2.6-3.2-2.4-1.7-2.2-5-2.6-.2-.2 .2-.2 5-1.2 4.8-3.6-4.8-3.6-5-1.2-5 0-.2-.2 .2-.5zM84.2 300.9l.7-.7 .6 .7-.6 .7z"/><path fill="#71b0d3" d="M149 201.1l.8-.3 5-2.7 4.9-.9 4.3 3.9-3.9 5-.4 1.5-4.9-1.1-1.5-.4-3.5-3.5zM153.3 216.1l1.5-.4 4.9-4.3 5 3.8 1 .9 3.8 5-1.7 5 1.9 1.9 3.1 3.1-3.1 3.8-2 1.2-3 1.1-3-1.1-2-1.2-3-3.8 3-2.6 2.5-2.4-2.5-3.8-1.7-1.2-3.2-4.2z"/><path fill="#90c4dd" d="M150.2 201.1l4.6-2.6 4.9-1.1 4.1 3.7-4.1 4.9-4.9-.3zM154.9 216.1l4.8-4.5 5 4.4 .1 .1 4.4 5-2.2 5 2.7 2.8 2.2 2.2-2.2 2.7-4 2.3-1 .3-1-.3-4-2.3-2.1-2.7 2.1-1.8 3.2-3.2-3.2-4.9-.1-.1z"/><path fill="#acd2e5" d="M150.9 201.1l3.9-2.2 4.9-1.3 3.8 3.5-3.8 4.6-4.9-.7zM155.2 216.1l4.5-4.2 4.8 4.2 .2 .3 4.3 4.7-2.9 5 3.6 3.6 1.3 1.4-1.3 1.6-5 3.2-5-3.2-1.3-1.6 1.3-1.1 3.9-3.9-3.6-5-.3-.3z"/><path fill="#c5dfec" d="M151.5 201.1l3.3-1.8 4.9-1.5 3.6 3.3-3.6 4.3-4.9-1zM155.5 216.1l4.2-4 4.5 4 .5 .6 4 4.4-3.5 5 4.5 4.5 .5 .5-.5 .5-5 3.9-5-3.9-.4-.5 .4-.4 4.7-4.6-4.1-5-.6-.5z"/><path fill="#d8e9f1" d="M152.2 201.1l2.6-1.4 4.9-1.7 3.4 3.1-3.4 4.1-4.9-1.5zM155.8 216.1l3.9-3.7 4.2 3.7 .8 .8 3.8 4.2-3.8 4.8-4.1-4.8-.9-.8zM159.9 231.1l4.8-4.8 4.8 4.8-4.8 4.1z"/><path fill="#e7f0f4" d="M152.9 201.1l1.9-1 4.9-1.9 3.2 2.9-3.2 3.8-4.9-1.9zM156 216.1l3.7-3.4 3.9 3.4 1.1 1.1 3.5 3.9-3.5 4.5-3.8-4.5-1.2-1.1zM160.3 231.1l4.4-4.4 4.4 4.4-4.4 3.8z"/><path fill="#f7f6f6" d="M153.6 201.1l1.2-.6 4.9-2.1 2.9 2.7-2.9 3.5-4.9-2.3zM156.3 216.1l3.4-3.2 3.6 3.2 1.4 1.4 3.2 3.6-3.2 4.1-3.5-4.1-1.5-1.4zM160.7 231.1l4-4 4 4-4 3.4z"/><path fill="#f9ebe3" d="M154.2 201.1l.6-.2 4.9-2.2 2.7 2.4-2.7 3.3-4.9-2.7zM156.6 216.1l3.1-2.9 3.3 2.9 1.7 1.7 3 3.3-3 3.8-3.2-3.8-1.8-1.7zM161.1 231.1l3.6-3.6 3.6 3.6-3.6 3.1z"/><path fill="#fce0d0" d="M154.9 201.1l4.8-2.2 2.5 2.2-2.5 3zM156.9 216.1l2.8-2.7 3 2.7 2 2 2.7 3-2.7 3.5-2.9-3.5-2.1-2zM161.5 231.1l3.2-3.2 3.2 3.2-3.2 2.7z"/><path fill="#fbd0b9" d="M155.3 201.1l4.4-2 2.3 2-2.3 2.7zM157.2 216.1l2.5-2.4 2.7 2.4 2.3 2.3 2.5 2.7-2.5 3.1-2.7-3.1-2.3-2.3zM161.9 231.1l2.8-2.8 2.8 2.8-2.8 2.4z"/><path fill="#f8bb9e" d="M155.8 201.1l3.9-1.8 2.1 1.8-2.1 2.5zM157.4 216.1l2.3-2.1 2.5 2.1-2.5 2.4zM162.3 221.1l2.4-2.4 2.2 2.4-2.2 2.8zM162.3 231.1l2.4-2.4 2.4 2.4-2.4 2z"/><path fill="#f3a481" d="M156.2 201.1l3.5-1.6 1.8 1.6-1.8 2.2zM157.7 216.1l2-1.9 2.2 1.9-2.2 2.1zM162.6 221.1l2.1-2.1 1.9 2.1-1.9 2.4zM162.7 231.1l2-2 2 2-2 1.7z"/><path fill="#e8896c" d="M156.6 201.1l3.1-1.4 1.6 1.4-1.6 1.9zM158 216.1l1.7-1.6 1.9 1.6-1.9 1.8zM162.9 221.1l1.8-1.8 1.7 1.8-1.7 2.1zM163.1 231.1l1.6-1.6 1.6 1.6-1.6 1.3z"/><path fill="#dc6e57" d="M157.1 201.1l2.6-1.2 1.4 1.2-1.4 1.7zM158.3 216.1l1.4-1.4 1.6 1.4-1.6 1.5zM163.2 221.1l1.5-1.5 1.4 1.5-1.4 1.8zM163.5 231.1l1.2-1.2 1.2 1.2-1.2 1z"/><path fill="#cf5246" d="M157.5 201.1l2.2-1 1.2 1-1.2 1.4zM158.6 216.1l1.1-1.1 1.3 1.1-1.3 1.2zM163.5 221.1l1.2-1.2 1.1 1.2-1.1 1.4zM163.9 231.1l.8-.8 .8 .8-.8 .7z"/><path fill="#bf3338" d="M158 201.1l1.7-.8 .9 .8-.9 1.1zM158.8 216.1l.9-.8 1 .8-1 1zM163.8 221.1l.9-.9 .9 .9-.9 1.1zM164.3 231.1l.4-.4 .4 .4-.4 .3z"/><path fill="#b1182b" d="M158.4 201.1l1.3-.6 .7 .6-.7 .9zM159.1 216.1l.6-.6 .7 .6-.7 .7zM164.1 221.1l.6-.7 .6 .7-.6 .8z"/><path fill="#930e26" d="M158.9 201.1l.8-.4 .5 .4-.5 .6zM159.4 216.1l.3-.3 .4 .3-.4 .4zM164.4 221.1l.3-.4 .4 .4-.4 .4z"/><path fill="#760521" d="M159.3 201.1l.4-.2 .3 .2-.3 .3zM159.7 216.1l0-.1 .1 .1-.1 .1zM164.7 221.1l0-.1 .1 .1-.1 .1z"/><path fill="#0a3b70" d="M0 181.2l5 0 5 0 5 0 5 0 5 0 5 0 4.9 0 5 0 5 0 5 0 5 0 5 0 5 0 5 0 5 0 5 0 5 0 5 0 4.9 0 5 0 5 0 5 0 5 0 5 0 5 0 5 0 5 0 5 0 5 0 5 0 5 0 4.9 0 5 0 5 0 5 0 5 0 5 0 5 0 5 0 5 0 5 0 5 0 5 0 5 0 4.9 0 5 0 5 0 5 0 5 0 5 0 5 0 5 0 5 0 5 0 5 0 5 0 4.9 0 5 0 5 0 5 0 5 0 5 0 5 0 0 5 0 5 0 5 0 4.9 0 5 0 5 0 5 0 5 0 5 0 5 0 5 0 4.9 0 5 0 5 0 5 0 5 0 5 0 5 0 5 0 4.9 0 5 0 5 0 5 0 5 0 5 0 5 0 5 0 4.9 0 5 0 5 0 5-5 0-5 0-5 0-5 0-5 0-5 0-4.9 0-5 0-5 0-5 0-5 0-5 0-5 0-5 0-5 0-5 0-5 0-5 0-4.9 0-5 0-5 0-5 0-5 0-5 0-5 0-5 0-5 0-5 0-5 0-5 0-5 0-4.9 0-5 0-5 0-5 0-5 0-5 0-5 0-5 0-5 0-5 0-5 0-5 0-5 0-4.9 0-5 0-5 0-5 0-5 0-5 0-5 0-5 0-5 0-5 0-5 0-5 0-4.9 0-5 0-5 0-5 0-5 0-5 0-5 0 0-5 0-5 0-5 0-4.9 0-5 0-5 0-5 0-5 0-5 0-5 0-5 0-4.9 0-5 0-5 0-5 0-5 0-5 0-5 0-5 0-4.9 0-5 0-5 0-5 0-5 0-5 0-5 0-5 0-4.9 0-5 0-5zM84.9 295.9l-5 5 5 5 5-5zM139.8 211.1l-5 5 0 5 5 5 5-5 0-5zM144.8 196.2l-5 4.9 0 5 5 5 0 5 0 5 0 5 0 5 5 5 5 0 4.9 4.9 5 0 5 0 5-4.9 5-5 0-5 0-5-5-5-5 0-5-5 0-5 5-5-5-4.9-5 0-4.9 0-5 0zM199.7 191.2l-5 5 5 4.9 5-4.9z"/></g><circle cx="109.6" cy="221.4" r="0.8" fill="#2c6fb0"/><circle cx="180" cy="306.6" r="0.8" fill="#3a80bb"/><path d="M10.6 200.3L12.0 197.8L15.1 196.2L20.9 194.8L26.6 195.4L34.6 196.1L39.9 196.7L46.1 195.9L48.8 196.4L53.2 196.6L57.7 197.8L62.1 197.9L63.9 199.1L69.2 198.2L72.8 198.2L74.5 198.7L76.3 197.3L75.9 194.8L78.1 196.9L79.9 197.8L81.6 198.7L83.4 198.2L87.0 196.9L87.4 197.8L85.2 199.1L83.4 199.7L82.5 200.9L79.9 201.8L77.2 203.5L75.9 205.3L75.9 206.5L77.7 208.0L79.9 208.0L84.3 209.5L86.7 209.7L87.0 211.5L87.9 212.8L89.2 213.0L89.8 212.0L89.2 210.2L91.4 208.9L91.9 207.5L90.1 206.4L91.0 204.9L90.5 203.3L94.1 203.3L97.6 204.4L98.1 206.2L99.4 206.8L101.6 205.7L102.5 205.0L104.7 207.5L106.5 209.3L108.7 210.6L110.2 212.0L109.2 212.8L106.5 214.0L102.1 214.0L100.3 214.8L97.6 216.4L96.7 217.0L100.3 215.2L102.5 215.1L102.5 215.9L102.1 216.8L102.9 217.5L105.6 218.2L103.4 219.0L101.2 219.9L101.2 218.8L102.5 218.2L100.3 218.6L98.5 219.5L97.2 220.4L97.2 221.4L97.6 221.5L95.8 222.0L94.1 222.5L94.1 223.5L92.7 224.4L92.3 225.7L92.5 227.0L91.4 227.9L89.6 229.0L87.9 230.6L87.6 231.9L88.6 234.6L88.6 236.1L87.7 236.2L86.4 233.9L86.4 232.8L85.2 231.9L83.9 232.2L82.1 231.6L80.3 231.7L80.6 232.7L79.0 232.5L76.3 232.3L75.0 233.1L73.4 234.1L73.4 235.9L73.0 238.6L73.7 240.3L74.5 241.7L75.9 242.4L78.1 242.0L79.3 241.2L79.6 239.9L81.6 239.4L82.5 239.6L82.1 241.2L81.5 242.7L80.9 244.4L83.4 244.5L85.8 245.2L85.6 247.4L85.5 248.7L86.5 250.3L87.9 250.7L89.2 250.1L91.0 250.8L92.3 250.1L93.2 248.9L95.0 248.3L96.3 247.5L96.3 248.7L95.8 249.6L97.6 247.7L99.4 248.7L101.2 249.1L102.9 249.2L104.7 249.0L105.6 250.1L106.5 251.0L108.3 252.5L110.0 253.3L111.8 253.4L113.6 254.2L114.5 255.4L115.4 256.9L115.4 258.5L116.7 258.9L118.0 259.1L120.3 260.7L122.5 261.0L124.2 261.1L126.5 262.5L128.5 263.2L128.9 265.1L128.2 266.9L126.9 268.7L125.6 270.0L125.1 272.2L125.0 274.5L124.2 276.2L123.4 278.0L122.5 278.9L120.3 279.2L118.5 280.0L116.7 281.6L116.5 283.8L114.9 286.0L113.4 287.3L112.3 288.6L110.9 289.5L109.2 289.1L107.9 288.6L109.0 290.0L109.4 290.9L108.4 292.4L104.7 293.1L104.5 294.7L102.1 294.9L102.7 296.2L101.8 298.0L99.8 299.3L101.3 300.6L99.4 302.8L98.5 304.2L99.0 305.0L99.0 305.5L100.3 306.8L101.9 307.1L100.3 307.7L97.6 307.4L95.8 306.4L94.1 305.0L92.9 302.8L92.7 300.2L93.6 298.4L94.5 295.7L94.3 293.5L94.7 291.3L95.4 289.5L96.3 286.9L96.4 284.2L96.9 281.6L97.4 278.0L97.4 274.7L95.8 273.6L93.2 272.1L92.0 270.5L91.0 268.7L89.8 266.0L88.7 264.3L87.6 262.9L87.9 261.6L88.7 260.7L88.0 259.4L88.7 258.1L89.6 257.2L90.5 256.3L91.2 255.0L91.0 253.2L91.0 252.1L90.3 251.4L89.2 250.5L88.3 251.2L88.5 251.9L87.4 251.6L86.1 251.1L85.5 250.5L84.3 249.6L83.6 248.8L82.5 247.4L81.9 246.7L80.3 246.5L79.0 246.1L77.2 244.8L75.9 244.1L74.5 244.6L72.8 244.0L71.0 243.4L69.2 242.5L67.4 241.7L66.1 240.5L66.3 239.3L65.7 238.1L63.9 236.3L62.6 235.0L61.2 233.7L59.9 232.3L59.5 231.0L57.9 230.4L58.1 231.9L59.5 233.2L60.3 234.6L61.2 235.9L61.9 237.2L62.6 238.1L62.1 238.2L60.8 236.8L60.2 235.4L58.6 234.1L58.3 233.2L57.2 232.1L56.4 230.6L55.7 229.5L54.6 228.4L52.8 227.9L51.7 226.1L51.0 225.0L49.9 223.5L49.4 222.6L49.5 220.8L49.7 219.0L49.7 217.5L49.1 215.6L50.6 215.7L51.0 216.6L51.0 215.1L49.7 214.2L47.0 213.3L46.1 212.0L44.4 210.6L43.5 209.3L41.3 207.5L39.0 206.6L37.3 205.9L35.5 205.5L31.9 205.3L30.2 204.6L28.4 205.0L26.6 205.7L25.1 206.0L25.7 204.9L26.6 204.2L24.8 204.9L23.5 205.9L22.6 207.1L20.9 208.0L19.1 208.9L16.9 209.6L15.1 210.0L13.5 210.2L15.5 209.3L17.3 208.9L19.1 207.5L20.1 206.5L19.1 206.4L17.7 206.5L16.0 206.2L16.0 205.3L13.8 204.9L12.9 204.0L13.3 202.8L15.1 202.5L16.9 202.0L16.9 201.3L15.1 201.3L12.4 201.1L10.6 200.3ZM95.4 189.1L98.5 190.2L96.7 190.9L100.7 191.3L106.5 191.1L108.3 192.0L110.5 194.2L111.4 196.0L114.5 196.9L112.3 197.8L112.7 199.5L113.6 201.3L115.4 203.1L116.7 204.4L118.9 204.9L121.1 205.4L122.0 204.0L123.4 202.2L124.2 200.9L126.9 200.2L130.5 198.7L135.8 197.8L138.9 196.4L140.2 196.0L138.4 194.7L140.2 193.3L142.0 192.0L142.9 190.2L142.0 188.5L144.7 187.6L149.1 186.2L142.0 185.8L136.7 185.1L130.5 184.4L124.2 184.6L117.1 185.4L110.9 185.5L105.6 186.0L102.1 186.9L99.4 187.6L101.2 188.0L95.4 189.1ZM105.2 199.5L102.9 200.9L100.3 202.6L102.1 203.5L100.7 203.6L99.0 203.1L96.3 202.2L94.5 201.3L91.0 201.5L90.5 200.9L94.1 200.4L94.5 199.1L95.4 198.2L92.3 197.3L89.6 196.4L85.2 196.4L81.6 195.6L79.9 194.2L80.8 193.2L84.3 193.2L87.9 193.3L90.5 193.9L93.6 194.7L96.7 195.6L99.4 196.2L100.3 197.3L102.9 198.5L105.2 199.5ZM56.8 196.9L59.5 197.8L63.9 197.6L66.6 197.3L69.7 196.6L67.0 195.6L66.6 193.8L63.5 193.5L60.3 194.0L57.7 193.3L54.6 194.2L55.9 195.1L54.1 195.1L55.9 196.0L56.8 196.9ZM48.8 194.7L50.6 195.4L53.2 195.1L55.5 193.8L57.2 192.9L55.5 192.6L51.9 192.4L49.3 193.2L48.8 194.7ZM88.7 190.9L90.5 190.2L92.7 188.6L96.7 188.0L101.2 186.9L104.7 185.8L102.9 185.1L95.8 184.8L88.7 184.9L82.5 185.6L79.0 186.2L83.4 187.1L82.5 188.0L84.3 188.9L81.6 189.5L80.8 190.7L85.2 190.8L88.7 190.9ZM88.7 191.5L87.0 192.4L81.6 192.4L78.1 192.2L78.1 190.9L80.8 190.9L84.3 191.4L88.7 191.5ZM56.8 192.0L60.3 192.4L64.8 192.1L65.7 191.3L63.0 190.7L59.5 190.9L55.9 191.1L56.8 192.0ZM75.0 194.5L79.4 194.0L79.9 193.0L75.4 192.9L75.0 194.5ZM69.2 195.1L72.8 195.1L73.7 193.8L71.0 192.9L69.2 193.8L69.2 195.1ZM75.4 189.2L81.6 189.1L82.5 188.0L78.1 186.5L74.5 187.6L75.4 189.2ZM82.5 202.0L85.2 202.6L87.9 202.2L87.9 201.3L84.3 200.2L82.5 200.6L82.5 202.0ZM107.1 216.2L110.0 216.9L112.7 217.1L113.0 216.2L112.3 215.1L110.2 214.3L110.5 212.8L109.2 213.3L108.3 214.6L107.1 216.2ZM84.4 239.1L86.1 238.1L88.3 238.0L91.4 239.2L93.9 240.6L90.8 240.9L90.1 239.9L87.4 238.9L84.4 239.1ZM93.7 242.1L95.4 240.9L97.6 240.9L99.0 242.0L97.2 242.4L96.1 242.8L93.7 242.1ZM90.3 242.3L92.0 242.4L91.4 242.7L90.3 242.3ZM100.1 242.2L101.4 242.3L101.2 242.6L100.1 242.2ZM45.9 213.5L48.5 214.0L50.1 215.5L48.8 215.2L45.9 213.5ZM138.2 200.4L140.2 199.6L143.8 200.0L146.7 199.7L147.7 200.9L146.4 201.5L143.3 202.3L139.8 201.8L140.2 201.3L138.4 201.0L139.8 200.5L138.2 200.4ZM154.5 226.8L158.0 227.3L159.7 226.8L162.4 225.9L166.8 225.7L168.6 225.4L169.5 225.7L168.8 226.6L169.3 227.9L168.6 228.4L169.5 229.1L170.8 229.4L173.1 229.9L173.9 230.8L175.7 231.5L177.1 231.5L177.5 230.6L177.9 229.6L179.3 229.3L180.6 230.0L181.9 230.4L183.7 230.7L185.5 231.1L187.3 230.6L188.4 230.8L188.7 232.1L189.2 233.2L189.9 235.0L190.8 236.8L191.4 238.1L192.5 239.4L192.8 241.2L193.9 242.5L194.8 244.8L196.1 245.6L197.5 247.0L198.2 247.4L198.2 248.3L199.2 249.2L201.5 248.6L203.2 248.5L205.2 248.0L204.8 249.6L203.9 251.9L202.3 254.5L200.6 256.3L198.8 257.6L197.0 259.4L195.7 260.7L194.8 262.5L194.2 264.3L194.8 265.6L194.8 267.4L195.7 268.3L195.8 271.4L195.2 272.7L193.0 274.0L191.7 275.3L190.6 276.2L191.3 278.0L191.3 279.8L189.0 281.1L188.9 282.9L187.7 284.5L186.4 286.3L184.6 287.6L182.8 288.5L180.2 288.6L177.5 289.4L176.1 288.8L175.9 287.3L175.0 285.1L173.9 283.3L173.1 281.6L172.6 278.9L171.7 276.7L170.4 274.5L170.2 272.7L171.3 270.0L172.0 268.3L171.3 266.5L170.7 263.8L169.5 262.0L168.2 260.7L167.7 258.9L168.2 257.6L168.4 255.8L167.7 254.7L166.0 254.6L164.6 253.6L163.7 252.9L161.5 252.9L159.7 253.4L158.0 254.2L156.2 253.9L153.1 254.6L151.8 254.1L150.0 252.6L148.7 251.9L147.8 250.1L146.4 248.7L144.9 247.4L144.2 245.5L145.1 244.3L145.3 241.7L144.7 239.9L145.5 237.7L146.9 235.4L148.2 233.9L150.0 233.0L151.0 232.1L151.0 230.6L152.2 229.0L153.7 228.3L154.5 226.8ZM203.5 269.1L204.6 272.2L203.7 273.6L202.8 276.2L201.9 278.9L201.5 280.7L199.9 281.1L198.8 280.7L198.4 278.4L199.1 276.2L198.8 274.0L200.1 272.7L201.9 271.4L203.5 269.1ZM154.8 226.6L155.8 226.0L158.0 225.9L159.3 224.8L159.7 223.9L159.5 223.5L160.5 222.1L162.6 221.4L162.6 220.2L163.7 220.0L165.5 220.3L166.4 219.7L167.7 219.2L168.9 219.9L169.5 220.9L170.8 221.8L172.2 222.3L173.5 223.0L173.9 224.1L173.7 224.8L174.4 224.5L174.8 223.9L174.5 222.9L176.1 223.0L176.1 222.6L174.5 222.0L173.9 221.4L173.1 221.3L172.2 220.6L171.7 219.8L170.8 219.2L170.7 218.3L171.9 218.0L171.8 218.6L172.6 218.4L173.3 219.3L174.4 219.9L175.7 220.7L177.0 221.4L177.0 222.8L177.9 223.9L178.6 225.0L179.0 225.9L180.0 226.1L180.2 225.3L181.0 225.1L180.4 224.5L180.0 223.5L179.9 222.7L180.9 223.0L181.3 222.4L182.8 222.3L184.2 222.1L185.4 222.1L184.6 221.4L184.4 220.6L185.0 219.8L185.2 219.0L186.1 218.3L186.8 217.5L187.7 217.1L188.6 217.6L189.5 217.7L188.6 218.2L189.5 219.0L191.1 218.6L192.1 218.3L190.8 217.9L190.8 217.5L192.8 216.8L194.5 216.7L193.5 217.5L193.0 218.3L192.6 218.6L193.9 219.2L195.2 220.0L196.6 220.8L196.6 221.7L195.2 222.1L193.5 222.1L192.1 221.9L190.8 221.3L189.0 221.3L187.7 222.0L185.7 222.0L185.5 222.4L183.7 222.7L183.0 223.0L183.5 224.1L184.0 225.7L184.8 226.0L185.9 226.4L187.0 225.9L188.6 226.5L189.9 226.2L191.7 225.9L191.7 227.0L191.5 227.9L191.0 229.2L190.5 230.3L190.1 230.7L189.0 230.9L188.5 230.8L188.7 232.0L189.3 233.2L190.1 233.9L190.6 232.3L190.8 233.7L192.1 235.4L193.0 237.0L194.4 239.0L194.5 240.3L195.7 241.7L197.0 243.4L197.7 245.2L198.2 247.2L199.7 247.2L202.3 246.1L204.1 245.2L206.1 244.0L207.7 243.4L208.8 242.8L209.9 241.8L211.0 241.2L211.0 240.3L211.9 239.9L212.8 238.6L211.7 237.5L210.2 236.8L209.8 235.3L209.4 235.9L208.1 237.0L205.9 237.2L205.0 236.7L205.5 235.6L205.0 235.4L204.7 236.3L204.3 235.4L204.1 234.8L203.1 233.7L202.3 232.3L202.8 231.9L203.7 231.8L204.8 232.8L205.9 234.1L207.7 234.9L209.7 234.5L210.5 235.6L212.1 236.0L214.3 236.2L216.5 236.1L218.8 236.0L219.5 236.8L220.3 237.6L221.4 238.6L220.9 238.7L222.1 240.1L223.6 239.9L224.2 238.8L224.4 239.9L224.4 241.7L224.8 243.4L225.4 245.2L226.1 247.0L227.0 248.5L227.6 250.1L228.5 251.3L229.1 250.6L229.9 250.3L230.6 249.4L230.7 247.9L231.0 246.5L230.7 244.8L231.6 244.1L232.8 243.7L233.9 242.7L235.2 241.4L236.5 240.6L237.0 239.6L238.3 239.3L239.6 239.0L240.5 238.6L241.2 238.7L241.6 239.9L242.1 240.8L243.2 242.1L243.6 243.4L243.4 244.3L244.5 244.5L245.8 243.6L246.5 244.3L246.5 245.6L247.2 247.4L247.3 249.2L247.0 250.5L247.0 251.4L248.1 252.5L248.8 253.4L249.2 255.0L249.8 256.1L251.4 257.3L252.2 257.3L251.6 256.0L251.5 255.0L250.7 253.6L250.3 252.9L249.4 252.4L248.7 251.0L247.9 250.3L248.3 248.7L248.5 247.4L248.9 246.5L249.4 247.2L250.5 247.7L251.2 248.7L252.5 249.2L252.9 250.5L253.1 250.8L254.4 249.4L255.0 249.2L256.5 248.3L256.7 247.0L256.5 245.2L255.6 244.0L254.5 243.0L253.6 241.7L254.4 240.3L255.6 239.4L256.9 239.4L257.4 240.4L257.8 239.7L258.7 239.4L260.0 239.0L261.2 238.6L262.7 238.1L264.0 237.2L265.4 236.1L266.1 235.0L267.1 233.4L268.0 231.9L267.3 231.5L267.9 230.6L267.0 229.7L266.5 228.1L265.6 227.5L266.5 226.5L268.5 225.8L267.1 225.1L265.4 225.5L264.3 224.3L265.2 223.7L267.1 222.3L267.8 223.9L270.0 223.1L270.9 224.2L270.5 224.8L271.8 225.7L272.0 227.0L271.8 227.9L272.9 227.7L274.4 227.3L274.7 225.7L273.8 224.4L272.9 223.3L274.9 221.7L275.8 220.9L277.8 220.6L280.0 219.2L281.8 217.7L284.0 215.7L284.4 213.7L285.1 211.7L284.4 211.1L283.1 210.6L281.8 210.6L280.4 210.2L282.2 208.4L284.4 207.1L286.7 205.9L290.2 205.8L292.9 205.7L294.6 206.2L297.3 205.9L298.8 204.0L301.7 203.7L304.4 203.1L304.4 204.4L301.7 206.2L299.1 207.5L297.7 209.7L298.6 212.4L298.8 213.3L300.4 211.5L301.7 210.2L303.5 209.7L304.0 208.7L304.7 207.3L304.0 207.1L305.3 205.5L307.1 205.1L310.6 205.3L312.4 204.4L314.6 203.7L316.8 203.1L319.0 203.1L318.6 201.5L317.7 201.1L319.5 200.9M319.5 197.4L315.9 196.7L311.5 196.4L310.6 197.3L308.0 196.9L303.5 196.8L301.7 196.2L299.1 195.6L294.6 195.6L292.9 195.1L289.3 194.4L284.9 194.0L283.5 195.1L280.4 195.1L277.8 195.3L275.1 195.7L274.2 194.2L272.5 193.5L268.9 193.8L265.4 193.8L260.9 193.2L260.5 192.0L256.5 192.9L254.7 190.7L252.0 189.6L248.5 190.9L244.1 191.3L237.8 191.7L236.5 192.9L231.6 193.3L231.2 194.7L227.2 194.0L225.9 194.0L224.5 195.1L225.0 197.3L224.1 199.5L222.8 199.5L223.6 197.8L221.9 193.5L219.2 195.6L219.2 197.3L221.0 197.9L217.4 197.1L213.4 196.6L212.1 197.5L208.1 197.9L207.2 197.5L202.3 198.6L200.6 197.9L199.1 197.8L198.8 199.5L197.0 199.6L195.2 201.1L193.5 201.6L190.8 201.5L190.6 200.2L189.0 199.4L190.8 199.3L195.7 199.5L196.1 198.7L193.5 197.9L189.0 196.9L186.4 196.6L184.6 195.6L181.9 195.5L179.3 196.2L176.6 196.6L173.9 197.6L172.6 198.7L171.3 200.0L170.0 201.0L168.2 202.2L166.0 202.8L164.4 203.5L164.2 204.9L164.6 206.2L166.0 207.1L167.3 206.8L169.1 206.0L169.5 206.2L170.0 207.1L170.8 208.4L171.1 209.3L172.4 209.3L173.9 208.7L174.6 207.5L176.2 205.9L175.7 204.9L175.1 204.0L175.7 202.8L177.9 201.9L178.8 200.9L181.0 200.2L182.2 200.9L181.5 201.8L179.3 202.6L178.6 204.0L179.3 205.0L180.2 205.4L182.8 204.9L185.0 204.9L186.4 205.4L184.6 205.7L181.5 205.8L180.6 206.4L181.3 206.9L181.3 207.7L179.3 207.4L178.4 208.1L178.4 209.5L177.3 210.3L176.2 210.0L174.4 210.2L172.3 210.7L170.4 210.4L169.5 210.6L168.6 210.2L168.6 209.3L169.3 208.4L169.1 207.4L167.1 208.0L167.0 208.9L167.3 209.5L167.5 210.6L166.0 211.1L164.2 211.2L163.6 212.4L162.9 212.9L161.3 213.3L161.1 214.0L159.9 214.5L158.7 214.5L158.2 215.3L155.7 215.5L155.9 216.1L157.7 216.7L158.7 217.7L158.6 219.0L158.1 220.0L156.2 219.9L152.6 219.8L151.6 220.4L151.9 221.3L151.9 222.6L151.3 224.2L151.9 224.5L151.8 225.7L153.1 225.6L154.1 226.0L154.8 226.6M0.0 200.9L1.8 200.4L3.5 201.0L6.2 201.5L6.8 200.7L8.9 200.0L8.0 199.1L4.4 198.7L1.8 197.8L0.0 197.4M201.5 218.2L203.2 217.3L205.0 217.0L206.8 217.3L206.8 218.6L205.0 219.0L204.6 219.9L205.7 220.8L206.5 221.7L207.7 222.1L206.8 223.0L207.5 224.4L207.5 225.7L205.9 225.9L204.6 225.5L203.2 225.1L203.2 223.9L203.7 222.6L202.8 221.4L201.9 220.4L201.5 219.0L201.5 218.2ZM154.7 214.1L156.6 213.9L158.9 213.5L160.9 213.2L160.6 212.8L161.3 211.8L160.0 211.5L159.8 211.0L159.6 210.4L158.4 209.6L157.8 208.9L157.3 208.5L158.0 207.4L156.6 207.3L156.2 207.4L156.9 206.5L155.3 206.5L154.4 207.5L154.9 208.4L154.7 209.3L155.5 209.7L156.6 209.8L157.1 210.7L156.9 211.2L155.8 211.2L155.9 212.0L155.1 212.6L156.8 212.9L157.1 213.1L155.9 213.2L154.7 214.1ZM150.9 212.7L152.6 212.7L154.2 212.2L154.4 211.1L154.7 210.2L154.0 209.6L152.5 209.6L152.1 210.3L150.9 210.4L151.3 211.3L150.9 212.2L150.9 212.7ZM169.5 188.0L173.9 190.4L179.3 189.3L183.7 187.6L177.5 187.1L169.5 188.0ZM205.5 195.6L208.6 195.8L210.8 195.1L209.0 193.5L211.2 192.4L215.7 191.3L220.5 190.4L218.3 190.2L211.2 191.1L208.1 192.9L205.9 194.4L205.5 195.6ZM244.9 188.5L248.5 189.3L252.0 188.5L248.5 187.1L244.1 186.7L244.9 188.5ZM281.3 191.6L285.8 192.0L289.3 191.7L292.9 191.8L288.4 191.1L282.2 191.1L281.3 191.6ZM202.3 187.3L207.7 187.6L213.0 187.1L214.8 186.7L209.4 186.1L202.3 187.0L202.3 187.3ZM318.2 195.6L319.5 195.6L319.5 195.1L318.2 195.6ZM285.8 217.7L287.1 217.0L286.7 215.1L288.0 215.1L286.9 212.8L286.7 211.1L286.4 210.4L285.8 211.1L285.6 212.8L285.8 215.1L285.8 217.7ZM284.0 221.7L285.3 220.8L286.9 221.3L288.9 220.1L288.4 219.3L285.8 218.2L285.3 219.9L284.3 220.2L284.0 221.7ZM284.9 221.8L285.8 223.5L284.9 224.8L284.9 226.6L284.0 227.5L282.9 227.7L281.3 227.8L280.3 228.8L279.6 227.8L277.8 228.1L276.0 228.4L276.0 227.7L277.3 227.0L280.0 226.9L281.2 225.8L281.6 225.3L282.7 225.3L283.8 223.9L284.0 222.6L284.9 221.8ZM275.1 228.8L276.7 228.7L276.4 230.6L275.6 231.0L275.1 229.7L274.9 229.1L275.1 228.8ZM277.3 228.5L279.1 228.2L278.9 228.8L277.8 229.4L277.3 228.5ZM267.6 236.2L267.8 236.8L267.0 239.0L266.4 238.1L267.1 236.3L267.6 236.2ZM256.2 241.5L257.8 240.8L258.3 241.1L256.9 242.4L256.2 241.5ZM230.7 249.8L231.8 251.0L232.3 252.0L231.6 253.0L230.9 253.2L230.5 251.4L230.7 249.8ZM266.7 242.1L268.2 242.1L268.0 243.9L267.6 244.8L268.0 246.1L269.8 247.0L269.6 247.2L268.5 246.4L267.1 246.4L266.4 245.4L266.2 244.1L266.7 242.1ZM268.0 252.3L269.3 251.0L271.1 249.9L272.0 251.9L271.1 253.2L269.8 252.7L268.0 252.3ZM270.1 247.4L271.1 247.6L271.1 248.7L270.5 249.5L270.1 248.5L270.1 247.4ZM268.0 248.0L268.9 248.3L269.2 249.6L268.5 250.1L268.0 249.2L268.0 248.0ZM263.8 251.0L265.8 248.5L265.5 249.4L264.0 251.1L263.8 251.0ZM256.5 257.2L257.4 257.0L258.5 256.3L260.0 255.7L261.4 254.2L262.7 252.5L263.8 252.3L265.4 253.8L264.5 254.7L264.2 255.4L264.5 256.5L265.4 257.6L264.0 258.1L264.0 259.2L263.1 260.5L262.7 261.9L261.4 262.0L260.0 261.3L258.7 261.4L257.5 261.0L257.4 259.7L256.5 258.8L256.5 257.2ZM244.3 253.5L246.3 253.9L248.5 255.8L249.8 256.7L251.6 258.5L252.5 260.3L253.8 261.2L253.6 263.6L252.5 263.6L250.5 262.0L249.4 260.7L248.8 259.2L247.4 257.0L246.0 255.4L244.3 253.5ZM253.1 264.5L254.5 263.8L256.0 264.4L258.1 264.3L259.8 264.6L261.4 265.4L261.3 266.2L258.3 265.9L256.0 265.4L254.2 265.1L253.1 264.5ZM266.1 257.8L267.0 257.3L268.9 257.7L270.7 257.1L270.1 258.1L267.1 258.1L266.4 259.3L267.6 259.4L269.2 259.2L267.8 260.2L268.7 262.0L268.3 263.2L267.6 262.7L267.1 261.0L266.5 261.2L266.6 263.5L265.8 263.4L265.8 261.6L265.2 261.0L266.1 257.8ZM276.0 259.2L277.3 258.9L278.7 259.2L278.9 260.7L280.0 261.4L282.0 259.8L284.9 260.8L288.0 261.9L289.3 262.9L290.9 263.8L290.5 264.7L291.5 266.5L293.3 267.8L291.1 267.5L289.3 265.9L288.0 265.3L286.9 266.5L284.9 266.6L283.1 265.6L282.2 265.9L282.9 264.7L282.2 263.4L280.0 262.5L278.2 261.9L277.6 262.0L276.9 261.0L278.5 260.5L276.9 260.3L276.0 259.2ZM262.5 265.9L263.6 265.9L265.4 265.9L264.9 266.4L263.1 266.5L262.5 265.9ZM266.1 265.9L267.6 266.0L268.9 265.8L268.7 266.3L266.7 266.4L266.1 265.9ZM269.3 267.6L270.7 266.5L272.6 265.9L272.0 266.7L270.2 267.5L269.3 267.6ZM272.9 256.7L273.8 257.2L273.3 258.1L273.8 258.9L273.1 258.5L272.9 256.7ZM273.3 261.2L275.8 261.4L275.1 261.7L273.3 261.5L273.3 261.2ZM291.5 263.5L293.3 263.4L294.8 262.2L294.6 263.2L292.9 264.1L291.5 263.5ZM260.9 278.0L260.9 281.6L261.8 285.1L262.4 286.9L261.8 288.9L264.3 289.6L266.2 288.6L269.3 288.6L271.6 287.1L274.2 286.5L276.2 286.4L278.2 287.0L279.7 289.3L280.4 289.3L282.0 287.4L281.8 289.7L282.5 289.1L282.4 290.1L283.7 291.2L284.7 292.2L287.1 292.9L288.4 292.4L289.6 293.2L291.1 292.1L292.9 291.6L293.1 290.0L294.0 288.2L295.3 286.4L296.0 283.8L295.7 281.1L294.5 279.8L293.5 278.4L292.2 277.1L291.1 276.2L289.6 275.3L289.3 274.0L288.8 271.8L288.0 271.1L287.1 269.6L286.2 268.0L285.5 269.6L285.3 271.8L284.7 274.0L283.4 274.0L282.0 272.5L280.3 271.8L281.2 269.3L279.6 269.3L277.3 268.7L275.8 269.6L274.7 271.8L273.3 271.6L272.5 270.9L271.1 271.4L269.8 273.1L268.3 274.0L268.0 274.9L267.1 276.0L265.4 276.2L263.3 276.8L261.8 277.6L260.9 278.0ZM288.2 294.6L289.8 294.9L291.4 294.8L291.1 296.6L289.8 297.2L288.7 296.2L288.2 294.6ZM313.0 289.1L314.6 290.7L315.8 291.1L316.4 292.0L318.2 291.9L317.5 293.3L316.8 293.5L316.4 294.9L315.3 295.4L314.9 294.4L314.0 293.3L314.8 292.2L314.6 291.3L313.0 289.1ZM313.1 294.4L314.3 295.3L313.3 296.8L311.8 297.8L311.3 299.1L309.7 299.8L308.4 299.5L307.5 299.1L309.1 297.5L311.1 296.4L311.9 295.5L313.1 294.4ZM305.3 276.4L306.6 277.1L308.0 278.3L307.1 278.0L305.7 277.1L305.3 276.4ZM21.3 240.9L22.2 240.9L21.7 241.7L21.3 240.9ZM105.6 304.2L108.3 304.1L107.8 304.8L106.1 304.8L105.6 304.2ZM126.0 306.4L127.8 306.8L127.4 307.1L126.0 306.4ZM220.8 301.9L222.1 302.1L221.9 302.6L221.0 302.5L220.8 301.9ZM0.0 333.8L9.8 332.6L13.2 330.8L16.3 329.7L20.3 329.3L24.4 328.0L32.5 326.0L45.8 324.4L56.9 324.4L68.5 323.5L76.8 324.0L88.2 324.0L94.6 322.3L97.6 319.8L101.3 318.2L104.7 317.0L107.8 314.9L111.9 313.3L113.4 314.3L111.9 316.0L111.9 318.2L107.8 320.8L104.5 324.0L98.0 326.4L88.2 328.0L91.5 329.3L94.6 329.7L99.7 329.4L104.5 330.5L108.2 331.3L113.1 329.4L118.0 329.7L122.9 328.8L128.6 328.8L131.2 327.2L136.3 326.9L140.8 326.4L142.4 324.7L149.1 322.3L155.6 321.1L167.0 320.6L175.2 320.6L186.6 320.2L193.2 319.0L203.0 317.9L209.5 317.1L216.6 319.0L222.4 319.8L220.7 323.5L224.7 320.6L232.9 318.6L242.7 317.3L252.6 316.5L262.4 317.9L273.7 317.3L283.6 317.9L293.4 319.0L303.0 320.2L310.6 322.3L313.0 324.0L306.5 325.6L311.4 327.2L303.0 329.7L308.1 331.3L317.3 332.8M13.5 210.2L12.0 210.7L10.2 211.3L8.0 211.9L5.3 212.3L2.7 212.7L0.0 212.8M312.8 211.6L315.1 212.0L317.7 212.6L319.5 212.8M298.6 213.5L297.3 214.6L295.5 215.9L294.2 217.3L292.4 218.2L290.6 218.8L289.3 219.5M67.4 191.6L72.8 192.0L73.7 190.7L70.1 190.5L67.4 191.6ZM74.1 192.0L76.8 192.3L76.8 191.6L74.5 191.5L74.1 192.0ZM50.6 191.1L55.9 190.9L56.8 190.0L53.2 189.9L50.6 191.1ZM66.6 189.5L71.0 189.5L71.9 188.6L68.3 188.3L66.6 189.5ZM71.4 197.3L74.5 197.7L75.0 196.9L72.8 196.4L71.4 197.3ZM87.9 193.8L91.4 194.2L92.3 193.6L89.2 193.1L87.9 193.8ZM91.4 198.8L93.2 198.8L92.7 197.9L91.0 198.2L91.4 198.8ZM86.1 203.1L88.7 203.3L88.7 202.6L86.5 202.6L86.1 203.1ZM102.5 200.6L99.4 199.5L101.6 200.0M101.6 203.0L99.0 202.0L100.7 202.4M83.4 193.3L84.8 195.1L83.9 194.2M87.0 190.4L83.4 189.8L86.1 188.9L89.6 188.0L85.2 187.4M62.1 194.0L63.9 195.1L60.3 196.0L58.6 195.1M297.0 263.4L298.0 264.5L298.6 265.2L300.0 265.6L301.3 265.9L302.2 267.0L303.5 267.9M293.6 260.8L295.1 261.9L295.5 262.7L294.8 261.5L293.6 260.8ZM307.6 271.6L308.2 272.5L309.1 274.0M317.1 274.0L318.2 274.1L318.0 274.6L317.2 274.5L317.1 274.0ZM266.5 246.6L267.5 246.8L267.4 247.6L267.0 247.5L266.5 246.6ZM270.1 248.4L270.8 248.6L270.9 249.5L270.4 249.5L270.1 248.4ZM271.6 261.2L272.6 261.4L272.3 261.9L271.6 261.6L271.6 261.2ZM253.2 259.9L254.3 260.6L254.4 261.2L253.5 260.5L253.2 259.9ZM265.4 266.8L267.0 267.2L266.2 267.6L265.4 267.2L265.4 266.8ZM188.4 227.5L190.4 226.9L189.7 227.7L188.6 227.7L188.4 227.5ZM180.7 227.0L183.1 227.3L181.5 227.5L180.7 227.0ZM170.8 224.8L173.6 224.6L173.2 226.0L170.9 225.2L170.8 224.8ZM167.1 222.2L168.4 222.1L168.3 223.7L167.3 223.9L167.1 222.2ZM167.5 220.7L168.2 220.5L168.1 221.7L167.6 221.5L167.5 220.7ZM207.1 247.3L208.1 247.4L207.5 247.6L207.1 247.3ZM194.5 263.6L194.8 264.1L194.6 264.2L194.5 263.6ZM98.9 305.1L97.2 305.9L96.3 306.4M94.1 295.6L94.5 296.2L94.1 297.0L93.8 296.2L94.1 295.6ZM78.5 258.8L79.2 258.9L78.8 259.4L78.5 258.8ZM104.8 249.0L105.7 248.9L105.6 249.5L104.8 249.5L104.8 249.0ZM90.1 234.9L91.0 235.2L91.2 236.3L90.5 236.8M19.3 239.4L19.8 239.6L20.9 240.1M0.0 333.1L10.2 333.5L21.4 333.8M114.9 330.4L118.0 331.1L121.0 330.4L118.0 330.0L114.9 330.4ZM130.2 329.8L141.3 329.8" fill="none" stroke="#000" stroke-width="1.1" stroke-linejoin="round"/></g>
<g clip-path="url(#cc)"><rect x="344.3" y="181.2" width="314" height="154.6" fill="#12447f"/><g fill-rule="evenodd"><path fill="#2065ab" d="M452 196.2l2-2 4.9-1.8 5 .5 5 1.3 5 0 5 0 1.9 2 3.1 .9 4.8 4 .1 .1 5 .6 4.7 4.3 .3 .4 4.6 4.6-4.6 4.3-.7 .7-4.3 4.2-5 .3-4.9 .2-4-4.7-1-.3-5-1.4-5-1.4-2.8-1.9-2.2-.4-5-.1-4.9-.5-.7 1-4.3 3.8-5 .8-5-.5-5-.8-5 0-5 .8-4.9-.8-5-1.4-4.2-1.9-.8-.3-5-.7-3.2-4 1.3-5 1.9-1.9 5-2.1 5 .1 5 .7 4.9-.5 5-.3 5-.5 5 .5 5-.2 5 1zM551.7 201.1l1.9-1.9 2 1.9 2.8 5-4.8 3.8-3.7-3.8zM380.4 211.1l3.8-3.8 3.7 3.8-3.7 4.3zM520.5 216.1l3.2-3.2 3.3 3.2-3.3 3.3zM379.7 221.1l4.5-4.7 4.5 4.7-.8 5-3.7 3.8-3.8-3.8zM466.8 221.1l2.1-1.4 3.7 1.4 1.3 .2 5-.1 5 .1 4.9 .8 5 2.1 1.9 1.9 1.4 5-1.4 5-1.9 1.9-5 1.3-4.6-3.2-.3-.2-5-.4-5 0-2.2 .6-2.8 1.9-5 1.6-5 0-4.7-3.5 1.2-5 3.5-4.1 .7-.9 4.3-4.3zM371 226.1l3.2-3.3 3.3 3.3-3.3 3.2zM505.5 236.1l3.3-3.3 5-.8 4.4 4.1 .5 1 3.3 3.9-3.3 4-4.9 .8-5-.8-3.3-4zM541.7 285.9l2-1.9 4.9 0 5 0 5 0 1.9 1.9 3.1 1.2 3.8 3.8-3.8 3.8-.9 1.2-2.2 5-1.9 1.9-5 2.8-5-2.8-1.9-1.9-3-.9-4.1-4.1-.9-.9-4.1-4.1 4.1-4zM400.3 290.9l3.8-3.8 5-.2 5 0 4 4 1 1.8 3.2 3.2-3.2 3.3-.8 1.7-4.2 4.6-5-1.4-3.3-3.2-.8-5-.9-1.2zM469 295.9l4.9-4.1 5 2.2 1.9 1.9 3.1 .9 4.4 4.1-2.5 5-1.9 1.9-5 2.9-.9 .2-4.1 1.9-1.9-1.9-3.1-1.2-5-1.9-1.9-1.9 0-5 1.9-1.9 5-3zM490.3 305.9l3.5-3.5 3.5 3.5-.6 5-2.9 2.9-2.9-2.9z"/><path fill="#2e77b5" d="M454.7 196.2l4.2-2.6 5 1 3.5 1.6 1.5 .2 5 0 5 .1 5 1.5 3.7 3.1 1.2 .6 5 .7 4 3.7 1 1.3 3.8 3.7-3.8 3.5-1.5 1.5-3.5 3.5-5 0-4.9-1.3-1.9-2.2-3.1-1-5-2.5-3.5-1.5-1.5-.3-5-.9-5-.3-4.9-1.6-2.1 3.1-2.9 2.6-5 1.6-5-1-5-1.7-5 0-5 1.7-4.9-1.7-3.5-1.5-1.5-1.5-5-1.3-5-.3-1.5-1.9 1.5-3.5 .5-1.5 4.5-3.1 5 .2 5 1.4 4.9-1 5-.6 5-1 5 1 5-.3 5 1.9 5-2.9zM551.1 206.1l2.5-4.2 3.3 4.2-3.3 2.6zM381.6 211.1l2.6-2.5 2.5 2.5-2.5 2.9zM522.2 216.1l1.5-1.5 1.5 1.5-1.5 1.5zM380.2 221.1l4-4.2 4 4.2-1.5 5-2.5 2.6-2.6-2.6zM372.7 226.1l1.5-1.5 1.5 1.5-1.5 1.5zM461 226.1l2.9-2.9 5-1.5 5 .8 5-.2 5 .5 4.9 1.4 3.5 1.9 1.5 1.5 1.5 3.5-1.5 3.5-1.5 1.5-3.5 1.5-2.1-1.5-2.8-1.3-5 .2-5-.5-5 1.1-1.1 .5-3.9 2-5 0-2.7-2 .7-5 2-2.4zM507.3 236.1l1.5-1.6 5-1.6 3.4 3.2 1.5 3.1 1.6 1.8-1.6 1.9-4.9 1.4-5-1.4-1.5-1.9zM401.5 290.9l2.6-2.6 5-.5 5 0 3.1 3.1 1.9 3.5 1.5 1.5-1.5 1.5-1.5 3.5-3.5 3.8-5-2.3-1.5-1.5-1.6-5-1.9-2.4zM535.6 290.9l3.1-3.1 5-1.7 4.9 .1 5 0 5-.1 5 2.2 2.6 2.6-2.6 2.6-1.9 2.4-3.1 4.5-.2 .5-4.8 4.2-4.7-4.2-.3-.4-4.9-1.5-3.2-3.1-1.8-1.9zM470.1 295.9l3.8-3.1 4.5 3.1 .5 .5 5 1.4 3.4 3.1-3.4 4.5-.8 .5-4.2 3.2-5 1.4-5-2.1-4.2-2.5-.4-5 4.6-4zM491.8 305.9l2-2.1 2.1 2.1-1.3 5-.8 .8-.8-.8z"/><path fill="#3c8abe" d="M456.7 196.2l2.2-1.4 4.5 1.4 .5 0 5 .8 5-.1 5 .6 5 1.4 2.6 2.2 2.3 1 5 .9 3.3 3.1 1.7 2.1 3 2.9-3 2.8-2.2 2.2-2.8 2.7-5-.3-4.7-2.4-.2-.1-5-1.6-4.9-3.3-.1-.1-5-1-5-.9-5-.5-4.7-2.5-.2-.2-.5 .2-3 5-1.5 1.4-5 2.4-5-1.6-4.7-2.2-.3-1.2-5 0-.2 1.2-4.8 2.2-4.7-2.2 1-5-.7-5 4.4-1.3 5-.9 5-1.4 5 1.4 5-.5 4.8 2.7 .2 .5 .2-.5 4.8-3.1zM405.9 201.1l3.2-2.2 5 .3 4.7 1.9-4.7 4.7-5 .1zM552.3 206.1l1.3-2.2 1.8 2.2-1.8 1.4zM382.8 211.1l1.4-1.3 1.3 1.3-1.3 1.6zM380.6 221.1l3.6-3.7 3.5 3.7-2.2 5-1.3 1.3-1.4-1.3zM462.4 226.1l1.5-1.6 5-1.9 5 1.1 5-.2 5 .9 4.4 1.7 .5 .5 4.5 4.5-4.5 4.5-4.9-1.9-5 .8-5-1-5 .7-3.9 1.9-1.1 .5-5 0-.7-.5 .2-5 .5-.7zM509 236.1l4.8-2.2 2.4 2.2 2 4.9-4.4 1.8-4.5-1.8zM402.8 290.9l1.3-1.3 5-.9 5 0 2.2 2.2 2.6 5-2.1 5-2.7 2.9-4.8-2.9-.2-.3-2.2-4.7-2.8-3.6zM536.5 290.9l2.2-2.2 5-2.1 4.9 .4 5 0 5-.4 5 3 1.4 1.3-1.4 1.4-2.8 3.6-2.2 3.2-.8 1.8-4.2 3.7-4.2-3.7-.8-1.4-4.9-1.4-2.2-2.2-2.8-2.8zM471.3 295.9l2.6-2.2 3.1 2.2 1.9 1.8 5 1 2.4 2.2-2.4 3.1-2.8 1.9-2.2 1.7-5 1.9-5-2.3-2.2-1.3-1.4-5 3.6-3.2zM493.3 305.9l.5-.6 .6 .6-.6 1.8z"/><path fill="#529dc8" d="M458.7 196.2l.2-.2 .5 .2 4.5 .6 5 .7 5-.1 5 1.1 5 1.4 1.5 1.2 3.4 1.5 5 1.1 2.6 2.4 2.4 2.9 2.1 2.1-2.1 2-3 3-2 2-5-.6-2.7-1.4-2.2-.6-5-1.8-3.9-2.6-1.1-1.1-5-.8-5-.9-5-.8-2.7-1.4-2.2-2.2-2.8-2.8 2.8-1.8zM407.3 201.1l1.8-1.2 5 .4 2.2 .8-2.2 2.2-5 .6zM423.5 201.1l.5-.1 5-1.1 5-2 5 2 5-.7 3.5 1.9 1.5 4.5 .5 .5-.4 5-.1 .2-5 3.2-5-2.1-2.7-1.3 1.9-5-4.2-.3-5-1.2-5-2.6zM553.5 206.1l.1-.2 .2 .2-.2 .2zM384 211.1l.2-.1 .1 .1-.1 .2zM421.3 211.1l2.7-3.4 2.8 3.4-2.8 1.3zM381.1 221.1l3.1-3.2 3 3.2-2.9 5-.1 .1-.2-.1zM463.7 226.1l.2-.2 5-2.3 5 1.4 5-.4 5 1.3 .5 .2 4.4 4.5 .5 .5-.5 .5-4.9 1-5 1.4-5-1.5-5 .4-5 1.1-2.9-2.9zM511 236.1l2.8-1.3 1.4 1.3-.9 4.9-.5 .2-.5-.2zM404 290.9l.1-.1 5-1.2 5 0 1.3 1.3 2.5 5-1.8 5-2 2.1-3.5-2.1-1.5-2.3-1.3-2.7-3.7-4.8zM537.4 290.9l1.3-1.3 5-2.5 4.9 .7 5 0 5-.7 5 3.7 .2 .1-.2 .2-3.7 4.8-1.3 1.8-1.4 3.2-3.6 3.2-3.6-3.2-1.4-2.4-4.9-1.3-1.3-1.3-3.7-3.7zM472.4 295.9l1.5-1.3 1.8 1.3 3.2 3.2 5 .5 1.4 1.3-1.4 1.8-4.8 3.2-.2 .2-5 2.4-5-2.5-.2-.1-2.4-5 2.6-2.3z"/><path fill="#71b0d3" d="M408.6 201.1l.5-.3 3.7 .3-3.7 .8zM427.5 201.1l1.5-.3 5-2.5 5 2.5 5-.9 2.1 1.2-.6 5 3 5-4.5 3.1-5-2.7-.7-.4 .7-1.5 3.5-3.5-3.5-3.5-5 2.5-5-3zM453.2 201.1l.8-.5 4.9-3.8 5 .6 5 .7 5-.2 5 1.6 5 1.3 .4 .3 4.5 2 5 1.2 2 1.8 3 3.7 1.3 1.3-1.3 1.2-3.8 3.8-1.2 1.2-5-.8-.7-.4-4.2-1.2-5-1.8-2.9-2-2.1-2.1-5-.6-5-.9-5-1-.7-.4-4.2-4.2zM423.3 211.1l.7-.9 .8 .9-.8 .4zM381.6 221.1l2.6-2.7 2.5 2.7-2.5 4.3zM465.7 226.1l3.2-1.6 4.6 1.6 .4 1.2 1.2-1.2 3.8-.4 1.5 .4 3.5 3.5 1.5 1.5-1.5 .4-5 1.9-5-1.9-5 .1-3.7-.5zM513 236.1l.8-.4 .3 .4-.3 1.5zM407.6 290.9l1.5-.3 5 0 .3 .3 2.5 5-1.6 5-1.2 1.3-2.2-1.3-2.8-4.2-.4-.8zM538.3 290.9l.4-.3 5-3 4.9 1 5 0 5-1 4.4 3.3-4 5-.4 .5-1.9 4.5-3.1 2.7-3-2.7-2-3.4-4.9-1.2-.4-.4-4.6-4.6zM473.5 295.9l.4-.3 .5 .3 4.5 4.5 5 .1 .3 .4-.3 .5-5 1-1.8 3.5-3.2 1.6-3.3-1.6-1.7-1.8-1.6-3.2 1.6-1.4z"/><path fill="#90c4dd" d="M429.5 201.1l4.5-2.3 4.5 2.3-4.5 3.4zM441.5 201.1l2.5-.4 .8 .4-.8 2.5zM454.5 201.1l4.4-3.7 5 .6 5 .7 5-.3 5 2.1 2.5 .6 2.5 .6 4.9 1.9 5 1.3 1.3 1.2 3.7 4.5 .5 .5-.5 .5-4.5 4.5-.5 .5-2.5-.5-2.5-.4-4.9-1.4-5-1.9-1.9-1.3-3.1-3.1-5-.4-5-1-2.5-.5-2.5-.5zM439.4 211.1l4.6-4.5 3.9 4.5-3.9 2.7zM382.1 221.1l2.1-2.2 2 2.2-2 3.5zM467.7 226.1l1.2-.6 1.8 .6-1.8 2.5zM474.6 231.1l4.3-4.3 4.2 4.3-4.2 1.8zM539.2 290.9l4.5-2.8 4.9 1.3 5 0 5-1.3 3.7 2.8-3.7 4.5-2.5 .5 0 5-2.5 2.2-2.4-2.2-2.6-4.4-2.4-.6-2.5-.5zM410.3 295.9l3.8-3.7 1.8 3.7-1.4 5-.4 .5-.9-.5zM468.3 300.9l.6-.6 5-4.2 4.8 4.8-3.6 5-1.2 .6-1.3-.6-3.7-3.8z"/><path fill="#acd2e5" d="M430.4 201.1l3.6-1.9 3.7 1.9-3.7 2.8zM455.3 201.1l3.6-3 5 .4 5 .8 5-.4 4.6 2.2 .4 .4 5 1 4.9 1.5 5 1.6 .6 .5 4.3 5-4.9 4.9-5-.8-4.9-1.5-5-2-.9-.6-4.1-4.1-5-.2-3.5-.7-1.5-.3-5-1zM440.1 211.1l3.9-3.9 3.3 3.9-3.3 2.3zM382.6 221.1l1.6-1.7 1.6 1.7-1.6 2.6zM475.9 231.1l3-3.1 3 3.1-3 1.3zM540 290.9l3.7-2.3 4.9 1.6 5 0 5-1.6 3.1 2.3-3.1 3.7-5-.2-5 0-4.9 .2zM412.3 295.9l1.8-1.7 .9 1.7-.9 3.5zM469 300.9l4.9-4.5 4.5 4.5-4.5 4.9zM551.8 300.9l1.8-4.5 1.9 4.5-1.9 1.7z"/><path fill="#c5dfec" d="M431.2 201.1l2.8-1.5 2.9 1.5-2.9 2.2zM456.1 201.1l2.8-2.3 5 .3 5 .7 5-.4 3.6 1.7 1.4 1.5 5 .7 4.9 1.2 4.9 1.6 .1 .1 4.6 4.9-4.6 4.6-5-1.1-4.9-1.5-4.9-2-.1-.1-4.8-4.9-.2-.1-5-.1-5-1.2-5-.7zM440.8 211.1l3.2-3.2 2.7 3.2-2.7 1.9zM383.1 221.1l1.1-1.2 1.1 1.2-1.1 1.8zM477.1 231.1l1.8-1.8 1.8 1.8-1.8 .8zM540.8 290.9l2.9-1.8 4.8 1.8-4.8 2.9zM553.8 290.9l4.8-1.8 2.4 1.8-2.4 2.9zM469.3 300.9l4.6-4.2 4.2 4.2-4.2 4.6zM552.3 300.9l1.3-3.1 1.3 3.1-1.3 1.1z"/><path fill="#d8e9f1" d="M432 201.1l2-1 2 1-2 1.6zM456.9 201.1l2-1.6 5 .2 5 .7 5-.5 2.5 1.2 2.5 2.5 5 .5 4.9 .9 3.5 1.1 1.5 .4 4.3 4.6-4.3 4.3-5-1.4-4.9-1.4-3.5-1.5-1.5-1.5-3.5-3.5-1.5-1.5-5-.8-5-.1-5-.5zM441.4 211.1l2.6-2.5 2.1 2.5-2.1 1.5zM383.6 221.1l.6-.6 .6 .6-.6 1zM478.3 231.1l.6-.6 .6 .6-.6 .2zM541.6 290.9l2.1-1.2 3.4 1.2-3.4 2.1zM555.2 290.9l3.4-1.2 1.7 1.2-1.7 2.1zM469.6 300.9l4.3-4 3.9 4-3.9 4.2zM552.9 300.9l.7-1.7 .8 1.7-.8 .6z"/><path fill="#e7f0f4" d="M432.8 201.1l1.2-.6 1.2 .6-1.2 1zM457.7 201.1l1.2-1 5 .2 5 .7 5-.6 1.5 .7-1.5 2.1-5-1.5-5 1-5-.3zM476.8 206.1l2.1-1.5 5 .3 4.9 .5 2.1 .7 2.9 .7 4 4.3-4 4-5-1.7-4.9-1.4-2.1-.9-2.9-2.9zM442.1 211.1l1.9-1.8 1.6 1.8-1.6 1.1zM384.1 221.1l.1-.1 .1 .1-.1 .2zM542.4 290.9l1.3-.7 2 .7-2 1.2zM556.6 290.9l2-.7 1 .7-1 1.2zM469.9 300.9l4-3.7 3.6 3.7-3.6 3.9zM553.5 300.9l.1-.4 .2 .4-.2 .1z"/><path fill="#f7f6f6" d="M433.6 201.1l.4-.2 .4 .2-.4 .4zM458.5 201.1l.4-.3 5 .1 2 .2-2 .6-5-.1zM471.9 201.1l2-.2 .5 .2-.5 .7zM478.2 206.1l.7-.5 5 .1 4.9 .2 .7 .2 4.3 1 3.8 4-3.8 3.8-5-2-4.9-1.5-.7-.3-4.3-4.3zM442.8 211.1l1.2-1.2 1 1.2-1 .7zM543.3 290.9l.4-.2 .7 .2-.7 .4zM557.9 290.9l.7-.2 .4 .2-.4 .4zM470.3 300.9l3.6-3.4 3.4 3.4-3.4 3.6z"/><path fill="#f9ebe3" d="M443.5 211.1l.5-.5 .4 .5-.4 .3zM484.9 211.1l3.9-4 5 .3 3.5 3.7-3.5 3.5-5-2.3zM470.6 300.9l3.3-3.1 3.1 3.1-3.1 3.3z"/><path fill="#fce0d0" d="M486.8 211.1l2-2 5-1.4 3.2 3.4-3.2 3.2-5-2.6zM470.9 300.9l3-2.8 2.8 2.8-2.8 3z"/><path fill="#fbd0b9" d="M488.8 211.1l5-3.1 2.9 3.1-2.9 2.9zM471.2 300.9l2.7-2.5 2.5 2.5-2.5 2.7z"/><path fill="#f8bb9e" d="M489.3 211.1l4.5-2.8 2.6 2.8-2.6 2.6zM471.5 300.9l2.4-2.2 2.2 2.2-2.2 2.4z"/><path fill="#f3a481" d="M489.8 211.1l4-2.5 2.3 2.5-2.3 2.3zM471.8 300.9l2.1-1.9 1.9 1.9-1.9 2.1z"/><path fill="#e8896c" d="M490.3 211.1l3.5-2.1 2 2.1-2 2zM472.1 300.9l1.8-1.7 1.6 1.7-1.6 1.8z"/><path fill="#dc6e57" d="M490.8 211.1l3-1.8 1.7 1.8-1.7 1.7zM472.4 300.9l1.5-1.4 1.3 1.4-1.3 1.5z"/><path fill="#cf5246" d="M491.3 211.1l2.5-1.5 1.5 1.5-1.5 1.5zM472.7 300.9l1.2-1.1 1.1 1.1-1.1 1.2z"/><path fill="#bf3338" d="M491.8 211.1l2-1.2 1.2 1.2-1.2 1.2zM473 300.9l.9-.8 .8 .8-.8 .8z"/><path fill="#b1182b" d="M492.3 211.1l1.5-.9 .9 .9-.9 .9zM473.3 300.9l.6-.5 .5 .5-.5 .5z"/><path fill="#930e26" d="M492.8 211.1l1-.6 .6 .6-.6 .6zM473.7 300.9l.2-.2 .2 .2-.2 .2z"/><path fill="#760521" d="M493.3 211.1l.5-.3 .3 .3-.3 .3z"/><path fill="#0a3b70" d="M344.3 181.2l5 0 5 0 5 0 4.9 0 5 0 5 0 5 0 5 0 5 0 4.9 0 5 0 5 0 5 0 5 0 5 0 4.9 0 5 0 5 0 5 0 5 0 5 0 5 0 4.9 0 5 0 5 0 5 0 5 0 5 0 4.9 0 5 0 5 0 5 0 5 0 5 0 4.9 0 5 0 5 0 5 0 5 0 5 0 4.9 0 5 0 5 0 5 0 5 0 5 0 5 0 4.9 0 5 0 5 0 5 0 5 0 5 0 4.9 0 5 0 5 0 5 0 5 0 5 0 4.9 0 5 0 5 0 5 0 0 5 0 5 0 5 0 4.9 0 5 0 5 0 5 0 5 0 5 0 5 0 5 0 4.9 0 5 0 5 0 5 0 5 0 5 0 5 0 5 0 4.9 0 5 0 5 0 5 0 5 0 5 0 5 0 5 0 4.9 0 5 0 5 0 5-5 0-5 0-5 0-4.9 0-5 0-5 0-5 0-5 0-5 0-4.9 0-5 0-5 0-5 0-5 0-5 0-4.9 0-5 0-5 0-5 0-5 0-5 0-5 0-4.9 0-5 0-5 0-5 0-5 0-5 0-4.9 0-5 0-5 0-5 0-5 0-5 0-4.9 0-5 0-5 0-5 0-5 0-5 0-4.9 0-5 0-5 0-5 0-5 0-5 0-5 0-4.9 0-5 0-5 0-5 0-5 0-5 0-4.9 0-5 0-5 0-5 0-5 0-5 0-4.9 0-5 0-5 0-5 0 0-5 0-5 0-5 0-4.9 0-5 0-5 0-5 0-5 0-5 0-5 0-5 0-4.9 0-5 0-5 0-5 0-5 0-5 0-5 0-5 0-4.9 0-5 0-5 0-5 0-5 0-5 0-5 0-5 0-4.9 0-5 0-5zM374.2 221.1l-5 5 5 5 5-5zM384.2 206.1l-5 5 0 5 0 5 0 5 5 5 5-5 0-5 0-5 0-5zM454 191.2l-5 5-5 0-5 0-5 0-5 0-5 0-4.9 0-5 0-5 0-5 0-5 4.9 0 5 0 5 5 5 5 0 5 0 5 0 4.9 0 5 0 5 0 5 0 5 0 5 0 5 0 4.9 0 5 0 5 0 5 0-5 0-5 0-5 5-4.9 5 0 5-5 5 5 4.9 4.9 0 5 0 5 0 5 0 5-4.9 5 4.9 4.9 0 5 0 5-4.9 0-5 0-5-5-5 5-5 5 0 5-5-5-5-5-5-5 0-5-4.9-4.9 0-5-5-5 0-5 0-5 0-5 0zM508.8 231.1l-5 5 0 4.9 0 5 5 5 5 0 4.9 0 5-5 0-5 0-4.9-5-5-4.9 0zM523.7 211.1l-5 5 5 5 5-5zM543.7 280.9l-5 5-5 5 5 5 5 5 4.9 5 5 5 5-5 5-5 0-5 5-5-5-5-5-5-5 0-5 0zM553.6 196.2l-5 4.9 0 5 5 5 5 0 5-5-5-5zM404.1 285.9l-5 5 5 5 0 5 5 5 5 5 5-5 0-5 4.9-5-4.9-5-5-5-5 0zM468.9 290.9l-5 5-5 5 0 5 5 5 5 0 5 5 5 0 5-5 4.9-5 0 5 5 5 5-5 0-5-5-5-5-5-4.9 0-5-5-5 0z"/></g><path d="M354.9 200.3L356.3 197.8L359.4 196.2L365.2 194.8L370.9 195.4L378.9 196.1L384.2 196.7L390.4 195.9L393.1 196.4L397.5 196.6L402.0 197.8L406.4 197.9L408.2 199.1L413.5 198.2L417.1 198.2L418.8 198.7L420.6 197.3L420.2 194.8L422.4 196.9L424.2 197.8L425.9 198.7L427.7 198.2L431.3 196.9L431.7 197.8L429.5 199.1L427.7 199.7L426.8 200.9L424.2 201.8L421.5 203.5L420.2 205.3L420.2 206.5L422.0 208.0L424.2 208.0L428.6 209.5L431.0 209.7L431.3 211.5L432.2 212.8L433.5 213.0L434.1 212.0L433.5 210.2L435.7 208.9L436.2 207.5L434.4 206.4L435.3 204.9L434.8 203.3L438.4 203.3L441.9 204.4L442.4 206.2L443.7 206.8L445.9 205.7L446.8 205.0L449.0 207.5L450.8 209.3L453.0 210.6L454.5 212.0L453.5 212.8L450.8 214.0L446.4 214.0L444.6 214.8L441.9 216.4L441.0 217.0L444.6 215.2L446.8 215.1L446.8 215.9L446.4 216.8L447.2 217.5L449.9 218.2L447.7 219.0L445.5 219.9L445.5 218.8L446.8 218.2L444.6 218.6L442.8 219.5L441.5 220.4L441.5 221.4L441.9 221.5L440.1 222.0L438.4 222.5L438.4 223.5L437.0 224.4L436.6 225.7L436.8 227.0L435.7 227.9L433.9 229.0L432.2 230.6L431.9 231.9L432.9 234.6L432.9 236.1L432.0 236.2L430.7 233.9L430.7 232.8L429.5 231.9L428.2 232.2L426.4 231.6L424.6 231.7L424.9 232.7L423.3 232.5L420.6 232.3L419.3 233.1L417.7 234.1L417.7 235.9L417.3 238.6L418.0 240.3L418.8 241.7L420.2 242.4L422.4 242.0L423.6 241.2L423.9 239.9L425.9 239.4L426.8 239.6L426.4 241.2L425.8 242.7L425.2 244.4L427.7 244.5L430.1 245.2L429.9 247.4L429.8 248.7L430.8 250.3L432.2 250.7L433.5 250.1L435.3 250.8L436.6 250.1L437.5 248.9L439.3 248.3L440.6 247.5L440.6 248.7L440.1 249.6L441.9 247.7L443.7 248.7L445.5 249.1L447.2 249.2L449.0 249.0L449.9 250.1L450.8 251.0L452.6 252.5L454.3 253.3L456.1 253.4L457.9 254.2L458.8 255.4L459.7 256.9L459.7 258.5L461.0 258.9L462.3 259.1L464.6 260.7L466.8 261.0L468.5 261.1L470.8 262.5L472.8 263.2L473.2 265.1L472.5 266.9L471.2 268.7L469.9 270.0L469.4 272.2L469.3 274.5L468.5 276.2L467.7 278.0L466.8 278.9L464.6 279.2L462.8 280.0L461.0 281.6L460.8 283.8L459.2 286.0L457.7 287.3L456.6 288.6L455.2 289.5L453.5 289.1L452.2 288.6L453.3 290.0L453.7 290.9L452.7 292.4L449.0 293.1L448.8 294.7L446.4 294.9L447.0 296.2L446.1 298.0L444.1 299.3L445.6 300.6L443.7 302.8L442.8 304.2L443.3 305.0L443.3 305.5L444.6 306.8L446.2 307.1L444.6 307.7L441.9 307.4L440.1 306.4L438.4 305.0L437.2 302.8L437.0 300.2L437.9 298.4L438.8 295.7L438.6 293.5L439.0 291.3L439.7 289.5L440.6 286.9L440.7 284.2L441.2 281.6L441.7 278.0L441.7 274.7L440.1 273.6L437.5 272.1L436.3 270.5L435.3 268.7L434.1 266.0L433.0 264.3L431.9 262.9L432.2 261.6L433.0 260.7L432.3 259.4L433.0 258.1L433.9 257.2L434.8 256.3L435.5 255.0L435.3 253.2L435.3 252.1L434.6 251.4L433.5 250.5L432.6 251.2L432.8 251.9L431.7 251.6L430.4 251.1L429.8 250.5L428.6 249.6L427.9 248.8L426.8 247.4L426.2 246.7L424.6 246.5L423.3 246.1L421.5 244.8L420.2 244.1L418.8 244.6L417.1 244.0L415.3 243.4L413.5 242.5L411.7 241.7L410.4 240.5L410.6 239.3L410.0 238.1L408.2 236.3L406.9 235.0L405.5 233.7L404.2 232.3L403.8 231.0L402.2 230.4L402.4 231.9L403.8 233.2L404.6 234.6L405.5 235.9L406.2 237.2L406.9 238.1L406.4 238.2L405.1 236.8L404.5 235.4L402.9 234.1L402.6 233.2L401.5 232.1L400.7 230.6L400.0 229.5L398.9 228.4L397.1 227.9L396.0 226.1L395.3 225.0L394.2 223.5L393.7 222.6L393.8 220.8L394.0 219.0L394.0 217.5L393.4 215.6L394.9 215.7L395.3 216.6L395.3 215.1L394.0 214.2L391.3 213.3L390.4 212.0L388.7 210.6L387.8 209.3L385.6 207.5L383.3 206.6L381.6 205.9L379.8 205.5L376.2 205.3L374.5 204.6L372.7 205.0L370.9 205.7L369.4 206.0L370.0 204.9L370.9 204.2L369.1 204.9L367.8 205.9L366.9 207.1L365.2 208.0L363.4 208.9L361.2 209.6L359.4 210.0L357.8 210.2L359.8 209.3L361.6 208.9L363.4 207.5L364.4 206.5L363.4 206.4L362.0 206.5L360.3 206.2L360.3 205.3L358.1 204.9L357.2 204.0L357.6 202.8L359.4 202.5L361.2 202.0L361.2 201.3L359.4 201.3L356.7 201.1L354.9 200.3ZM439.7 189.1L442.8 190.2L441.0 190.9L445.0 191.3L450.8 191.1L452.6 192.0L454.8 194.2L455.7 196.0L458.8 196.9L456.6 197.8L457.0 199.5L457.9 201.3L459.7 203.1L461.0 204.4L463.2 204.9L465.4 205.4L466.3 204.0L467.7 202.2L468.5 200.9L471.2 200.2L474.8 198.7L480.1 197.8L483.2 196.4L484.5 196.0L482.7 194.7L484.5 193.3L486.3 192.0L487.2 190.2L486.3 188.5L489.0 187.6L493.4 186.2L486.3 185.8L481.0 185.1L474.8 184.4L468.5 184.6L461.4 185.4L455.2 185.5L449.9 186.0L446.4 186.9L443.7 187.6L445.5 188.0L439.7 189.1ZM449.5 199.5L447.2 200.9L444.6 202.6L446.4 203.5L445.0 203.6L443.3 203.1L440.6 202.2L438.8 201.3L435.3 201.5L434.8 200.9L438.4 200.4L438.8 199.1L439.7 198.2L436.6 197.3L433.9 196.4L429.5 196.4L425.9 195.6L424.2 194.2L425.1 193.2L428.6 193.2L432.2 193.3L434.8 193.9L437.9 194.7L441.0 195.6L443.7 196.2L444.6 197.3L447.2 198.5L449.5 199.5ZM401.1 196.9L403.8 197.8L408.2 197.6L410.9 197.3L414.0 196.6L411.3 195.6L410.9 193.8L407.8 193.5L404.6 194.0L402.0 193.3L398.9 194.2L400.2 195.1L398.4 195.1L400.2 196.0L401.1 196.9ZM393.1 194.7L394.9 195.4L397.5 195.1L399.8 193.8L401.5 192.9L399.8 192.6L396.2 192.4L393.6 193.2L393.1 194.7ZM433.0 190.9L434.8 190.2L437.0 188.6L441.0 188.0L445.5 186.9L449.0 185.8L447.2 185.1L440.1 184.8L433.0 184.9L426.8 185.6L423.3 186.2L427.7 187.1L426.8 188.0L428.6 188.9L425.9 189.5L425.1 190.7L429.5 190.8L433.0 190.9ZM433.0 191.5L431.3 192.4L425.9 192.4L422.4 192.2L422.4 190.9L425.1 190.9L428.6 191.4L433.0 191.5ZM401.1 192.0L404.6 192.4L409.1 192.1L410.0 191.3L407.3 190.7L403.8 190.9L400.2 191.1L401.1 192.0ZM419.3 194.5L423.7 194.0L424.2 193.0L419.7 192.9L419.3 194.5ZM413.5 195.1L417.1 195.1L418.0 193.8L415.3 192.9L413.5 193.8L413.5 195.1ZM419.7 189.2L425.9 189.1L426.8 188.0L422.4 186.5L418.8 187.6L419.7 189.2ZM426.8 202.0L429.5 202.6L432.2 202.2L432.2 201.3L428.6 200.2L426.8 200.6L426.8 202.0ZM451.4 216.2L454.3 216.9L457.0 217.1L457.3 216.2L456.6 215.1L454.5 214.3L454.8 212.8L453.5 213.3L452.6 214.6L451.4 216.2ZM428.7 239.1L430.4 238.1L432.6 238.0L435.7 239.2L438.2 240.6L435.1 240.9L434.4 239.9L431.7 238.9L428.7 239.1ZM438.0 242.1L439.7 240.9L441.9 240.9L443.3 242.0L441.5 242.4L440.4 242.8L438.0 242.1ZM434.6 242.3L436.3 242.4L435.7 242.7L434.6 242.3ZM444.4 242.2L445.7 242.3L445.5 242.6L444.4 242.2ZM390.2 213.5L392.8 214.0L394.4 215.5L393.1 215.2L390.2 213.5ZM482.5 200.4L484.5 199.6L488.1 200.0L491.0 199.7L492.0 200.9L490.7 201.5L487.6 202.3L484.1 201.8L484.5 201.3L482.7 201.0L484.1 200.5L482.5 200.4ZM498.8 226.8L502.3 227.3L504.0 226.8L506.7 225.9L511.1 225.7L512.9 225.4L513.8 225.7L513.1 226.6L513.6 227.9L512.9 228.4L513.8 229.1L515.1 229.4L517.4 229.9L518.2 230.8L520.0 231.5L521.4 231.5L521.8 230.6L522.2 229.6L523.6 229.3L524.9 230.0L526.2 230.4L528.0 230.7L529.8 231.1L531.6 230.6L532.7 230.8L533.0 232.1L533.5 233.2L534.2 235.0L535.1 236.8L535.7 238.1L536.8 239.4L537.1 241.2L538.2 242.5L539.1 244.8L540.4 245.6L541.8 247.0L542.5 247.4L542.5 248.3L543.5 249.2L545.8 248.6L547.5 248.5L549.5 248.0L549.1 249.6L548.2 251.9L546.6 254.5L544.9 256.3L543.1 257.6L541.3 259.4L540.0 260.7L539.1 262.5L538.5 264.3L539.1 265.6L539.1 267.4L540.0 268.3L540.1 271.4L539.5 272.7L537.3 274.0L536.0 275.3L534.9 276.2L535.6 278.0L535.6 279.8L533.3 281.1L533.2 282.9L532.0 284.5L530.7 286.3L528.9 287.6L527.1 288.5L524.5 288.6L521.8 289.4L520.4 288.8L520.2 287.3L519.3 285.1L518.2 283.3L517.4 281.6L516.9 278.9L516.0 276.7L514.7 274.5L514.5 272.7L515.6 270.0L516.3 268.3L515.6 266.5L515.0 263.8L513.8 262.0L512.5 260.7L512.0 258.9L512.5 257.6L512.7 255.8L512.0 254.7L510.3 254.6L508.9 253.6L508.0 252.9L505.8 252.9L504.0 253.4L502.3 254.2L500.5 253.9L497.4 254.6L496.1 254.1L494.3 252.6L493.0 251.9L492.1 250.1L490.7 248.7L489.2 247.4L488.5 245.5L489.4 244.3L489.6 241.7L489.0 239.9L489.8 237.7L491.2 235.4L492.5 233.9L494.3 233.0L495.3 232.1L495.3 230.6L496.5 229.0L498.0 228.3L498.8 226.8ZM547.8 269.1L548.9 272.2L548.0 273.6L547.1 276.2L546.2 278.9L545.8 280.7L544.2 281.1L543.1 280.7L542.7 278.4L543.4 276.2L543.1 274.0L544.4 272.7L546.2 271.4L547.8 269.1ZM499.1 226.6L500.1 226.0L502.3 225.9L503.6 224.8L504.0 223.9L503.8 223.5L504.8 222.1L506.9 221.4L506.9 220.2L508.0 220.0L509.8 220.3L510.7 219.7L512.0 219.2L513.2 219.9L513.8 220.9L515.1 221.8L516.5 222.3L517.8 223.0L518.2 224.1L518.0 224.8L518.7 224.5L519.1 223.9L518.8 222.9L520.4 223.0L520.4 222.6L518.8 222.0L518.2 221.4L517.4 221.3L516.5 220.6L516.0 219.8L515.1 219.2L515.0 218.3L516.2 218.0L516.1 218.6L516.9 218.4L517.6 219.3L518.7 219.9L520.0 220.7L521.3 221.4L521.3 222.8L522.2 223.9L522.9 225.0L523.3 225.9L524.3 226.1L524.5 225.3L525.3 225.1L524.7 224.5L524.3 223.5L524.2 222.7L525.2 223.0L525.6 222.4L527.1 222.3L528.5 222.1L529.7 222.1L528.9 221.4L528.7 220.6L529.3 219.8L529.5 219.0L530.4 218.3L531.1 217.5L532.0 217.1L532.9 217.6L533.8 217.7L532.9 218.2L533.8 219.0L535.4 218.6L536.4 218.3L535.1 217.9L535.1 217.5L537.1 216.8L538.8 216.7L537.8 217.5L537.3 218.3L536.9 218.6L538.2 219.2L539.5 220.0L540.9 220.8L540.9 221.7L539.5 222.1L537.8 222.1L536.4 221.9L535.1 221.3L533.3 221.3L532.0 222.0L530.0 222.0L529.8 222.4L528.0 222.7L527.3 223.0L527.8 224.1L528.3 225.7L529.1 226.0L530.2 226.4L531.3 225.9L532.9 226.5L534.2 226.2L536.0 225.9L536.0 227.0L535.8 227.9L535.3 229.2L534.8 230.3L534.4 230.7L533.3 230.9L532.8 230.8L533.0 232.0L533.6 233.2L534.4 233.9L534.9 232.3L535.1 233.7L536.4 235.4L537.3 237.0L538.7 239.0L538.8 240.3L540.0 241.7L541.3 243.4L542.0 245.2L542.5 247.2L544.0 247.2L546.6 246.1L548.4 245.2L550.4 244.0L552.0 243.4L553.1 242.8L554.2 241.8L555.3 241.2L555.3 240.3L556.2 239.9L557.1 238.6L556.0 237.5L554.5 236.8L554.1 235.3L553.7 235.9L552.4 237.0L550.2 237.2L549.3 236.7L549.8 235.6L549.3 235.4L549.0 236.3L548.6 235.4L548.4 234.8L547.4 233.7L546.6 232.3L547.1 231.9L548.0 231.8L549.1 232.8L550.2 234.1L552.0 234.9L554.0 234.5L554.8 235.6L556.4 236.0L558.6 236.2L560.8 236.1L563.1 236.0L563.8 236.8L564.6 237.6L565.7 238.6L565.2 238.7L566.4 240.1L567.9 239.9L568.5 238.8L568.7 239.9L568.7 241.7L569.1 243.4L569.7 245.2L570.4 247.0L571.3 248.5L571.9 250.1L572.8 251.3L573.4 250.6L574.2 250.3L574.9 249.4L575.0 247.9L575.3 246.5L575.0 244.8L575.9 244.1L577.1 243.7L578.2 242.7L579.5 241.4L580.8 240.6L581.3 239.6L582.6 239.3L583.9 239.0L584.8 238.6L585.5 238.7L585.9 239.9L586.4 240.8L587.5 242.1L587.9 243.4L587.7 244.3L588.8 244.5L590.1 243.6L590.8 244.3L590.8 245.6L591.5 247.4L591.6 249.2L591.3 250.5L591.3 251.4L592.4 252.5L593.1 253.4L593.5 255.0L594.1 256.1L595.7 257.3L596.5 257.3L595.9 256.0L595.8 255.0L595.0 253.6L594.6 252.9L593.7 252.4L593.0 251.0L592.2 250.3L592.6 248.7L592.8 247.4L593.2 246.5L593.7 247.2L594.8 247.7L595.5 248.7L596.8 249.2L597.2 250.5L597.4 250.8L598.7 249.4L599.3 249.2L600.8 248.3L601.0 247.0L600.8 245.2L599.9 244.0L598.8 243.0L597.9 241.7L598.7 240.3L599.9 239.4L601.2 239.4L601.7 240.4L602.1 239.7L603.0 239.4L604.3 239.0L605.5 238.6L607.0 238.1L608.3 237.2L609.7 236.1L610.4 235.0L611.4 233.4L612.3 231.9L611.6 231.5L612.2 230.6L611.3 229.7L610.8 228.1L609.9 227.5L610.8 226.5L612.8 225.8L611.4 225.1L609.7 225.5L608.6 224.3L609.5 223.7L611.4 222.3L612.1 223.9L614.3 223.1L615.2 224.2L614.8 224.8L616.1 225.7L616.3 227.0L616.1 227.9L617.2 227.7L618.7 227.3L619.0 225.7L618.1 224.4L617.2 223.3L619.2 221.7L620.1 220.9L622.1 220.6L624.3 219.2L626.1 217.7L628.3 215.7L628.7 213.7L629.4 211.7L628.7 211.1L627.4 210.6L626.1 210.6L624.7 210.2L626.5 208.4L628.7 207.1L631.0 205.9L634.5 205.8L637.2 205.7L638.9 206.2L641.6 205.9L643.1 204.0L646.0 203.7L648.7 203.1L648.7 204.4L646.0 206.2L643.4 207.5L642.0 209.7L642.9 212.4L643.1 213.3L644.7 211.5L646.0 210.2L647.8 209.7L648.3 208.7L649.0 207.3L648.3 207.1L649.6 205.5L651.4 205.1L654.9 205.3L656.7 204.4L658.9 203.7L661.1 203.1L663.3 203.1L662.9 201.5L662.0 201.1L663.8 200.9M663.8 197.4L660.2 196.7L655.8 196.4L654.9 197.3L652.3 196.9L647.8 196.8L646.0 196.2L643.4 195.6L638.9 195.6L637.2 195.1L633.6 194.4L629.2 194.0L627.8 195.1L624.7 195.1L622.1 195.3L619.4 195.7L618.5 194.2L616.8 193.5L613.2 193.8L609.7 193.8L605.2 193.2L604.8 192.0L600.8 192.9L599.0 190.7L596.3 189.6L592.8 190.9L588.4 191.3L582.1 191.7L580.8 192.9L575.9 193.3L575.5 194.7L571.5 194.0L570.2 194.0L568.8 195.1L569.3 197.3L568.4 199.5L567.1 199.5L567.9 197.8L566.2 193.5L563.5 195.6L563.5 197.3L565.3 197.9L561.7 197.1L557.7 196.6L556.4 197.5L552.4 197.9L551.5 197.5L546.6 198.6L544.9 197.9L543.4 197.8L543.1 199.5L541.3 199.6L539.5 201.1L537.8 201.6L535.1 201.5L534.9 200.2L533.3 199.4L535.1 199.3L540.0 199.5L540.4 198.7L537.8 197.9L533.3 196.9L530.7 196.6L528.9 195.6L526.2 195.5L523.6 196.2L520.9 196.6L518.2 197.6L516.9 198.7L515.6 200.0L514.3 201.0L512.5 202.2L510.3 202.8L508.7 203.5L508.5 204.9L508.9 206.2L510.3 207.1L511.6 206.8L513.4 206.0L513.8 206.2L514.3 207.1L515.1 208.4L515.4 209.3L516.7 209.3L518.2 208.7L518.9 207.5L520.5 205.9L520.0 204.9L519.4 204.0L520.0 202.8L522.2 201.9L523.1 200.9L525.3 200.2L526.5 200.9L525.8 201.8L523.6 202.6L522.9 204.0L523.6 205.0L524.5 205.4L527.1 204.9L529.3 204.9L530.7 205.4L528.9 205.7L525.8 205.8L524.9 206.4L525.6 206.9L525.6 207.7L523.6 207.4L522.7 208.1L522.7 209.5L521.6 210.3L520.5 210.0L518.7 210.2L516.6 210.7L514.7 210.4L513.8 210.6L512.9 210.2L512.9 209.3L513.6 208.4L513.4 207.4L511.4 208.0L511.3 208.9L511.6 209.5L511.8 210.6L510.3 211.1L508.5 211.2L507.9 212.4L507.2 212.9L505.6 213.3L505.4 214.0L504.2 214.5L503.0 214.5L502.5 215.3L500.0 215.5L500.2 216.1L502.0 216.7L503.0 217.7L502.9 219.0L502.4 220.0L500.5 219.9L496.9 219.8L495.9 220.4L496.2 221.3L496.2 222.6L495.6 224.2L496.2 224.5L496.1 225.7L497.4 225.6L498.4 226.0L499.1 226.6M344.3 200.9L346.1 200.4L347.8 201.0L350.5 201.5L351.1 200.7L353.2 200.0L352.3 199.1L348.7 198.7L346.1 197.8L344.3 197.4M545.8 218.2L547.5 217.3L549.3 217.0L551.1 217.3L551.1 218.6L549.3 219.0L548.9 219.9L550.0 220.8L550.8 221.7L552.0 222.1L551.1 223.0L551.8 224.4L551.8 225.7L550.2 225.9L548.9 225.5L547.5 225.1L547.5 223.9L548.0 222.6L547.1 221.4L546.2 220.4L545.8 219.0L545.8 218.2ZM499.0 214.1L500.9 213.9L503.2 213.5L505.2 213.2L504.9 212.8L505.6 211.8L504.3 211.5L504.1 211.0L503.9 210.4L502.7 209.6L502.1 208.9L501.6 208.5L502.3 207.4L500.9 207.3L500.5 207.4L501.2 206.5L499.6 206.5L498.7 207.5L499.2 208.4L499.0 209.3L499.8 209.7L500.9 209.8L501.4 210.7L501.2 211.2L500.1 211.2L500.2 212.0L499.4 212.6L501.1 212.9L501.4 213.1L500.2 213.2L499.0 214.1ZM495.2 212.7L496.9 212.7L498.5 212.2L498.7 211.1L499.0 210.2L498.3 209.6L496.8 209.6L496.4 210.3L495.2 210.4L495.6 211.3L495.2 212.2L495.2 212.7ZM513.8 188.0L518.2 190.4L523.6 189.3L528.0 187.6L521.8 187.1L513.8 188.0ZM549.8 195.6L552.9 195.8L555.1 195.1L553.3 193.5L555.5 192.4L560.0 191.3L564.8 190.4L562.6 190.2L555.5 191.1L552.4 192.9L550.2 194.4L549.8 195.6ZM589.2 188.5L592.8 189.3L596.3 188.5L592.8 187.1L588.4 186.7L589.2 188.5ZM625.6 191.6L630.1 192.0L633.6 191.7L637.2 191.8L632.7 191.1L626.5 191.1L625.6 191.6ZM546.6 187.3L552.0 187.6L557.3 187.1L559.1 186.7L553.7 186.1L546.6 187.0L546.6 187.3ZM662.5 195.6L663.8 195.6L663.8 195.1L662.5 195.6ZM630.1 217.7L631.4 217.0L631.0 215.1L632.3 215.1L631.2 212.8L631.0 211.1L630.7 210.4L630.1 211.1L629.9 212.8L630.1 215.1L630.1 217.7ZM628.3 221.7L629.6 220.8L631.2 221.3L633.2 220.1L632.7 219.3L630.1 218.2L629.6 219.9L628.6 220.2L628.3 221.7ZM629.2 221.8L630.1 223.5L629.2 224.8L629.2 226.6L628.3 227.5L627.2 227.7L625.6 227.8L624.6 228.8L623.9 227.8L622.1 228.1L620.3 228.4L620.3 227.7L621.6 227.0L624.3 226.9L625.5 225.8L625.9 225.3L627.0 225.3L628.1 223.9L628.3 222.6L629.2 221.8ZM619.4 228.8L621.0 228.7L620.7 230.6L619.9 231.0L619.4 229.7L619.2 229.1L619.4 228.8ZM621.6 228.5L623.4 228.2L623.2 228.8L622.1 229.4L621.6 228.5ZM611.9 236.2L612.1 236.8L611.3 239.0L610.7 238.1L611.4 236.3L611.9 236.2ZM600.5 241.5L602.1 240.8L602.6 241.1L601.2 242.4L600.5 241.5ZM575.0 249.8L576.1 251.0L576.6 252.0L575.9 253.0L575.2 253.2L574.8 251.4L575.0 249.8ZM611.0 242.1L612.5 242.1L612.3 243.9L611.9 244.8L612.3 246.1L614.1 247.0L613.9 247.2L612.8 246.4L611.4 246.4L610.7 245.4L610.5 244.1L611.0 242.1ZM612.3 252.3L613.6 251.0L615.4 249.9L616.3 251.9L615.4 253.2L614.1 252.7L612.3 252.3ZM614.4 247.4L615.4 247.6L615.4 248.7L614.8 249.5L614.4 248.5L614.4 247.4ZM612.3 248.0L613.2 248.3L613.5 249.6L612.8 250.1L612.3 249.2L612.3 248.0ZM608.1 251.0L610.1 248.5L609.8 249.4L608.3 251.1L608.1 251.0ZM600.8 257.2L601.7 257.0L602.8 256.3L604.3 255.7L605.7 254.2L607.0 252.5L608.1 252.3L609.7 253.8L608.8 254.7L608.5 255.4L608.8 256.5L609.7 257.6L608.3 258.1L608.3 259.2L607.4 260.5L607.0 261.9L605.7 262.0L604.3 261.3L603.0 261.4L601.8 261.0L601.7 259.7L600.8 258.8L600.8 257.2ZM588.6 253.5L590.6 253.9L592.8 255.8L594.1 256.7L595.9 258.5L596.8 260.3L598.1 261.2L597.9 263.6L596.8 263.6L594.8 262.0L593.7 260.7L593.1 259.2L591.7 257.0L590.3 255.4L588.6 253.5ZM597.4 264.5L598.8 263.8L600.3 264.4L602.4 264.3L604.1 264.6L605.7 265.4L605.6 266.2L602.6 265.9L600.3 265.4L598.5 265.1L597.4 264.5ZM610.4 257.8L611.3 257.3L613.2 257.7L615.0 257.1L614.4 258.1L611.4 258.1L610.7 259.3L611.9 259.4L613.5 259.2L612.1 260.2L613.0 262.0L612.6 263.2L611.9 262.7L611.4 261.0L610.8 261.2L610.9 263.5L610.1 263.4L610.1 261.6L609.5 261.0L610.4 257.8ZM620.3 259.2L621.6 258.9L623.0 259.2L623.2 260.7L624.3 261.4L626.3 259.8L629.2 260.8L632.3 261.9L633.6 262.9L635.2 263.8L634.8 264.7L635.8 266.5L637.6 267.8L635.4 267.5L633.6 265.9L632.3 265.3L631.2 266.5L629.2 266.6L627.4 265.6L626.5 265.9L627.2 264.7L626.5 263.4L624.3 262.5L622.5 261.9L621.9 262.0L621.2 261.0L622.8 260.5L621.2 260.3L620.3 259.2ZM606.8 265.9L607.9 265.9L609.7 265.9L609.2 266.4L607.4 266.5L606.8 265.9ZM610.4 265.9L611.9 266.0L613.2 265.8L613.0 266.3L611.0 266.4L610.4 265.9ZM613.6 267.6L615.0 266.5L616.9 265.9L616.3 266.7L614.5 267.5L613.6 267.6ZM617.2 256.7L618.1 257.2L617.6 258.1L618.1 258.9L617.4 258.5L617.2 256.7ZM617.6 261.2L620.1 261.4L619.4 261.7L617.6 261.5L617.6 261.2ZM635.8 263.5L637.6 263.4L639.1 262.2L638.9 263.2L637.2 264.1L635.8 263.5ZM605.2 278.0L605.2 281.6L606.1 285.1L606.7 286.9L606.1 288.9L608.6 289.6L610.5 288.6L613.6 288.6L615.9 287.1L618.5 286.5L620.5 286.4L622.5 287.0L624.0 289.3L624.7 289.3L626.3 287.4L626.1 289.7L626.8 289.1L626.7 290.1L628.0 291.2L629.0 292.2L631.4 292.9L632.7 292.4L633.9 293.2L635.4 292.1L637.2 291.6L637.4 290.0L638.3 288.2L639.6 286.4L640.3 283.8L640.0 281.1L638.8 279.8L637.8 278.4L636.5 277.1L635.4 276.2L633.9 275.3L633.6 274.0L633.1 271.8L632.3 271.1L631.4 269.6L630.5 268.0L629.8 269.6L629.6 271.8L629.0 274.0L627.7 274.0L626.3 272.5L624.6 271.8L625.5 269.3L623.9 269.3L621.6 268.7L620.1 269.6L619.0 271.8L617.6 271.6L616.8 270.9L615.4 271.4L614.1 273.1L612.6 274.0L612.3 274.9L611.4 276.0L609.7 276.2L607.6 276.8L606.1 277.6L605.2 278.0ZM632.5 294.6L634.1 294.9L635.7 294.8L635.4 296.6L634.1 297.2L633.0 296.2L632.5 294.6ZM657.3 289.1L658.9 290.7L660.1 291.1L660.7 292.0L662.5 291.9L661.8 293.3L661.1 293.5L660.7 294.9L659.6 295.4L659.2 294.4L658.3 293.3L659.1 292.2L658.9 291.3L657.3 289.1ZM657.4 294.4L658.6 295.3L657.6 296.8L656.1 297.8L655.6 299.1L654.0 299.8L652.7 299.5L651.8 299.1L653.4 297.5L655.4 296.4L656.2 295.5L657.4 294.4ZM649.6 276.4L650.9 277.1L652.3 278.3L651.4 278.0L650.0 277.1L649.6 276.4ZM365.6 240.9L366.5 240.9L366.0 241.7L365.6 240.9ZM449.9 304.2L452.6 304.1L452.1 304.8L450.4 304.8L449.9 304.2ZM470.3 306.4L472.1 306.8L471.7 307.1L470.3 306.4ZM565.1 301.9L566.4 302.1L566.2 302.6L565.3 302.5L565.1 301.9ZM344.3 333.8L354.1 332.6L357.5 330.8L360.6 329.7L364.6 329.3L368.7 328.0L376.8 326.0L390.1 324.4L401.2 324.4L412.8 323.5L421.1 324.0L432.5 324.0L438.9 322.3L441.9 319.8L445.6 318.2L449.0 317.0L452.1 314.9L456.2 313.3L457.7 314.3L456.2 316.0L456.2 318.2L452.1 320.8L448.8 324.0L442.3 326.4L432.5 328.0L435.8 329.3L438.9 329.7L444.0 329.4L448.8 330.5L452.5 331.3L457.4 329.4L462.3 329.7L467.2 328.8L472.9 328.8L475.5 327.2L480.6 326.9L485.1 326.4L486.7 324.7L493.4 322.3L499.9 321.1L511.3 320.6L519.5 320.6L530.9 320.2L537.5 319.0L547.3 317.9L553.8 317.1L560.9 319.0L566.7 319.8L565.0 323.5L569.0 320.6L577.2 318.6L587.0 317.3L596.9 316.5L606.7 317.9L618.0 317.3L627.9 317.9L637.7 319.0L647.3 320.2L654.9 322.3L657.3 324.0L650.8 325.6L655.7 327.2L647.3 329.7L652.4 331.3L661.6 332.8M357.8 210.2L356.3 210.7L354.5 211.3L352.3 211.9L349.6 212.3L347.0 212.7L344.3 212.8M657.1 211.6L659.4 212.0L662.0 212.6L663.8 212.8M642.9 213.5L641.6 214.6L639.8 215.9L638.5 217.3L636.7 218.2L634.9 218.8L633.6 219.5M411.7 191.6L417.1 192.0L418.0 190.7L414.4 190.5L411.7 191.6ZM418.4 192.0L421.1 192.3L421.1 191.6L418.8 191.5L418.4 192.0ZM394.9 191.1L400.2 190.9L401.1 190.0L397.5 189.9L394.9 191.1ZM410.9 189.5L415.3 189.5L416.2 188.6L412.6 188.3L410.9 189.5ZM415.7 197.3L418.8 197.7L419.3 196.9L417.1 196.4L415.7 197.3ZM432.2 193.8L435.7 194.2L436.6 193.6L433.5 193.1L432.2 193.8ZM435.7 198.8L437.5 198.8L437.0 197.9L435.3 198.2L435.7 198.8ZM430.4 203.1L433.0 203.3L433.0 202.6L430.8 202.6L430.4 203.1ZM446.8 200.6L443.7 199.5L445.9 200.0M445.9 203.0L443.3 202.0L445.0 202.4M427.7 193.3L429.1 195.1L428.2 194.2M431.3 190.4L427.7 189.8L430.4 188.9L433.9 188.0L429.5 187.4M406.4 194.0L408.2 195.1L404.6 196.0L402.9 195.1M641.3 263.4L642.3 264.5L642.9 265.2L644.3 265.6L645.6 265.9L646.5 267.0L647.8 267.9M637.9 260.8L639.4 261.9L639.8 262.7L639.1 261.5L637.9 260.8ZM651.9 271.6L652.5 272.5L653.4 274.0M661.4 274.0L662.5 274.1L662.3 274.6L661.5 274.5L661.4 274.0ZM610.8 246.6L611.8 246.8L611.7 247.6L611.3 247.5L610.8 246.6ZM614.4 248.4L615.1 248.6L615.2 249.5L614.7 249.5L614.4 248.4ZM615.9 261.2L616.9 261.4L616.6 261.9L615.9 261.6L615.9 261.2ZM597.5 259.9L598.6 260.6L598.7 261.2L597.8 260.5L597.5 259.9ZM609.7 266.8L611.3 267.2L610.5 267.6L609.7 267.2L609.7 266.8ZM532.7 227.5L534.7 226.9L534.0 227.7L532.9 227.7L532.7 227.5ZM525.0 227.0L527.4 227.3L525.8 227.5L525.0 227.0ZM515.1 224.8L517.9 224.6L517.5 226.0L515.2 225.2L515.1 224.8ZM511.4 222.2L512.7 222.1L512.6 223.7L511.6 223.9L511.4 222.2ZM511.8 220.7L512.5 220.5L512.4 221.7L511.9 221.5L511.8 220.7ZM551.4 247.3L552.4 247.4L551.8 247.6L551.4 247.3ZM538.8 263.6L539.1 264.1L538.9 264.2L538.8 263.6ZM443.2 305.1L441.5 305.9L440.6 306.4M438.4 295.6L438.8 296.2L438.4 297.0L438.1 296.2L438.4 295.6ZM422.8 258.8L423.5 258.9L423.1 259.4L422.8 258.8ZM449.1 249.0L450.0 248.9L449.9 249.5L449.1 249.5L449.1 249.0ZM434.4 234.9L435.3 235.2L435.5 236.3L434.8 236.8M363.6 239.4L364.1 239.6L365.2 240.1M344.3 333.1L354.5 333.5L365.7 333.8M459.2 330.4L462.3 331.1L465.3 330.4L462.3 330.0L459.2 330.4ZM474.5 329.8L485.6 329.8" fill="none" stroke="#000" stroke-width="1.1" stroke-linejoin="round"/></g>
<g stroke="#444" stroke-width="0.4"><rect x="489.3" y="1" width="7.6" height="151" fill="url(#rb)"/>
<rect x="318.6" y="181.2" width="7.4" height="154.6" fill="url(#rb)"/>
<rect x="662.6" y="181.2" width="7.8" height="154.6" fill="url(#rb)"/></g>
<path d="M496.9 18.4h1.8" stroke="#333" stroke-width="0.5"/>
<text x="500" y="20.8">200</text>
<path d="M496.9 47.5h1.8" stroke="#333" stroke-width="0.5"/>
<text x="500" y="49.9">100</text>
<path d="M496.9 76.5h1.8" stroke="#333" stroke-width="0.5"/>
<text x="500" y="78.9">0</text>
<path d="M496.9 105.5h1.8" stroke="#333" stroke-width="0.5"/>
<text x="500" y="108.0">-100</text>
<path d="M496.9 134.6h1.8" stroke="#333" stroke-width="0.5"/>
<text x="500" y="137.0">-200</text>
<path d="M325.9 181.2h1.8" stroke="#333" stroke-width="0.5"/>
<text x="330.3" y="184.0">1.0</text>
<path d="M325.9 212.1h1.8" stroke="#333" stroke-width="0.5"/>
<text x="330.3" y="214.9">0.8</text>
<path d="M325.9 243.0h1.8" stroke="#333" stroke-width="0.5"/>
<text x="330.3" y="245.8">0.6</text>
<path d="M325.9 274.0h1.8" stroke="#333" stroke-width="0.5"/>
<text x="330.3" y="276.8">0.4</text>
<path d="M325.9 304.9h1.8" stroke="#333" stroke-width="0.5"/>
<text x="330.3" y="307.7">0.2</text>
<path d="M325.9 335.8h1.8" stroke="#333" stroke-width="0.5"/>
<text x="330.3" y="338.6">0.0</text>
<path d="M670.4 181.2h1.8" stroke="#333" stroke-width="0.5"/>
<text x="674.0" y="184.0">1.0</text>
<path d="M670.4 212.1h1.8" stroke="#333" stroke-width="0.5"/>
<text x="674.0" y="214.9">0.8</text>
<path d="M670.4 243.0h1.8" stroke="#333" stroke-width="0.5"/>
<text x="674.0" y="245.8">0.6</text>
<path d="M670.4 274.0h1.8" stroke="#333" stroke-width="0.5"/>
<text x="674.0" y="276.8">0.4</text>
<path d="M670.4 304.9h1.8" stroke="#333" stroke-width="0.5"/>
<text x="674.0" y="307.7">0.2</text>
<path d="M670.4 335.8h1.8" stroke="#333" stroke-width="0.5"/>
<text x="674.0" y="338.6">0.0</text>
<text class="cap" x="218.2" y="171.3"><tspan font-weight="bold">(a)</tspan> Geopotential height anomaly on the 2013-12-18</text>
<text class="cap" x="93.6" y="357.1"><tspan font-weight="bold">(b)</tspan> Feature importance deCNN</text>
<text class="cap" x="406.2" y="357.1"><tspan font-weight="bold">(c)</tspan> Feature importance deCNN (no pretrain)</text>
</svg></body></html>
